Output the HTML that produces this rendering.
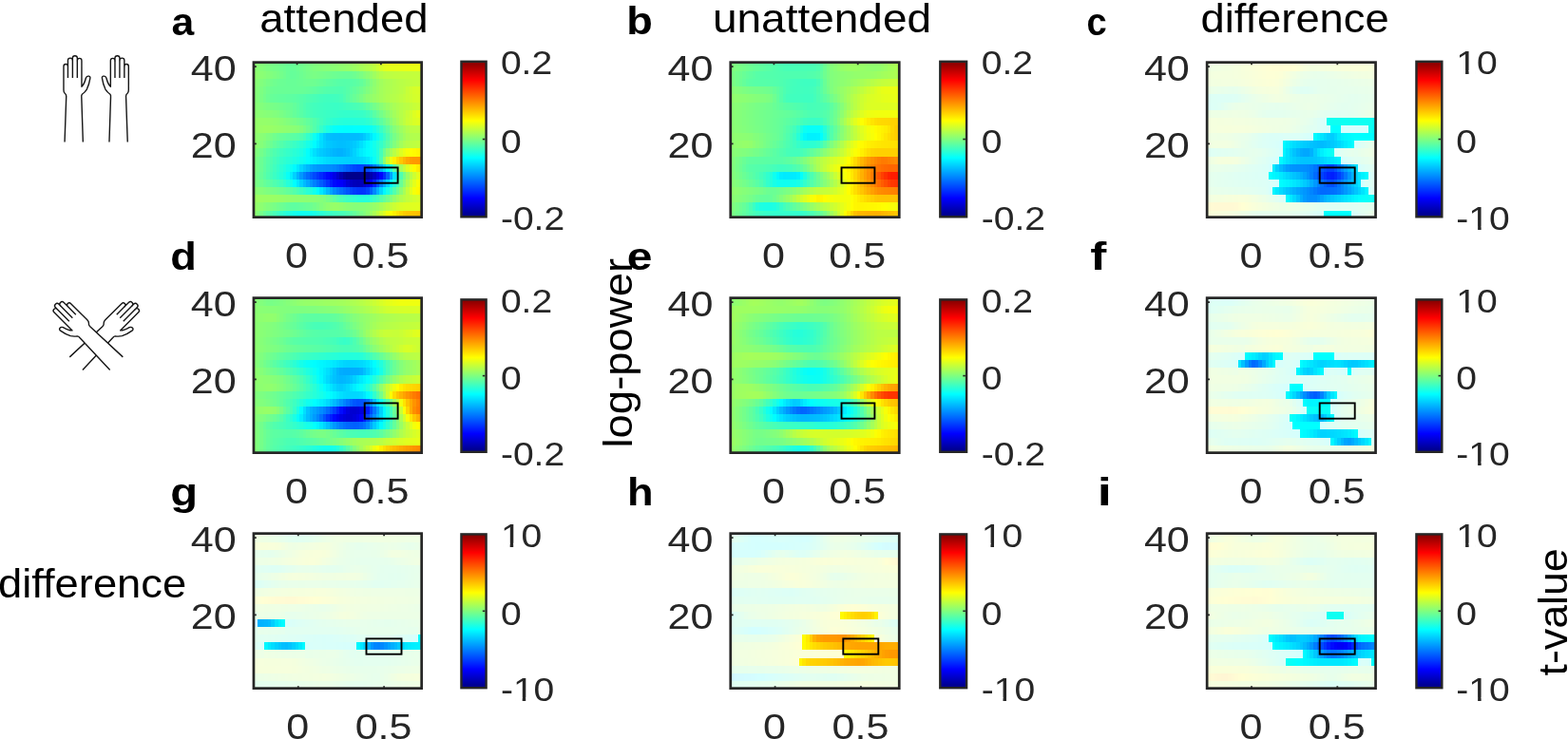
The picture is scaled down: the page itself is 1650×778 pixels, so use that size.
<!DOCTYPE html>
<html lang="en"><head><meta charset="utf-8"><title>Time-frequency figure</title>
<style>html,body{margin:0;padding:0;background:#fff;overflow:hidden}#fig{position:relative;width:1650px;height:778px;overflow:hidden;background:#fff}.hm{position:absolute;overflow:hidden}.in{position:absolute;left:-6px;top:-6px;right:-6px;bottom:-6px;filter:blur(0.6px)}.in i{position:absolute;left:0;right:0;display:block}svg{position:absolute;left:0;top:0;display:block;filter:blur(0.35px)}text{font-family:"Liberation Sans",sans-serif}</style></head>
<body>
<div id="fig">
<div class="hm" style="left:266.6px;top:65.3px;width:177.4px;height:163.7px"><div class="in"><i style="top:0px;height:16.14px;background:linear-gradient(90deg,#8cff73 0 4.5%,#89ff76 0 6.35%,#85ff7a 0 8.21%,#81ff7e 0 10.07%,#7dff82 0 11.93%,#79ff86 0 13.78%,#76ff89 0 15.64%,#74ff8b 0 17.5%,#70ff8f 0 19.36%,#6dff92 0 21.21%,#69ff96 0 23.07%,#67ff98 0 24.93%,#68ff97 0 26.78%,#6cff93 0 28.64%,#70ff8f 0 30.5%,#74ff8b 0 32.36%,#78ff87 0 34.21%,#7cff83 0 36.07%,#80ff7f 0 37.93%,#82ff7d 0 39.79%,#83ff7c 0 41.64%,#85ff7a 0 43.5%,#87ff78 0 45.36%,#89ff76 0 47.21%,#8bff74 0 49.07%,#8dff72 0 50.93%,#8fff70 0 52.79%,#91ff6e 0 54.64%,#94ff6b 0 56.5%,#97ff68 0 58.36%,#9cff63 0 60.21%,#a1ff5e 0 62.07%,#a6ff59 0 63.93%,#abff54 0 65.79%,#b0ff4f 0 67.64%,#b6ff49 0 69.5%,#bfff40 0 71.36%,#cbff34 0 73.22%,#d6ff29 0 75.07%,#dfff20 0 76.93%,#e3ff1c 0 78.79%,#e5ff1a 0 82.5%,#e6ff19 0 86.22%,#e7ff18 0 88.07%,#e8ff17 0 91.79%,#e9ff16 0 95.5%,#eaff15 0)"></i><i style="top:15.74px;height:8.54px;background:linear-gradient(90deg,#91ff6e 0 4.5%,#8eff71 0 6.35%,#8bff74 0 8.21%,#88ff77 0 10.07%,#84ff7b 0 11.93%,#81ff7e 0 13.78%,#7dff82 0 15.64%,#79ff86 0 17.5%,#74ff8b 0 19.36%,#6fff90 0 21.21%,#69ff96 0 23.07%,#65ff9a 0 24.93%,#66ff99 0 26.78%,#69ff96 0 28.64%,#6dff92 0 30.5%,#71ff8e 0 32.36%,#75ff8a 0 34.21%,#78ff87 0 36.07%,#7aff85 0 37.93%,#78ff87 0 39.79%,#76ff89 0 41.64%,#74ff8b 0 43.5%,#72ff8d 0 45.36%,#6fff90 0 47.21%,#6dff92 0 49.07%,#6bff94 0 50.93%,#6aff95 0 52.79%,#69ff96 0 56.5%,#6aff95 0 58.36%,#6eff91 0 60.21%,#74ff8b 0 62.07%,#7bff84 0 63.93%,#83ff7c 0 65.79%,#8bff74 0 67.64%,#95ff6a 0 69.5%,#9fff60 0 71.36%,#aaff55 0 73.22%,#b3ff4c 0 75.07%,#b9ff46 0 76.93%,#bcff43 0 78.79%,#bdff42 0 80.64%,#bfff40 0 82.5%,#c0ff3f 0 84.36%,#c1ff3e 0 86.22%,#c2ff3d 0 89.93%,#c3ff3c 0 91.79%,#c4ff3b 0 95.5%,#c5ff3a 0)"></i><i style="top:23.88px;height:8.54px;background:linear-gradient(90deg,#8bff74 0 4.5%,#87ff78 0 6.35%,#82ff7d 0 8.21%,#7dff82 0 10.07%,#78ff87 0 11.93%,#73ff8c 0 13.78%,#6fff90 0 15.64%,#6cff93 0 17.5%,#6bff94 0 19.36%,#6aff95 0 21.21%,#68ff97 0 26.78%,#6aff95 0 28.64%,#6bff94 0 30.5%,#6dff92 0 32.36%,#6eff91 0 36.07%,#6dff92 0 37.93%,#6aff95 0 39.79%,#67ff98 0 41.64%,#64ff9b 0 43.5%,#60ff9f 0 45.36%,#5dffa2 0 47.21%,#5affa5 0 49.07%,#57ffa8 0 50.93%,#56ffa9 0 52.79%,#55ffaa 0 54.64%,#56ffa9 0 56.5%,#57ffa8 0 58.36%,#5affa5 0 60.21%,#5effa1 0 62.07%,#63ff9c 0 63.93%,#6bff94 0 65.79%,#77ff88 0 67.64%,#83ff7c 0 69.5%,#8eff71 0 71.36%,#99ff66 0 73.22%,#a1ff5e 0 75.07%,#a7ff58 0 76.93%,#abff54 0 78.79%,#aeff51 0 80.64%,#b2ff4d 0 82.5%,#b6ff49 0 84.36%,#b8ff47 0 86.22%,#baff45 0 88.07%,#bdff42 0 89.93%,#c0ff3f 0 91.79%,#c2ff3d 0 93.65%,#c3ff3c 0 95.5%,#c4ff3b 0)"></i><i style="top:32.02px;height:8.54px;background:linear-gradient(90deg,#87ff78 0 4.5%,#83ff7c 0 6.35%,#7dff82 0 8.21%,#77ff88 0 10.07%,#71ff8e 0 11.93%,#6cff93 0 13.78%,#6aff95 0 15.64%,#69ff96 0 23.07%,#68ff97 0 30.5%,#67ff98 0 32.36%,#65ff9a 0 34.21%,#62ff9d 0 36.07%,#5fffa0 0 37.93%,#5bffa4 0 39.79%,#58ffa7 0 41.64%,#55ffaa 0 43.5%,#53ffac 0 45.36%,#51ffae 0 47.21%,#50ffaf 0 49.07%,#4fffb0 0 50.93%,#4effb1 0 52.79%,#51ffae 0 54.64%,#56ffa9 0 56.5%,#5cffa3 0 58.36%,#62ff9d 0 60.21%,#68ff97 0 62.07%,#6fff90 0 63.93%,#77ff88 0 65.79%,#80ff7f 0 67.64%,#89ff76 0 69.5%,#92ff6d 0 71.36%,#9bff64 0 73.22%,#a3ff5c 0 75.07%,#a8ff57 0 76.93%,#acff53 0 78.79%,#afff50 0 80.64%,#b3ff4c 0 82.5%,#b6ff49 0 84.36%,#b9ff46 0 86.22%,#beff41 0 88.07%,#c7ff38 0 89.93%,#d0ff2f 0 91.79%,#d5ff2a 0 93.65%,#d7ff28 0 95.5%,#d9ff26 0)"></i><i style="top:40.16px;height:8.54px;background:linear-gradient(90deg,#87ff78 0 4.5%,#82ff7d 0 6.35%,#7bff84 0 8.21%,#74ff8b 0 10.07%,#6dff92 0 11.93%,#67ff98 0 13.78%,#65ff9a 0 15.64%,#63ff9c 0 17.5%,#62ff9d 0 19.36%,#61ff9e 0 21.21%,#5fffa0 0 23.07%,#5effa1 0 24.93%,#5cffa3 0 26.78%,#59ffa6 0 28.64%,#56ffa9 0 30.5%,#53ffac 0 32.36%,#4fffb0 0 34.21%,#4cffb3 0 36.07%,#49ffb6 0 37.93%,#46ffb9 0 39.79%,#43ffbc 0 41.64%,#41ffbe 0 43.5%,#40ffbf 0 47.21%,#41ffbe 0 49.07%,#42ffbd 0 50.93%,#46ffb9 0 52.79%,#4effb1 0 54.64%,#58ffa7 0 56.5%,#61ff9e 0 58.36%,#68ff97 0 60.21%,#70ff8f 0 62.07%,#79ff86 0 63.93%,#83ff7c 0 65.79%,#8cff73 0 67.64%,#92ff6d 0 69.5%,#98ff67 0 71.36%,#9eff61 0 73.22%,#a4ff5b 0 75.07%,#a9ff56 0 76.93%,#aeff51 0 78.79%,#b2ff4d 0 80.64%,#b5ff4a 0 82.5%,#b9ff46 0 84.36%,#bdff42 0 86.22%,#c2ff3d 0 88.07%,#c8ff37 0 89.93%,#ceff31 0 91.79%,#d3ff2c 0 93.65%,#d5ff2a 0)"></i><i style="top:48.3px;height:8.54px;background:linear-gradient(90deg,#89ff76 0 4.5%,#87ff78 0 6.35%,#83ff7c 0 8.21%,#7fff80 0 10.07%,#7cff83 0 11.93%,#78ff87 0 13.78%,#76ff89 0 15.64%,#74ff8b 0 17.5%,#71ff8e 0 19.36%,#6eff91 0 21.21%,#6bff94 0 23.07%,#68ff97 0 24.93%,#63ff9c 0 26.78%,#5dffa2 0 28.64%,#56ffa9 0 30.5%,#4fffb0 0 32.36%,#49ffb6 0 34.21%,#45ffba 0 36.07%,#42ffbd 0 37.93%,#40ffbf 0 39.79%,#3fffc0 0 41.64%,#3dffc2 0 43.5%,#3cffc3 0 45.36%,#3bffc4 0 47.21%,#3affc5 0 50.93%,#3cffc3 0 52.79%,#3fffc0 0 54.64%,#42ffbd 0 56.5%,#45ffba 0 58.36%,#48ffb7 0 60.21%,#4bffb4 0 62.07%,#4fffb0 0 63.93%,#56ffa9 0 65.79%,#60ff9f 0 67.64%,#6aff95 0 69.5%,#74ff8b 0 71.36%,#7eff81 0 73.22%,#88ff77 0 75.07%,#91ff6e 0 76.93%,#9aff65 0 78.79%,#a2ff5d 0 80.64%,#a9ff56 0 82.5%,#afff50 0 84.36%,#b3ff4c 0 86.22%,#b8ff47 0 88.07%,#bcff43 0 89.93%,#c2ff3d 0 91.79%,#c7ff38 0 93.65%,#cbff34 0 95.5%,#cdff32 0)"></i><i style="top:56.44px;height:8.54px;background:linear-gradient(90deg,#8dff72 0 4.5%,#8cff73 0 6.35%,#8aff75 0 8.21%,#88ff77 0 10.07%,#86ff79 0 11.93%,#85ff7a 0 13.78%,#82ff7d 0 15.64%,#7fff80 0 17.5%,#7aff85 0 19.36%,#75ff8a 0 21.21%,#70ff8f 0 23.07%,#6bff94 0 24.93%,#65ff9a 0 26.78%,#5fffa0 0 28.64%,#59ffa6 0 30.5%,#52ffad 0 32.36%,#4cffb3 0 34.21%,#47ffb8 0 36.07%,#43ffbc 0 37.93%,#40ffbf 0 39.79%,#3effc1 0 41.64%,#3cffc3 0 43.5%,#3affc5 0 45.36%,#38ffc7 0 47.21%,#37ffc8 0 49.07%,#35ffca 0 50.93%,#34ffcb 0 52.79%,#33ffcc 0 56.5%,#34ffcb 0 58.36%,#35ffca 0 60.21%,#36ffc9 0 62.07%,#37ffc8 0 63.93%,#3affc5 0 65.79%,#41ffbe 0 67.64%,#4cffb3 0 69.5%,#5affa5 0 71.36%,#67ff98 0 73.22%,#74ff8b 0 75.07%,#80ff7f 0 76.93%,#8cff73 0 78.79%,#98ff67 0 80.64%,#a3ff5c 0 82.5%,#adff52 0 84.36%,#b6ff49 0 86.22%,#beff41 0 88.07%,#c7ff38 0 89.93%,#d2ff2d 0 91.79%,#deff21 0 93.65%,#e6ff19 0 95.5%,#e9ff16 0)"></i><i style="top:64.58px;height:8.54px;background:linear-gradient(90deg,#95ff6a 0 10.07%,#94ff6b 0 11.93%,#92ff6d 0 13.78%,#90ff6f 0 15.64%,#8eff71 0 17.5%,#8aff75 0 19.36%,#86ff79 0 21.21%,#82ff7d 0 23.07%,#7dff82 0 24.93%,#79ff86 0 26.78%,#74ff8b 0 28.64%,#6fff90 0 30.5%,#69ff96 0 32.36%,#62ff9d 0 34.21%,#5bffa4 0 36.07%,#53ffac 0 37.93%,#4bffb4 0 39.79%,#43ffbc 0 41.64%,#3bffc4 0 43.5%,#35ffca 0 45.36%,#30ffcf 0 47.21%,#2bffd4 0 49.07%,#28ffd7 0 50.93%,#26ffd9 0 52.79%,#24ffdb 0 56.5%,#25ffda 0 60.21%,#26ffd9 0 62.07%,#27ffd8 0 63.93%,#28ffd7 0 65.79%,#2dffd2 0 67.64%,#36ffc9 0 69.5%,#42ffbd 0 71.36%,#4fffb0 0 73.22%,#5cffa3 0 75.07%,#6bff94 0 76.93%,#7aff85 0 78.79%,#8aff75 0 80.64%,#99ff66 0 82.5%,#a7ff58 0 84.36%,#b3ff4c 0 86.22%,#bfff40 0 88.07%,#caff35 0 89.93%,#d2ff2d 0 91.79%,#d9ff26 0 93.65%,#ddff22 0 95.5%,#dfff20 0)"></i><i style="top:72.72px;height:8.54px;background:linear-gradient(90deg,#95ff6a 0 4.5%,#97ff68 0 6.35%,#99ff66 0 8.21%,#9bff64 0 10.07%,#9aff65 0 11.93%,#98ff67 0 13.78%,#96ff69 0 15.64%,#94ff6b 0 17.5%,#92ff6d 0 19.36%,#90ff6f 0 21.21%,#8eff71 0 23.07%,#8cff73 0 24.93%,#8aff75 0 26.78%,#87ff78 0 28.64%,#80ff7f 0 30.5%,#77ff88 0 32.36%,#6cff93 0 34.21%,#60ff9f 0 36.07%,#53ffac 0 37.93%,#45ffba 0 39.79%,#36ffc9 0 41.64%,#27ffd8 0 43.5%,#1affe5 0 45.36%,#0efff1 0 47.21%,#05fffa 0 49.07%,#01fffe 0 50.93%,#00ffff 0 52.79%,#00feff 0 58.36%,#00ffff 0 63.93%,#02fffd 0 65.79%,#05fffa 0 67.64%,#0afff5 0 69.5%,#16ffe9 0 71.36%,#27ffd8 0 73.22%,#39ffc6 0 75.07%,#4cffb3 0 76.93%,#5fffa0 0 78.79%,#73ff8c 0 80.64%,#84ff7b 0 82.5%,#92ff6d 0 84.36%,#9dff62 0 86.22%,#a8ff57 0 88.07%,#b2ff4d 0 89.93%,#b9ff46 0 91.79%,#bbff44 0 93.65%,#bcff43 0)"></i><i style="top:80.86px;height:8.54px;background:linear-gradient(90deg,#91ff6e 0 4.5%,#8eff71 0 6.35%,#8aff75 0 8.21%,#86ff79 0 10.07%,#7fff80 0 11.93%,#78ff87 0 13.78%,#71ff8e 0 15.64%,#6bff94 0 17.5%,#67ff98 0 19.36%,#64ff9b 0 21.21%,#60ff9f 0 23.07%,#5dffa2 0 24.93%,#5affa5 0 26.78%,#56ffa9 0 28.64%,#50ffaf 0 30.5%,#45ffba 0 32.36%,#34ffcb 0 34.21%,#21ffde 0 36.07%,#0cfff3 0 37.93%,#00f6ff 0 39.79%,#00e0ff 0 41.64%,#00cdff 0 43.5%,#00c1ff 0 45.36%,#00bdff 0 47.21%,#00bbff 0 50.93%,#00baff 0 52.79%,#00bbff 0 60.21%,#00bcff 0 62.07%,#00bfff 0 63.93%,#00c9ff 0 65.79%,#00d8ff 0 67.64%,#00e8ff 0 69.5%,#00f9ff 0 71.36%,#0dfff2 0 73.22%,#23ffdc 0 75.07%,#39ffc6 0 76.93%,#50ffaf 0 78.79%,#65ff9a 0 80.64%,#77ff88 0 82.5%,#86ff79 0 84.36%,#93ff6c 0 86.22%,#a0ff5f 0 88.07%,#aaff55 0 89.93%,#b0ff4f 0 91.79%,#b2ff4d 0)"></i><i style="top:89px;height:8.54px;background:linear-gradient(90deg,#90ff6f 0 4.5%,#8bff74 0 6.35%,#85ff7a 0 8.21%,#7eff81 0 10.07%,#75ff8a 0 11.93%,#6cff93 0 13.78%,#63ff9c 0 15.64%,#5bffa4 0 17.5%,#54ffab 0 19.36%,#4dffb2 0 21.21%,#47ffb8 0 23.07%,#40ffbf 0 24.93%,#3affc5 0 26.78%,#33ffcc 0 28.64%,#2cffd3 0 30.5%,#23ffdc 0 32.36%,#17ffe8 0 34.21%,#0bfff4 0 36.07%,#00fdff 0 37.93%,#00edff 0 39.79%,#00ddff 0 41.64%,#00d1ff 0 43.5%,#00c9ff 0 45.36%,#00c6ff 0 47.21%,#00c2ff 0 49.07%,#00bfff 0 50.93%,#00beff 0 52.79%,#00bfff 0 54.64%,#00c2ff 0 56.5%,#00c5ff 0 58.36%,#00caff 0 60.21%,#00d3ff 0 62.07%,#00dfff 0 63.93%,#00edff 0 65.79%,#00faff 0 67.64%,#08fff7 0 69.5%,#14ffeb 0 71.36%,#23ffdc 0 73.22%,#34ffcb 0 75.07%,#47ffb8 0 76.93%,#5bffa4 0 78.79%,#6eff91 0 80.64%,#81ff7e 0 82.5%,#92ff6d 0 84.36%,#a2ff5d 0 86.22%,#afff50 0 88.07%,#b6ff49 0 89.93%,#bbff44 0 91.79%,#beff41 0 93.65%,#c1ff3e 0 95.5%,#c3ff3c 0)"></i><i style="top:97.14px;height:8.54px;background:linear-gradient(90deg,#85ff7a 0 4.5%,#7eff81 0 6.35%,#74ff8b 0 8.21%,#6bff94 0 10.07%,#60ff9f 0 11.93%,#56ffa9 0 13.78%,#4effb1 0 15.64%,#47ffb8 0 17.5%,#40ffbf 0 19.36%,#3affc5 0 21.21%,#35ffca 0 23.07%,#2fffd0 0 24.93%,#29ffd6 0 26.78%,#24ffdb 0 28.64%,#1dffe2 0 30.5%,#12ffed 0 32.36%,#03fffc 0 34.21%,#00f0ff 0 36.07%,#00e0ff 0 37.93%,#00d3ff 0 39.79%,#00cbff 0 41.64%,#00c5ff 0 43.5%,#00bfff 0 45.36%,#00baff 0 47.21%,#00b5ff 0 49.07%,#00b1ff 0 52.79%,#00b6ff 0 54.64%,#00bdff 0 56.5%,#00c6ff 0 58.36%,#00d2ff 0 60.21%,#00e0ff 0 62.07%,#00ecff 0 63.93%,#00f5ff 0 65.79%,#00fdff 0 67.64%,#07fff8 0 69.5%,#10ffef 0 71.36%,#22ffdd 0 73.22%,#44ffbb 0 75.07%,#6cff93 0 76.93%,#8dff72 0 78.79%,#a5ff5a 0 80.64%,#b9ff46 0 82.5%,#cbff34 0 84.36%,#ddff22 0 86.22%,#ecff13 0 88.07%,#f6ff09 0 89.93%,#fdff02 0 91.79%,#fffb00 0 93.65%,#fff600 0 95.5%,#fff200 0)"></i><i style="top:105.28px;height:8.54px;background:linear-gradient(90deg,#7dff82 0 4.5%,#75ff8a 0 6.35%,#6bff94 0 8.21%,#61ff9e 0 10.07%,#57ffa8 0 11.93%,#4effb1 0 13.78%,#45ffba 0 15.64%,#3dffc2 0 17.5%,#35ffca 0 19.36%,#2fffd0 0 21.21%,#29ffd6 0 23.07%,#24ffdb 0 24.93%,#1effe1 0 26.78%,#18ffe7 0 28.64%,#11ffee 0 30.5%,#0afff5 0 32.36%,#02fffd 0 34.21%,#00f9ff 0 36.07%,#00f2ff 0 37.93%,#00ebff 0 39.79%,#00e5ff 0 41.64%,#00dfff 0 43.5%,#00daff 0 45.36%,#00d6ff 0 47.21%,#00d4ff 0 49.07%,#00d3ff 0 50.93%,#00d2ff 0 52.79%,#00d1ff 0 54.64%,#00d0ff 0 58.36%,#00d1ff 0 60.21%,#00d3ff 0 62.07%,#00d7ff 0 63.93%,#00dcff 0 65.79%,#00e5ff 0 67.64%,#00f4ff 0 69.5%,#08fff7 0 71.36%,#21ffde 0 73.22%,#4bffb4 0 75.07%,#8fff70 0 76.93%,#c4ff3b 0 78.79%,#ecff13 0 80.64%,#fff200 0 82.5%,#ffda00 0 84.36%,#ffc700 0 86.22%,#ffb500 0 88.07%,#ffa600 0 89.93%,#ff9c00 0 91.79%,#ff9900 0 93.65%,#ff9800 0 95.5%,#ff9700 0)"></i><i style="top:113.42px;height:8.54px;background:linear-gradient(90deg,#7eff81 0 4.5%,#75ff8a 0 6.35%,#6aff95 0 8.21%,#5fffa0 0 10.07%,#54ffab 0 11.93%,#4affb5 0 13.78%,#40ffbf 0 15.64%,#36ffc9 0 17.5%,#2cffd3 0 19.36%,#23ffdc 0 21.21%,#18ffe7 0 23.07%,#0cfff3 0 24.93%,#00fbff 0 26.78%,#00e9ff 0 28.64%,#00d6ff 0 30.5%,#00c5ff 0 32.36%,#00b6ff 0 34.21%,#00a7ff 0 36.07%,#009dff 0 37.93%,#0097ff 0 39.79%,#0094ff 0 41.64%,#0091ff 0 43.5%,#008eff 0 45.36%,#008bff 0 47.21%,#0086ff 0 49.07%,#007eff 0 50.93%,#0073ff 0 52.79%,#0067ff 0 54.64%,#005cff 0 56.5%,#0051ff 0 58.36%,#0047ff 0 60.21%,#0041ff 0 62.07%,#0040ff 0 63.93%,#0041ff 0 65.79%,#004bff 0 67.64%,#005fff 0 69.5%,#0079ff 0 71.36%,#0095ff 0 73.22%,#00b4ff 0 75.07%,#00d7ff 0 76.93%,#00fbff 0 78.79%,#24ffdb 0 80.64%,#54ffab 0 82.5%,#83ff7c 0 84.36%,#a7ff58 0 86.22%,#c3ff3c 0 88.07%,#ddff22 0 89.93%,#f2ff0d 0 91.79%,#fffb00 0 93.65%,#ffed00 0 95.5%,#ffe400 0)"></i><i style="top:121.56px;height:8.54px;background:linear-gradient(90deg,#7aff85 0 4.5%,#71ff8e 0 6.35%,#66ff99 0 8.21%,#5bffa4 0 10.07%,#50ffaf 0 11.93%,#45ffba 0 13.78%,#3bffc4 0 15.64%,#31ffce 0 17.5%,#26ffd9 0 19.36%,#1affe5 0 21.21%,#08fff7 0 23.07%,#00eeff 0 24.93%,#00d1ff 0 26.78%,#00b3ff 0 28.64%,#0097ff 0 30.5%,#007fff 0 32.36%,#006bff 0 34.21%,#005aff 0 36.07%,#0049ff 0 37.93%,#0038ff 0 39.79%,#0028ff 0 41.64%,#0018ff 0 43.5%,#0008ff 0 45.36%,#0000f7 0 47.21%,#0000e5 0 49.07%,#0000cd 0 50.93%,#0000b1 0 52.79%,#00009a 0 54.64%,#00008e 0 56.5%,#00008c 0 63.93%,#00008e 0 65.79%,#000097 0 67.64%,#0000ab 0 69.5%,#0000c3 0 71.36%,#0000df 0 73.22%,#0004ff 0 75.07%,#002eff 0 76.93%,#0063ff 0 78.79%,#00a3ff 0 80.64%,#00e4ff 0 82.5%,#1fffe0 0 84.36%,#4effb1 0 86.22%,#77ff88 0 88.07%,#9bff64 0 89.93%,#b7ff48 0 91.79%,#ceff31 0 93.65%,#e2ff1d 0 95.5%,#efff10 0)"></i><i style="top:129.7px;height:8.54px;background:linear-gradient(90deg,#7cff83 0 4.5%,#76ff89 0 6.35%,#6fff90 0 8.21%,#67ff98 0 10.07%,#5fffa0 0 11.93%,#58ffa7 0 13.78%,#50ffaf 0 15.64%,#49ffb6 0 17.5%,#40ffbf 0 19.36%,#34ffcb 0 21.21%,#25ffda 0 23.07%,#14ffeb 0 24.93%,#01fffe 0 26.78%,#00e9ff 0 28.64%,#00d1ff 0 30.5%,#00bbff 0 32.36%,#00a7ff 0 34.21%,#0093ff 0 36.07%,#0080ff 0 37.93%,#006eff 0 39.79%,#005cff 0 41.64%,#0049ff 0 43.5%,#0033ff 0 45.36%,#001bff 0 47.21%,#0008ff 0 49.07%,#0001ff 0 50.93%,#0000fb 0 52.79%,#0000ed 0 54.64%,#0000d7 0 56.5%,#0000c4 0 58.36%,#0000bb 0 60.21%,#0000b7 0 62.07%,#0000b9 0 63.93%,#0000c8 0 65.79%,#0000df 0 67.64%,#0000fb 0 69.5%,#0023ff 0 71.36%,#0052ff 0 73.22%,#0081ff 0 75.07%,#00acff 0 76.93%,#00d4ff 0 78.79%,#00faff 0 80.64%,#20ffdf 0 82.5%,#45ffba 0 84.36%,#68ff97 0 86.22%,#8cff73 0 88.07%,#afff50 0 89.93%,#cdff32 0 91.79%,#e5ff1a 0 93.65%,#f8ff07 0 95.5%,#fff900 0)"></i><i style="top:137.84px;height:8.54px;background:linear-gradient(90deg,#8cff73 0 4.5%,#89ff76 0 6.35%,#86ff79 0 8.21%,#82ff7d 0 10.07%,#7eff81 0 11.93%,#7aff85 0 13.78%,#77ff88 0 15.64%,#73ff8c 0 17.5%,#6eff91 0 19.36%,#69ff96 0 21.21%,#63ff9c 0 23.07%,#5cffa3 0 24.93%,#54ffab 0 26.78%,#4affb5 0 28.64%,#3fffc0 0 30.5%,#35ffca 0 32.36%,#2affd5 0 34.21%,#20ffdf 0 36.07%,#12ffed 0 37.93%,#00feff 0 39.79%,#00e8ff 0 41.64%,#00d2ff 0 43.5%,#00baff 0 45.36%,#00a2ff 0 47.21%,#008bff 0 49.07%,#007bff 0 50.93%,#006eff 0 52.79%,#0060ff 0 54.64%,#0053ff 0 56.5%,#0046ff 0 58.36%,#003bff 0 60.21%,#0035ff 0 62.07%,#0033ff 0 63.93%,#0035ff 0 65.79%,#0043ff 0 67.64%,#0061ff 0 69.5%,#0087ff 0 71.36%,#00afff 0 73.22%,#00d6ff 0 75.07%,#00f8ff 0 76.93%,#18ffe7 0 78.79%,#35ffca 0 80.64%,#52ffad 0 82.5%,#70ff8f 0 84.36%,#8cff73 0 86.22%,#a8ff57 0 88.07%,#c5ff3a 0 89.93%,#e1ff1e 0 91.79%,#f6ff09 0 93.65%,#fffa00 0 95.5%,#fff200 0)"></i><i style="top:145.98px;height:8.54px;background:linear-gradient(90deg,#9dff62 0 6.35%,#9cff63 0 8.21%,#9bff64 0 11.93%,#9aff65 0 13.78%,#99ff66 0 15.64%,#98ff67 0 17.5%,#97ff68 0 19.36%,#95ff6a 0 21.21%,#93ff6c 0 23.07%,#92ff6d 0 24.93%,#90ff6f 0 26.78%,#8fff70 0 30.5%,#8eff71 0 32.36%,#8dff72 0 34.21%,#8cff73 0 36.07%,#8bff74 0 37.93%,#88ff77 0 39.79%,#85ff7a 0 41.64%,#80ff7f 0 43.5%,#76ff89 0 45.36%,#6aff95 0 47.21%,#5fffa0 0 49.07%,#53ffac 0 50.93%,#4affb5 0 52.79%,#42ffbd 0 54.64%,#3bffc4 0 56.5%,#34ffcb 0 58.36%,#2fffd0 0 60.21%,#2affd5 0 62.07%,#27ffd8 0 63.93%,#25ffda 0 65.79%,#27ffd8 0 67.64%,#2fffd0 0 69.5%,#3affc5 0 71.36%,#46ffb9 0 73.22%,#54ffab 0 75.07%,#62ff9d 0 76.93%,#72ff8d 0 78.79%,#83ff7c 0 80.64%,#94ff6b 0 82.5%,#a4ff5b 0 84.36%,#b0ff4f 0 86.22%,#b9ff46 0 88.07%,#c2ff3d 0 89.93%,#caff35 0 91.79%,#d1ff2e 0 93.65%,#d6ff29 0 95.5%,#d8ff27 0)"></i><i style="top:154.12px;height:8.54px;background:linear-gradient(90deg,#97ff68 0 4.5%,#92ff6d 0 6.35%,#8dff72 0 8.21%,#87ff78 0 10.07%,#82ff7d 0 11.93%,#7dff82 0 13.78%,#78ff87 0 15.64%,#72ff8d 0 17.5%,#6dff92 0 19.36%,#68ff97 0 21.21%,#63ff9c 0 23.07%,#5fffa0 0 24.93%,#5effa1 0 26.78%,#60ff9f 0 28.64%,#63ff9c 0 30.5%,#66ff99 0 32.36%,#69ff96 0 34.21%,#6dff92 0 36.07%,#72ff8d 0 37.93%,#79ff86 0 39.79%,#81ff7e 0 41.64%,#88ff77 0 43.5%,#8eff71 0 45.36%,#94ff6b 0 47.21%,#97ff68 0 49.07%,#96ff69 0 50.93%,#92ff6d 0 52.79%,#8eff71 0 54.64%,#8bff74 0 56.5%,#89ff76 0 58.36%,#87ff78 0 62.07%,#88ff77 0 63.93%,#89ff76 0 65.79%,#8cff73 0 67.64%,#91ff6e 0 69.5%,#97ff68 0 71.36%,#9dff62 0 73.22%,#a6ff59 0 75.07%,#b0ff4f 0 76.93%,#baff45 0 78.79%,#c3ff3c 0 80.64%,#ccff33 0 82.5%,#d4ff2b 0 84.36%,#d9ff26 0 86.22%,#dcff23 0 88.07%,#deff21 0 89.93%,#dfff20 0 91.79%,#e0ff1f 0 93.65%,#e1ff1e 0 95.5%,#e2ff1d 0)"></i><i style="top:162.26px;height:18.14px;background:linear-gradient(90deg,#8eff71 0 4.5%,#83ff7c 0 6.35%,#75ff8a 0 8.21%,#67ff98 0 10.07%,#5cffa3 0 11.93%,#51ffae 0 13.78%,#47ffb8 0 15.64%,#3dffc2 0 17.5%,#33ffcc 0 19.36%,#2affd5 0 21.21%,#22ffdd 0 23.07%,#1affe5 0 24.93%,#14ffeb 0 26.78%,#0ffff0 0 28.64%,#0efff1 0 30.5%,#0ffff0 0 32.36%,#10ffef 0 34.21%,#12ffed 0 36.07%,#18ffe7 0 37.93%,#1fffe0 0 39.79%,#27ffd8 0 41.64%,#2effd1 0 43.5%,#34ffcb 0 45.36%,#39ffc6 0 47.21%,#3effc1 0 49.07%,#42ffbd 0 50.93%,#45ffba 0 52.79%,#49ffb6 0 54.64%,#50ffaf 0 56.5%,#5affa5 0 58.36%,#63ff9c 0 60.21%,#6dff92 0 62.07%,#77ff88 0 63.93%,#81ff7e 0 65.79%,#8dff72 0 67.64%,#9bff64 0 69.5%,#abff54 0 71.36%,#bcff43 0 73.22%,#ceff31 0 75.07%,#e0ff1f 0 76.93%,#f2ff0d 0 78.79%,#fffe00 0 80.64%,#fff000 0 82.5%,#ffe300 0 84.36%,#ffd600 0 86.22%,#ffcc00 0 88.07%,#ffc700 0 89.93%,#ffc400 0 91.79%,#ffc200 0 93.65%,#ffbf00 0 95.5%,#ffbd00 0)"></i></div></div>
<div class="hm" style="left:768.4px;top:65.3px;width:178.2px;height:163.7px"><div class="in"><i style="top:0px;height:16.14px;background:linear-gradient(90deg,#82ff7d 0 4.49%,#7fff80 0 6.34%,#7bff84 0 8.2%,#77ff88 0 10.06%,#73ff8c 0 11.92%,#6fff90 0 13.77%,#6bff94 0 15.63%,#67ff98 0 17.49%,#64ff9b 0 19.35%,#60ff9f 0 21.21%,#5dffa2 0 23.06%,#5affa5 0 24.92%,#57ffa8 0 26.78%,#53ffac 0 28.64%,#50ffaf 0 30.49%,#4dffb2 0 32.35%,#4affb5 0 34.21%,#49ffb6 0 41.64%,#4affb5 0 45.36%,#4bffb4 0 49.07%,#4cffb3 0 50.93%,#51ffae 0 52.79%,#5dffa2 0 54.64%,#6dff92 0 56.5%,#7bff84 0 58.36%,#84ff7b 0 60.22%,#8aff75 0 62.08%,#90ff6f 0 63.93%,#95ff6a 0 65.79%,#99ff66 0 67.65%,#9bff64 0 73.22%,#99ff66 0 75.08%,#97ff68 0 76.94%,#95ff6a 0 78.79%,#93ff6c 0 80.65%,#91ff6e 0 82.51%,#90ff6f 0 84.37%,#92ff6d 0 86.23%,#96ff69 0 88.08%,#9bff64 0 89.94%,#a1ff5e 0 91.8%,#a6ff59 0 93.66%,#abff54 0 95.51%,#afff50 0)"></i><i style="top:15.74px;height:8.54px;background:linear-gradient(90deg,#7dff82 0 4.49%,#79ff86 0 6.34%,#73ff8c 0 8.2%,#6eff91 0 10.06%,#68ff97 0 11.92%,#63ff9c 0 13.77%,#5fffa0 0 15.63%,#5bffa4 0 17.49%,#57ffa8 0 19.35%,#55ffaa 0 21.21%,#54ffab 0 23.06%,#53ffac 0 26.78%,#52ffad 0 28.64%,#51ffae 0 30.49%,#50ffaf 0 32.35%,#4fffb0 0 45.36%,#51ffae 0 47.21%,#52ffad 0 49.07%,#54ffab 0 50.93%,#58ffa7 0 52.79%,#62ff9d 0 54.64%,#6fff90 0 56.5%,#7aff85 0 58.36%,#82ff7d 0 60.22%,#86ff79 0 62.08%,#89ff76 0 63.93%,#8cff73 0 65.79%,#8eff71 0 67.65%,#90ff6f 0 69.51%,#91ff6e 0 71.36%,#93ff6c 0 73.22%,#94ff6b 0 75.08%,#95ff6a 0 76.94%,#96ff69 0 78.79%,#97ff68 0 80.65%,#99ff66 0 82.51%,#9bff64 0 84.37%,#9eff61 0 86.23%,#a1ff5e 0 88.08%,#a4ff5b 0 89.94%,#a7ff58 0 91.8%,#aaff55 0 93.66%,#adff52 0 95.51%,#afff50 0)"></i><i style="top:23.88px;height:8.54px;background:linear-gradient(90deg,#7eff81 0 4.49%,#79ff86 0 6.34%,#72ff8d 0 8.2%,#6bff94 0 10.06%,#64ff9b 0 11.92%,#5dffa2 0 13.77%,#5affa5 0 15.63%,#58ffa7 0 17.49%,#57ffa8 0 19.35%,#56ffa9 0 23.06%,#55ffaa 0 24.92%,#54ffab 0 26.78%,#53ffac 0 28.64%,#52ffad 0 30.49%,#4fffb0 0 32.35%,#4cffb3 0 34.21%,#49ffb6 0 36.07%,#45ffba 0 37.92%,#43ffbc 0 39.78%,#41ffbe 0 41.64%,#3fffc0 0 43.5%,#3effc1 0 49.07%,#40ffbf 0 50.93%,#47ffb8 0 52.79%,#56ffa9 0 54.64%,#69ff96 0 56.5%,#78ff87 0 58.36%,#81ff7e 0 60.22%,#86ff79 0 62.08%,#8aff75 0 63.93%,#8dff72 0 65.79%,#90ff6f 0 67.65%,#94ff6b 0 69.51%,#99ff66 0 71.36%,#9dff62 0 73.22%,#a2ff5d 0 75.08%,#a7ff58 0 76.94%,#acff53 0 78.79%,#b1ff4e 0 80.65%,#b7ff48 0 82.51%,#bcff43 0 84.37%,#c0ff3f 0 86.23%,#c3ff3c 0 88.08%,#c5ff3a 0 89.94%,#c7ff38 0 91.8%,#c9ff36 0 93.66%,#caff35 0 95.51%,#ccff33 0)"></i><i style="top:32.02px;height:8.54px;background:linear-gradient(90deg,#8aff75 0 4.49%,#88ff77 0 6.34%,#84ff7b 0 8.2%,#81ff7e 0 10.06%,#7dff82 0 11.92%,#7aff85 0 13.77%,#78ff87 0 15.63%,#76ff89 0 17.49%,#75ff8a 0 19.35%,#74ff8b 0 21.21%,#72ff8d 0 23.06%,#70ff8f 0 24.92%,#6cff93 0 26.78%,#65ff9a 0 28.64%,#5effa1 0 30.49%,#56ffa9 0 32.35%,#4effb1 0 34.21%,#48ffb7 0 36.07%,#44ffbb 0 37.92%,#42ffbd 0 39.78%,#41ffbe 0 43.5%,#40ffbf 0 47.21%,#42ffbd 0 49.07%,#46ffb9 0 50.93%,#4fffb0 0 52.79%,#5affa5 0 54.64%,#68ff97 0 56.5%,#75ff8a 0 58.36%,#80ff7f 0 60.22%,#89ff76 0 62.08%,#90ff6f 0 63.93%,#96ff69 0 65.79%,#9dff62 0 67.65%,#a3ff5c 0 69.51%,#aaff55 0 71.36%,#b0ff4f 0 73.22%,#b8ff47 0 75.08%,#bfff40 0 76.94%,#c7ff38 0 78.79%,#ceff31 0 80.65%,#d4ff2b 0 82.51%,#dbff24 0 84.37%,#e2ff1d 0 86.23%,#e7ff18 0 88.08%,#e9ff16 0 89.94%,#eaff15 0 91.8%,#ebff14 0 95.51%,#ecff13 0)"></i><i style="top:40.16px;height:8.54px;background:linear-gradient(90deg,#93ff6c 0 4.49%,#91ff6e 0 6.34%,#8fff70 0 8.2%,#8dff72 0 10.06%,#8cff73 0 11.92%,#8aff75 0 13.77%,#88ff77 0 15.63%,#86ff79 0 17.49%,#84ff7b 0 19.35%,#82ff7d 0 21.21%,#81ff7e 0 23.06%,#7eff81 0 24.92%,#78ff87 0 26.78%,#6eff91 0 28.64%,#62ff9d 0 30.49%,#56ffa9 0 32.35%,#4bffb4 0 34.21%,#44ffbb 0 36.07%,#41ffbe 0 37.92%,#40ffbf 0 41.64%,#3fffc0 0 43.5%,#3effc1 0 47.21%,#3fffc0 0 49.07%,#44ffbb 0 50.93%,#4cffb3 0 52.79%,#54ffab 0 54.64%,#5dffa2 0 56.5%,#66ff99 0 58.36%,#72ff8d 0 60.22%,#7dff82 0 62.08%,#88ff77 0 63.93%,#93ff6c 0 65.79%,#9eff61 0 67.65%,#a8ff57 0 69.51%,#b2ff4d 0 71.36%,#bbff44 0 73.22%,#c3ff3c 0 75.08%,#ccff33 0 76.94%,#d3ff2c 0 78.79%,#d8ff27 0 80.65%,#dbff24 0 82.51%,#deff21 0 84.37%,#e0ff1f 0 86.23%,#e3ff1c 0 88.08%,#e5ff1a 0 89.94%,#e6ff19 0 91.8%,#e7ff18 0 93.66%,#e9ff16 0 95.51%,#eaff15 0)"></i><i style="top:48.3px;height:8.54px;background:linear-gradient(90deg,#8dff72 0 4.49%,#8bff74 0 6.34%,#89ff76 0 8.2%,#86ff79 0 10.06%,#83ff7c 0 11.92%,#80ff7f 0 13.77%,#7dff82 0 15.63%,#7bff84 0 17.49%,#78ff87 0 19.35%,#76ff89 0 21.21%,#74ff8b 0 23.06%,#71ff8e 0 24.92%,#6eff91 0 26.78%,#69ff96 0 28.64%,#64ff9b 0 30.49%,#5fffa0 0 32.35%,#5affa5 0 34.21%,#57ffa8 0 36.07%,#55ffaa 0 37.92%,#52ffad 0 39.78%,#4fffb0 0 41.64%,#4cffb3 0 43.5%,#49ffb6 0 45.36%,#46ffb9 0 49.07%,#47ffb8 0 50.93%,#49ffb6 0 52.79%,#4bffb4 0 54.64%,#4effb1 0 56.5%,#53ffac 0 58.36%,#5dffa2 0 60.22%,#6aff95 0 62.08%,#78ff87 0 63.93%,#86ff79 0 65.79%,#95ff6a 0 67.65%,#a3ff5c 0 69.51%,#afff50 0 71.36%,#baff45 0 73.22%,#c4ff3b 0 75.08%,#ceff31 0 76.94%,#d6ff29 0 78.79%,#daff25 0 80.65%,#dcff23 0 86.23%,#ddff22 0 89.94%,#deff21 0 93.66%,#dfff20 0)"></i><i style="top:56.44px;height:8.54px;background:linear-gradient(90deg,#8bff74 0 4.49%,#89ff76 0 6.34%,#86ff79 0 8.2%,#84ff7b 0 10.06%,#81ff7e 0 11.92%,#7eff81 0 13.77%,#7cff83 0 15.63%,#79ff86 0 17.49%,#77ff88 0 19.35%,#74ff8b 0 21.21%,#72ff8d 0 23.06%,#70ff8f 0 24.92%,#6eff91 0 26.78%,#6bff94 0 28.64%,#69ff96 0 30.49%,#67ff98 0 32.35%,#65ff9a 0 34.21%,#63ff9c 0 36.07%,#60ff9f 0 37.92%,#5dffa2 0 39.78%,#59ffa6 0 41.64%,#55ffaa 0 43.5%,#51ffae 0 45.36%,#4effb1 0 47.21%,#4bffb4 0 50.93%,#4cffb3 0 52.79%,#4fffb0 0 54.64%,#53ffac 0 56.5%,#58ffa7 0 58.36%,#62ff9d 0 60.22%,#6fff90 0 62.08%,#7eff81 0 63.93%,#8eff71 0 65.79%,#9fff60 0 67.65%,#afff50 0 69.51%,#bcff43 0 71.36%,#c8ff37 0 73.22%,#d3ff2c 0 75.08%,#deff21 0 76.94%,#e7ff18 0 78.79%,#ecff13 0 80.65%,#eeff11 0 82.51%,#f0ff0f 0 84.37%,#f1ff0e 0 88.08%,#f2ff0d 0 91.8%,#f3ff0c 0)"></i><i style="top:64.58px;height:8.54px;background:linear-gradient(90deg,#8bff74 0 4.49%,#89ff76 0 6.34%,#86ff79 0 8.2%,#84ff7b 0 10.06%,#81ff7e 0 11.92%,#7fff80 0 13.77%,#7cff83 0 15.63%,#7aff85 0 17.49%,#77ff88 0 19.35%,#75ff8a 0 21.21%,#72ff8d 0 23.06%,#70ff8f 0 24.92%,#6dff92 0 26.78%,#6aff95 0 28.64%,#67ff98 0 30.49%,#64ff9b 0 32.35%,#60ff9f 0 34.21%,#5cffa3 0 36.07%,#58ffa7 0 37.92%,#54ffab 0 39.78%,#4effb1 0 41.64%,#46ffb9 0 43.5%,#40ffbf 0 45.36%,#3dffc2 0 47.21%,#3affc5 0 49.07%,#39ffc6 0 50.93%,#3affc5 0 52.79%,#40ffbf 0 54.64%,#4bffb4 0 56.5%,#57ffa8 0 58.36%,#64ff9b 0 60.22%,#72ff8d 0 62.08%,#85ff7a 0 63.93%,#9bff64 0 65.79%,#afff50 0 67.65%,#c1ff3e 0 69.51%,#d2ff2d 0 71.36%,#e2ff1d 0 73.22%,#f0ff0f 0 75.08%,#fdff02 0 76.94%,#fff600 0 78.79%,#ffec00 0 80.65%,#ffe400 0 82.51%,#ffdd00 0 84.37%,#ffd900 0 86.23%,#ffd800 0 88.08%,#ffd700 0 89.94%,#ffd600 0 91.8%,#ffd400 0 93.66%,#ffd300 0)"></i><i style="top:72.72px;height:8.54px;background:linear-gradient(90deg,#8cff73 0 4.49%,#8aff75 0 6.34%,#88ff77 0 8.2%,#85ff7a 0 10.06%,#83ff7c 0 11.92%,#80ff7f 0 13.77%,#7eff81 0 15.63%,#7bff84 0 17.49%,#79ff86 0 19.35%,#76ff89 0 21.21%,#73ff8c 0 23.06%,#70ff8f 0 24.92%,#6dff92 0 26.78%,#6aff95 0 28.64%,#67ff98 0 30.49%,#63ff9c 0 32.35%,#5cffa3 0 34.21%,#54ffab 0 36.07%,#4dffb2 0 37.92%,#43ffbc 0 39.78%,#33ffcc 0 41.64%,#1dffe2 0 43.5%,#0cfff3 0 45.36%,#06fff9 0 52.79%,#0ffff0 0 54.64%,#25ffda 0 56.5%,#3effc1 0 58.36%,#51ffae 0 60.22%,#63ff9c 0 62.08%,#75ff8a 0 63.93%,#87ff78 0 65.79%,#97ff68 0 67.65%,#a6ff59 0 69.51%,#b5ff4a 0 71.36%,#c4ff3b 0 73.22%,#d3ff2c 0 75.08%,#e0ff1f 0 76.94%,#eaff15 0 78.79%,#f3ff0c 0 80.65%,#faff05 0 82.51%,#fffc00 0 84.37%,#fff600 0 86.23%,#fff200 0 88.08%,#ffed00 0 89.94%,#ffe400 0 91.8%,#ffd700 0 93.66%,#ffce00 0 95.51%,#ffcc00 0)"></i><i style="top:80.86px;height:8.54px;background:linear-gradient(90deg,#8fff70 0 6.34%,#8eff71 0 8.2%,#8dff72 0 10.06%,#8cff73 0 11.92%,#8bff74 0 13.77%,#89ff76 0 15.63%,#85ff7a 0 17.49%,#82ff7d 0 19.35%,#7dff82 0 21.21%,#79ff86 0 23.06%,#74ff8b 0 24.92%,#70ff8f 0 26.78%,#6cff93 0 28.64%,#68ff97 0 30.49%,#62ff9d 0 32.35%,#59ffa6 0 34.21%,#50ffaf 0 36.07%,#47ffb8 0 37.92%,#3bffc4 0 39.78%,#27ffd8 0 41.64%,#0dfff2 0 43.5%,#00f8ff 0 45.36%,#00f1ff 0 50.93%,#00f3ff 0 52.79%,#00ffff 0 54.64%,#1cffe3 0 56.5%,#3bffc4 0 58.36%,#53ffac 0 60.22%,#67ff98 0 62.08%,#7aff85 0 63.93%,#8aff75 0 65.79%,#99ff66 0 67.65%,#a7ff58 0 69.51%,#b4ff4b 0 71.36%,#c1ff3e 0 73.22%,#cfff30 0 75.08%,#dcff23 0 76.94%,#e7ff18 0 78.79%,#f0ff0f 0 80.65%,#f8ff07 0 82.51%,#ffff00 0 84.37%,#fff700 0 86.23%,#ffef00 0 88.08%,#ffe600 0 89.94%,#ffdd00 0 91.8%,#ffd400 0 93.66%,#ffcf00 0)"></i><i style="top:89px;height:8.54px;background:linear-gradient(90deg,#8fff70 0 4.49%,#90ff6f 0 6.34%,#91ff6e 0 8.2%,#93ff6c 0 10.06%,#95ff6a 0 13.77%,#92ff6d 0 15.63%,#8cff73 0 17.49%,#86ff79 0 19.35%,#80ff7f 0 21.21%,#79ff86 0 23.06%,#73ff8c 0 24.92%,#6cff93 0 26.78%,#67ff98 0 28.64%,#61ff9e 0 30.49%,#5bffa4 0 32.35%,#54ffab 0 34.21%,#4dffb2 0 36.07%,#46ffb9 0 37.92%,#3fffc0 0 39.78%,#36ffc9 0 41.64%,#2dffd2 0 43.5%,#29ffd6 0 45.36%,#2affd5 0 47.21%,#2cffd3 0 49.07%,#2effd1 0 50.93%,#34ffcb 0 52.79%,#43ffbc 0 54.64%,#58ffa7 0 56.5%,#6dff92 0 58.36%,#7fff80 0 60.22%,#90ff6f 0 62.08%,#a1ff5e 0 63.93%,#b1ff4e 0 65.79%,#c2ff3d 0 67.65%,#d2ff2d 0 69.51%,#e0ff1f 0 71.36%,#edff12 0 73.22%,#f9ff06 0 75.08%,#fffb00 0 76.94%,#fff500 0 78.79%,#fff000 0 80.65%,#ffec00 0 82.51%,#ffe900 0 84.37%,#ffe700 0 86.23%,#ffe500 0 88.08%,#ffe400 0 89.94%,#ffe300 0 91.8%,#ffe200 0 93.66%,#ffe100 0)"></i><i style="top:97.14px;height:8.54px;background:linear-gradient(90deg,#8bff74 0 4.49%,#89ff76 0 6.34%,#86ff79 0 8.2%,#83ff7c 0 10.06%,#81ff7e 0 11.92%,#7eff81 0 13.77%,#7bff84 0 15.63%,#77ff88 0 17.49%,#74ff8b 0 19.35%,#6fff90 0 21.21%,#6aff95 0 23.06%,#65ff9a 0 24.92%,#60ff9f 0 26.78%,#5bffa4 0 28.64%,#56ffa9 0 30.49%,#51ffae 0 32.35%,#4dffb2 0 34.21%,#47ffb8 0 36.07%,#44ffbb 0 37.92%,#43ffbc 0 41.64%,#46ffb9 0 43.5%,#4dffb2 0 45.36%,#57ffa8 0 47.21%,#60ff9f 0 49.07%,#69ff96 0 50.93%,#72ff8d 0 52.79%,#7eff81 0 54.64%,#8cff73 0 56.5%,#98ff67 0 58.36%,#a3ff5c 0 60.22%,#aeff51 0 62.08%,#baff45 0 63.93%,#c6ff39 0 65.79%,#d4ff2b 0 67.65%,#e3ff1c 0 69.51%,#f0ff0f 0 71.36%,#faff05 0 73.22%,#fffa00 0 75.08%,#fff000 0 76.94%,#ffe600 0 78.79%,#ffdc00 0 80.65%,#ffd400 0 82.51%,#ffd100 0 84.37%,#ffd000 0 91.8%,#ffd100 0 95.51%,#ffd200 0)"></i><i style="top:105.28px;height:8.54px;background:linear-gradient(90deg,#87ff78 0 4.49%,#81ff7e 0 6.34%,#79ff86 0 8.2%,#71ff8e 0 10.06%,#69ff96 0 11.92%,#62ff9d 0 13.77%,#5fffa0 0 15.63%,#5effa1 0 17.49%,#5dffa2 0 19.35%,#5cffa3 0 21.21%,#5bffa4 0 23.06%,#5affa5 0 24.92%,#59ffa6 0 26.78%,#58ffa7 0 28.64%,#57ffa8 0 32.35%,#5affa5 0 34.21%,#5dffa2 0 36.07%,#61ff9e 0 37.92%,#67ff98 0 39.78%,#6fff90 0 41.64%,#78ff87 0 43.5%,#83ff7c 0 45.36%,#8eff71 0 47.21%,#9aff65 0 49.07%,#a5ff5a 0 50.93%,#b0ff4f 0 52.79%,#baff45 0 54.64%,#c2ff3d 0 56.5%,#caff35 0 58.36%,#d2ff2d 0 60.22%,#daff25 0 62.08%,#e1ff1e 0 63.93%,#e8ff17 0 65.79%,#f2ff0d 0 67.65%,#fffe00 0 69.51%,#ffed00 0 71.36%,#ffdb00 0 73.22%,#ffc800 0 75.08%,#ffb600 0 76.94%,#ffa800 0 78.79%,#ff9b00 0 80.65%,#ff9000 0 82.51%,#ff8700 0 84.37%,#ff7f00 0 86.23%,#ff7a00 0 88.08%,#ff7b00 0 89.94%,#ff8000 0 91.8%,#ff8500 0 93.66%,#ff8a00 0 95.51%,#ff8d00 0)"></i><i style="top:113.42px;height:8.54px;background:linear-gradient(90deg,#86ff79 0 4.49%,#7fff80 0 6.34%,#76ff89 0 8.2%,#6dff92 0 10.06%,#63ff9c 0 11.92%,#5bffa4 0 13.77%,#57ffa8 0 15.63%,#55ffaa 0 17.49%,#53ffac 0 19.35%,#51ffae 0 21.21%,#4fffb0 0 23.06%,#4cffb3 0 24.92%,#49ffb6 0 26.78%,#45ffba 0 28.64%,#41ffbe 0 30.49%,#40ffbf 0 32.35%,#41ffbe 0 34.21%,#43ffbc 0 36.07%,#46ffb9 0 37.92%,#4cffb3 0 39.78%,#53ffac 0 41.64%,#5dffa2 0 43.5%,#6aff95 0 45.36%,#79ff86 0 47.21%,#8aff75 0 49.07%,#9cff63 0 50.93%,#acff53 0 52.79%,#baff45 0 54.64%,#c6ff39 0 56.5%,#d3ff2c 0 58.36%,#dfff20 0 60.22%,#e9ff16 0 62.08%,#f1ff0e 0 63.93%,#f7ff08 0 65.79%,#ffff00 0 67.65%,#fff400 0 69.51%,#ffe600 0 71.36%,#ffd700 0 73.22%,#ffc600 0 75.08%,#ffb200 0 76.94%,#ffa000 0 78.79%,#ff9100 0 80.65%,#ff8500 0 82.51%,#ff7900 0 84.37%,#ff7100 0 86.23%,#ff6c00 0 88.08%,#ff6800 0 89.94%,#ff6500 0)"></i><i style="top:121.56px;height:8.54px;background:linear-gradient(90deg,#87ff78 0 4.49%,#81ff7e 0 6.34%,#7aff85 0 8.2%,#72ff8d 0 10.06%,#6aff95 0 11.92%,#63ff9c 0 13.77%,#5cffa3 0 15.63%,#56ffa9 0 17.49%,#4effb1 0 19.35%,#45ffba 0 21.21%,#3bffc4 0 23.06%,#30ffcf 0 24.92%,#22ffdd 0 26.78%,#0ffff0 0 28.64%,#00fbff 0 30.49%,#00eeff 0 32.35%,#00eaff 0 34.21%,#00ebff 0 37.92%,#00ecff 0 39.78%,#00f1ff 0 41.64%,#03fffc 0 43.5%,#1effe1 0 45.36%,#38ffc7 0 47.21%,#4bffb4 0 49.07%,#5cffa3 0 50.93%,#6eff91 0 52.79%,#80ff7f 0 54.64%,#91ff6e 0 56.5%,#a1ff5e 0 58.36%,#b4ff4b 0 60.22%,#c8ff37 0 62.08%,#dbff24 0 63.93%,#eaff15 0 65.79%,#f7ff08 0 67.65%,#fff900 0 69.51%,#ffe900 0 71.36%,#ffd600 0 73.22%,#ffc300 0 75.08%,#ffb000 0 76.94%,#ff9f00 0 78.79%,#ff8f00 0 80.65%,#ff7d00 0 82.51%,#ff6700 0 84.37%,#ff5200 0 86.23%,#ff3f00 0 88.08%,#ff2f00 0 89.94%,#ff2100 0 91.8%,#ff1b00 0 93.66%,#ff1a00 0)"></i><i style="top:129.7px;height:8.54px;background:linear-gradient(90deg,#8bff74 0 4.49%,#87ff78 0 6.34%,#81ff7e 0 8.2%,#7aff85 0 10.06%,#74ff8b 0 11.92%,#6eff91 0 13.77%,#67ff98 0 15.63%,#61ff9e 0 17.49%,#59ffa6 0 19.35%,#4effb1 0 21.21%,#41ffbe 0 23.06%,#33ffcc 0 24.92%,#24ffdb 0 26.78%,#18ffe7 0 28.64%,#11ffee 0 30.49%,#0ffff0 0 32.35%,#0efff1 0 34.21%,#0ffff0 0 36.07%,#10ffef 0 37.92%,#12ffed 0 39.78%,#18ffe7 0 41.64%,#24ffdb 0 43.5%,#34ffcb 0 45.36%,#44ffbb 0 47.21%,#52ffad 0 49.07%,#5fffa0 0 50.93%,#6cff93 0 52.79%,#79ff86 0 54.64%,#87ff78 0 56.5%,#95ff6a 0 58.36%,#a4ff5b 0 60.22%,#b4ff4b 0 62.08%,#c6ff39 0 63.93%,#d7ff28 0 65.79%,#e8ff17 0 67.65%,#f9ff06 0 69.51%,#fff200 0 71.36%,#ffdf00 0 73.22%,#ffcc00 0 75.08%,#ffbb00 0 76.94%,#ffaa00 0 78.79%,#ff9b00 0 80.65%,#ff8b00 0 82.51%,#ff7b00 0 84.37%,#ff6b00 0 86.23%,#ff5c00 0 88.08%,#ff4f00 0 89.94%,#ff4200 0 91.8%,#ff3800 0 93.66%,#ff3400 0 95.51%,#ff3300 0)"></i><i style="top:137.84px;height:8.54px;background:linear-gradient(90deg,#92ff6d 0 4.49%,#90ff6f 0 6.34%,#8dff72 0 8.2%,#89ff76 0 10.06%,#86ff79 0 11.92%,#83ff7c 0 13.77%,#80ff7f 0 15.63%,#7dff82 0 17.49%,#7aff85 0 19.35%,#76ff89 0 21.21%,#71ff8e 0 23.06%,#6cff93 0 24.92%,#6aff95 0 26.78%,#6bff94 0 28.64%,#6fff90 0 30.49%,#73ff8c 0 32.35%,#78ff87 0 34.21%,#7dff82 0 36.07%,#82ff7d 0 37.92%,#89ff76 0 39.78%,#92ff6d 0 41.64%,#9bff64 0 43.5%,#a4ff5b 0 45.36%,#acff53 0 47.21%,#b4ff4b 0 49.07%,#bbff44 0 50.93%,#c0ff3f 0 52.79%,#c3ff3c 0 54.64%,#c5ff3a 0 56.5%,#c8ff37 0 58.36%,#cbff34 0 60.22%,#d1ff2e 0 62.08%,#dbff24 0 63.93%,#e6ff19 0 65.79%,#f2ff0d 0 67.65%,#fffe00 0 69.51%,#ffef00 0 71.36%,#ffdf00 0 73.22%,#ffd100 0 75.08%,#ffc500 0 76.94%,#ffb800 0 78.79%,#ffac00 0 80.65%,#ffa000 0 82.51%,#ff9500 0 84.37%,#ff8d00 0 86.23%,#ff8a00 0 88.08%,#ff8700 0 89.94%,#ff8500 0 91.8%,#ff8300 0 93.66%,#ff8100 0 95.51%,#ff7f00 0)"></i><i style="top:145.98px;height:8.54px;background:linear-gradient(90deg,#8dff72 0 4.49%,#8aff75 0 6.34%,#87ff78 0 8.2%,#83ff7c 0 10.06%,#7fff80 0 11.92%,#7bff84 0 13.77%,#76ff89 0 15.63%,#70ff8f 0 17.49%,#6aff95 0 19.35%,#66ff99 0 21.21%,#65ff9a 0 23.06%,#64ff9b 0 24.92%,#67ff98 0 26.78%,#6eff91 0 28.64%,#78ff87 0 30.49%,#83ff7c 0 32.35%,#8eff71 0 34.21%,#98ff67 0 36.07%,#a4ff5b 0 37.92%,#b2ff4d 0 39.78%,#c2ff3d 0 41.64%,#d1ff2e 0 43.5%,#deff21 0 45.36%,#eaff15 0 47.21%,#f6ff09 0 49.07%,#fffd00 0 50.93%,#fff600 0 52.79%,#fff800 0 54.64%,#fffe00 0 56.5%,#faff05 0 58.36%,#f5ff0a 0 60.22%,#f2ff0d 0 63.93%,#f3ff0c 0 65.79%,#f4ff0b 0 67.65%,#f6ff09 0 69.51%,#fdff02 0 71.36%,#fff700 0 73.22%,#ffed00 0 75.08%,#ffe400 0 76.94%,#ffdc00 0 78.79%,#ffd500 0 80.65%,#ffce00 0 82.51%,#ffc700 0 84.37%,#ffc400 0 86.23%,#ffc300 0 91.8%,#ffc400 0)"></i><i style="top:154.12px;height:8.54px;background:linear-gradient(90deg,#84ff7b 0 4.49%,#7eff81 0 6.34%,#76ff89 0 8.2%,#6dff92 0 10.06%,#65ff9a 0 11.92%,#5affa5 0 13.77%,#4bffb4 0 15.63%,#39ffc6 0 17.49%,#27ffd8 0 19.35%,#1effe1 0 21.21%,#1bffe4 0 23.06%,#1affe5 0 26.78%,#1effe1 0 28.64%,#28ffd7 0 30.49%,#36ffc9 0 32.35%,#43ffbc 0 34.21%,#4effb1 0 36.07%,#57ffa8 0 37.92%,#61ff9e 0 39.78%,#6bff94 0 41.64%,#75ff8a 0 43.5%,#80ff7f 0 45.36%,#8bff74 0 47.21%,#96ff69 0 49.07%,#a0ff5f 0 50.93%,#a9ff56 0 52.79%,#b1ff4e 0 54.64%,#b9ff46 0 56.5%,#c0ff3f 0 58.36%,#c9ff36 0 60.22%,#d1ff2e 0 62.08%,#daff25 0 63.93%,#e4ff1b 0 65.79%,#edff12 0 67.65%,#f5ff0a 0 69.51%,#ffff00 0 71.36%,#fff700 0 73.22%,#fff500 0 76.94%,#fff600 0 78.79%,#fff700 0 80.65%,#fff800 0 82.51%,#fff900 0 84.37%,#fffb00 0 86.23%,#fffe00 0 88.08%,#feff01 0 89.94%,#fbff04 0 91.8%,#f8ff07 0 93.66%,#f6ff09 0 95.51%,#f4ff0b 0)"></i><i style="top:162.26px;height:18.14px;background:linear-gradient(90deg,#7dff82 0 4.49%,#77ff88 0 6.34%,#70ff8f 0 8.2%,#68ff97 0 10.06%,#60ff9f 0 11.92%,#58ffa7 0 13.77%,#50ffaf 0 15.63%,#49ffb6 0 17.49%,#42ffbd 0 19.35%,#3dffc2 0 21.21%,#39ffc6 0 23.06%,#36ffc9 0 24.92%,#34ffcb 0 26.78%,#32ffcd 0 32.35%,#33ffcc 0 36.07%,#32ffcd 0 39.78%,#31ffce 0 41.64%,#33ffcc 0 43.5%,#39ffc6 0 45.36%,#41ffbe 0 47.21%,#4affb5 0 49.07%,#54ffab 0 50.93%,#5dffa2 0 52.79%,#67ff98 0 54.64%,#77ff88 0 56.5%,#8bff74 0 58.36%,#9fff60 0 60.22%,#b4ff4b 0 62.08%,#ccff33 0 63.93%,#e4ff1b 0 65.79%,#fdff02 0 67.65%,#ffea00 0 69.51%,#ffd300 0 71.36%,#ffc000 0 73.22%,#ffb800 0 75.08%,#ffb600 0 76.94%,#ffb400 0 78.79%,#ffb200 0 80.65%,#ffb100 0 82.51%,#ffb000 0 84.37%,#ffb100 0 86.23%,#ffb500 0 88.08%,#ffb900 0 89.94%,#ffbd00 0 91.8%,#ffc100 0 93.66%,#ffc600 0 95.51%,#ffc900 0)"></i></div></div>
<div class="hm" style="left:1269.8px;top:65.3px;width:178.1px;height:163.7px"><div class="in"><i style="top:0px;height:16.14px;background:linear-gradient(90deg,#efffe4 0 3.42%,#efffe3 0 5.31%,#f0ffe3 0 7.21%,#f0ffe2 0 9.1%,#f1ffe2 0 10.99%,#f2ffe1 0 12.89%,#f2ffe0 0 14.78%,#f3ffe0 0 16.68%,#f4ffdf 0 18.57%,#f5ffde 0 20.46%,#f5ffdd 0 22.36%,#f7ffdc 0 24.25%,#f8ffdb 0 26.14%,#f9ffda 0 28.04%,#faffd9 0 29.93%,#fbffd8 0 31.83%,#fcffd7 0 33.72%,#fdffd6 0 35.61%,#feffd5 0 37.51%,#ffffd4 0 39.4%,#fffed4 0 43.19%,#fffdd4 0 45.08%,#fffed4 0 50.76%,#ffffd4 0 52.66%,#fcffd6 0 54.55%,#faffd9 0 56.44%,#f7ffdc 0 58.34%,#f5ffde 0 60.23%,#f3ffdf 0 64.02%,#f4ffdf 0 65.91%,#f5ffde 0 67.81%,#f5ffdd 0 69.7%,#f6ffdd 0 71.59%,#f7ffdc 0 73.49%,#f8ffdb 0 75.38%,#f8ffda 0 77.28%,#f9ffda 0 79.17%,#f9ffd9 0 82.96%,#faffd9 0 90.53%,#f9ffda 0 92.43%,#f8ffdb 0 94.32%,#f7ffdc 0 96.21%,#f6ffdc 0)"></i><i style="top:15.74px;height:8.54px;background:linear-gradient(90deg,#f3ffdf 0 7.21%,#f4ffdf 0 16.68%,#f4ffde 0 18.57%,#f5ffde 0 20.46%,#f5ffdd 0 22.36%,#f6ffdc 0 24.25%,#f7ffdb 0 26.14%,#f8ffdb 0 28.04%,#f9ffda 0 29.93%,#faffd9 0 31.83%,#fbffd8 0 33.72%,#fcffd7 0 35.61%,#fdffd6 0 41.29%,#fcffd6 0 43.19%,#fbffd8 0 45.08%,#f8ffda 0 46.98%,#f6ffdd 0 48.87%,#f3ffe0 0 50.76%,#f1ffe2 0 52.66%,#eeffe5 0 54.55%,#ecffe6 0 56.44%,#ebffe8 0 58.34%,#eaffe9 0 60.23%,#e9ffea 0 62.13%,#e8ffea 0 64.02%,#e8ffeb 0 67.81%,#e9ffea 0 69.7%,#eaffe9 0 71.59%,#ebffe8 0 73.49%,#ecffe7 0 75.38%,#edffe6 0 77.28%,#eeffe5 0 79.17%,#eeffe4 0 81.06%,#efffe3 0 82.96%,#f0ffe3 0 84.85%,#f1ffe2 0 86.74%,#f1ffe1 0 88.64%,#f2ffe1 0 90.53%,#f2ffe0 0 92.43%,#f3ffe0 0 96.21%,#f3ffdf 0)"></i><i style="top:23.88px;height:8.54px;background:linear-gradient(90deg,#f2ffe1 0 7.21%,#f2ffe0 0 10.99%,#f3ffe0 0 18.57%,#f3ffdf 0 20.46%,#f4ffdf 0 22.36%,#f5ffde 0 24.25%,#f6ffdd 0 26.14%,#f7ffdc 0 28.04%,#f8ffdb 0 29.93%,#f9ffda 0 31.83%,#f9ffd9 0 33.72%,#faffd8 0 35.61%,#fbffd8 0 37.51%,#fbffd7 0 39.4%,#fbffd8 0 41.29%,#faffd9 0 43.19%,#f7ffdb 0 45.08%,#f4ffde 0 46.98%,#f2ffe1 0 48.87%,#efffe4 0 50.76%,#ecffe6 0 52.66%,#eaffe9 0 54.55%,#e8ffeb 0 56.44%,#e6ffec 0 58.34%,#e5ffed 0 60.23%,#e5ffee 0 64.02%,#e5ffed 0 65.91%,#e6ffed 0 69.7%,#e6ffec 0 71.59%,#e7ffec 0 75.38%,#e7ffeb 0 77.28%,#e8ffeb 0 79.17%,#e8ffea 0 81.06%,#e9ffea 0 82.96%,#e9ffe9 0 84.85%,#eaffe9 0 86.74%,#eaffe8 0 88.64%,#ebffe8 0 90.53%,#ebffe7 0 92.43%,#ecffe7 0 94.32%,#ecffe6 0)"></i><i style="top:32.02px;height:8.54px;background:linear-gradient(90deg,#ecffe7 0 3.42%,#ebffe7 0 5.31%,#eaffe8 0 7.21%,#eaffe9 0 9.1%,#e9ffea 0 10.99%,#e8ffea 0 12.89%,#e8ffeb 0 14.78%,#e7ffec 0 16.68%,#e6ffec 0 18.57%,#e7ffec 0 20.46%,#e9ffea 0 22.36%,#ebffe8 0 24.25%,#edffe6 0 26.14%,#efffe4 0 28.04%,#f1ffe1 0 29.93%,#f3ffe0 0 31.83%,#f4ffdf 0 33.72%,#f5ffde 0 35.61%,#f5ffdd 0 37.51%,#f6ffdd 0 43.19%,#f3ffe0 0 45.08%,#efffe4 0 46.98%,#ebffe8 0 48.87%,#e7ffec 0 50.76%,#e3fff0 0 52.66%,#e1fff2 0 54.55%,#dffff3 0 56.44%,#dffff4 0 58.34%,#dffff3 0 60.23%,#e1fff2 0 62.13%,#e3fff0 0 64.02%,#e5ffee 0 65.91%,#e6ffed 0 69.7%,#e6ffec 0 75.38%,#e7ffec 0 84.85%,#e7ffeb 0 86.74%,#e8ffeb 0 90.53%,#e8ffea 0 92.43%,#e9ffea 0 96.21%,#e9ffe9 0)"></i><i style="top:40.16px;height:8.54px;background:linear-gradient(90deg,#defff5 0 5.31%,#ddfff5 0 9.1%,#ddfff6 0 12.89%,#ddfff5 0 16.68%,#defff5 0 18.57%,#defff4 0 20.46%,#e0fff2 0 22.36%,#e3fff0 0 24.25%,#e5ffee 0 26.14%,#e7ffec 0 28.04%,#e9ffea 0 29.93%,#ebffe8 0 31.83%,#ecffe7 0 33.72%,#edffe5 0 35.61%,#eeffe4 0 37.51%,#f0ffe3 0 39.4%,#f1ffe2 0 41.29%,#f2ffe1 0 43.19%,#f1ffe1 0 45.08%,#f0ffe3 0 46.98%,#efffe4 0 48.87%,#edffe5 0 50.76%,#ecffe6 0 52.66%,#ebffe7 0 54.55%,#ebffe8 0 56.44%,#eaffe8 0 60.23%,#ebffe8 0 64.02%,#eaffe8 0 65.91%,#eaffe9 0 67.81%,#e9ffe9 0 69.7%,#e9ffea 0 71.59%,#e8ffeb 0 73.49%,#e7ffec 0 75.38%,#e6ffec 0 77.28%,#e6ffed 0 79.17%,#e5ffee 0 81.06%,#e4ffee 0 82.96%,#e4ffef 0 84.85%,#e4ffee 0 86.74%,#e5ffee 0 88.64%,#e6ffed 0 90.53%,#e6ffec 0 92.43%,#e7ffec 0 94.32%,#e7ffeb 0 96.21%,#e8ffeb 0)"></i><i style="top:48.3px;height:8.54px;background:linear-gradient(90deg,#dbfff8 0 3.42%,#dcfff7 0 5.31%,#ddfff6 0 7.21%,#ddfff5 0 9.1%,#dffff4 0 10.99%,#e1fff1 0 12.89%,#e4ffef 0 14.78%,#e7ffec 0 16.68%,#e9ffea 0 18.57%,#eaffe8 0 20.46%,#ebffe8 0 24.25%,#eaffe8 0 26.14%,#eaffe9 0 28.04%,#e9ffe9 0 29.93%,#e9ffea 0 31.83%,#e8ffea 0 33.72%,#e7ffeb 0 35.61%,#e7ffec 0 37.51%,#e6ffed 0 41.29%,#e5ffed 0 43.19%,#e6ffed 0 45.08%,#e6ffec 0 46.98%,#e7ffeb 0 48.87%,#e8ffeb 0 50.76%,#e9ffea 0 52.66%,#eaffe9 0 54.55%,#eaffe8 0 56.44%,#ebffe7 0 58.34%,#ecffe7 0 60.23%,#ecffe6 0 62.13%,#ebffe7 0 64.02%,#eaffe8 0 65.91%,#e9ffea 0 67.81%,#e8ffeb 0 69.7%,#e7ffec 0 71.59%,#e6ffed 0 73.49%,#e5ffee 0 75.38%,#e4ffef 0 77.28%,#e3ffef 0 81.06%,#e4ffef 0 82.96%,#e4ffee 0 84.85%,#e5ffed 0 86.74%,#e6ffed 0 88.64%,#e7ffec 0 90.53%,#e8ffeb 0 92.43%,#e9ffea 0 94.32%,#e9ffe9 0 96.21%,#eaffe9 0)"></i><i style="top:56.44px;height:8.54px;background:linear-gradient(90deg,#eeffe5 0 3.42%,#edffe5 0 10.99%,#eeffe5 0 14.78%,#eeffe4 0 16.68%,#efffe4 0 20.46%,#eeffe4 0 22.36%,#eeffe5 0 24.25%,#edffe5 0 26.14%,#ecffe7 0 28.04%,#ebffe8 0 29.93%,#e9ffea 0 31.83%,#e7ffec 0 33.72%,#e5ffed 0 35.61%,#e4ffef 0 45.08%,#e4ffee 0 46.98%,#e5ffee 0 48.87%,#e6ffed 0 50.76%,#e6ffec 0 52.66%,#e7ffec 0 54.55%,#e8ffeb 0 56.44%,#e8ffea 0 58.34%,#e9ffea 0 60.23%,#e8ffea 0 62.13%,#e7ffec 0 64.02%,#e5ffee 0 65.91%,#e3fff0 0 67.81%,#e1fff1 0 69.7%,#e1fff2 0 71.59%,#e0fff3 0 75.38%,#e0fff2 0 77.28%,#e1fff2 0 79.17%,#e2fff1 0 81.06%,#e2fff0 0 82.96%,#e3ffef 0 84.85%,#e5ffee 0 86.74%,#e7ffec 0 88.64%,#e8ffea 0 90.53%,#eaffe8 0 92.43%,#ecffe6 0 94.32%,#eeffe5 0 96.21%,#efffe4 0)"></i><i style="top:64.58px;height:8.54px;background:linear-gradient(90deg,#f5ffdd 0 3.42%,#f5ffde 0 9.1%,#f4ffde 0 12.89%,#f4ffdf 0 16.68%,#f3ffdf 0 18.57%,#f3ffe0 0 24.25%,#f2ffe0 0 26.14%,#f2ffe1 0 28.04%,#f1ffe1 0 29.93%,#f1ffe2 0 31.83%,#f0ffe2 0 33.72%,#f0ffe3 0 35.61%,#efffe3 0 37.51%,#efffe4 0 45.08%,#eeffe4 0 46.98%,#eeffe5 0 48.87%,#edffe6 0 50.76%,#ecffe7 0 52.66%,#eaffe8 0 54.55%,#e9ffea 0 56.44%,#e8ffeb 0 58.34%,#e6ffed 0 60.23%,#e4ffef 0 62.13%,#e0fff2 0 64.02%,#ddfff6 0 65.91%,#dafff9 0 67.81%,#d8fffb 0 69.7%,#0dfff2 0)"></i><i style="top:72.72px;height:8.54px;background:linear-gradient(90deg,#f4ffdf 0 5.31%,#f5ffde 0 9.1%,#f6ffdd 0 12.89%,#f6ffdc 0 16.68%,#f6ffdd 0 24.25%,#f5ffdd 0 26.14%,#f5ffde 0 28.04%,#f4ffdf 0 29.93%,#f3ffe0 0 31.83%,#f2ffe0 0 33.72%,#f1ffe1 0 35.61%,#f1ffe2 0 37.51%,#f0ffe3 0 39.4%,#efffe3 0 41.29%,#efffe4 0 43.19%,#eeffe4 0 45.08%,#eeffe5 0 46.98%,#edffe6 0 48.87%,#ecffe7 0 50.76%,#eaffe9 0 52.66%,#e8ffeb 0 54.55%,#e6ffec 0 56.44%,#e4ffee 0 58.34%,#e2fff0 0 60.23%,#e0fff2 0 62.13%,#e0fff3 0 64.02%,#ddfff6 0 65.91%,#dbfff8 0 67.81%,#d8fffa 0 69.7%,#d6fffd 0 71.59%,#00ffff 0 77.28%,#d6fffd 0 92.43%,#0cfff3 0 94.32%,#08fff7 0 96.21%,#07fff8 0)"></i><i style="top:80.86px;height:8.54px;background:linear-gradient(90deg,#efffe3 0 5.31%,#efffe4 0 9.1%,#eeffe4 0 10.99%,#eeffe5 0 14.78%,#edffe6 0 16.68%,#ecffe7 0 18.57%,#ebffe8 0 20.46%,#eaffe9 0 22.36%,#e9ffea 0 24.25%,#e8ffeb 0 26.14%,#e6ffed 0 28.04%,#e3ffef 0 29.93%,#e1fff1 0 31.83%,#dffff3 0 33.72%,#ddfff5 0 35.61%,#dcfff7 0 37.51%,#dbfff7 0 43.19%,#dbfff8 0 45.08%,#dcfff7 0 54.55%,#dbfff8 0 56.44%,#d9fff9 0 58.34%,#d7fffb 0 60.23%,#d6fffd 0 62.13%,#00faff 0 64.02%,#00f0ff 0 65.91%,#00e5ff 0 67.81%,#00daff 0 69.7%,#00cfff 0 71.59%,#00cdff 0 73.49%,#00d9ff 0 75.38%,#00eaff 0 77.28%,#00f4ff 0 79.17%,#00f8ff 0 81.06%,#00fbff 0 82.96%,#00feff 0 84.85%,#00ffff 0)"></i><i style="top:89px;height:8.54px;background:linear-gradient(90deg,#f0ffe2 0 3.42%,#f1ffe2 0 5.31%,#f1ffe1 0 7.21%,#f2ffe1 0 14.78%,#f1ffe2 0 16.68%,#efffe3 0 18.57%,#edffe6 0 20.46%,#ebffe8 0 22.36%,#e8ffea 0 24.25%,#e6ffec 0 26.14%,#e4ffee 0 28.04%,#e2fff1 0 29.93%,#e0fff3 0 31.83%,#defff4 0 33.72%,#ddfff6 0 35.61%,#dcfff7 0 37.51%,#dbfff8 0 39.4%,#dafff9 0 41.29%,#d8fffa 0 43.19%,#d6fffd 0 45.08%,#00f9ff 0 46.98%,#00efff 0 48.87%,#00e5ff 0 50.76%,#00ddff 0 52.66%,#00d6ff 0 54.55%,#00d1ff 0 56.44%,#00ccff 0 58.34%,#00c8ff 0 60.23%,#00c3ff 0 62.13%,#00bfff 0 64.02%,#00bcff 0 65.91%,#00bbff 0 67.81%,#00bfff 0 69.7%,#00c4ff 0 71.59%,#00c9ff 0 73.49%,#00cfff 0 75.38%,#00d7ff 0 77.28%,#00e1ff 0 79.17%,#00ecff 0 81.06%,#00f5ff 0 82.96%,#00fbff 0 84.85%,#d7fffc 0 86.74%,#dbfff8 0 88.64%,#dffff4 0 90.53%,#e3fff0 0 92.43%,#e6ffed 0 94.32%,#e9ffea 0 96.21%,#eaffe9 0)"></i><i style="top:97.14px;height:8.54px;background:linear-gradient(90deg,#ddfff5 0 3.42%,#defff5 0 5.31%,#dffff4 0 7.21%,#e0fff3 0 9.1%,#e0fff2 0 10.99%,#e1fff2 0 12.89%,#e1fff1 0 14.78%,#e2fff1 0 16.68%,#e2fff0 0 18.57%,#e3fff0 0 20.46%,#e4ffef 0 22.36%,#e4ffee 0 24.25%,#e5ffed 0 26.14%,#e6ffed 0 28.04%,#e6ffec 0 29.93%,#e6ffed 0 31.83%,#e5ffee 0 33.72%,#e3fff0 0 35.61%,#e1fff2 0 37.51%,#dffff3 0 39.4%,#ddfff5 0 41.29%,#dbfff8 0 43.19%,#d7fffc 0 45.08%,#00f4ff 0 46.98%,#00e3ff 0 48.87%,#00d2ff 0 50.76%,#00c3ff 0 52.66%,#00b6ff 0 54.55%,#00acff 0 56.44%,#00a7ff 0 60.23%,#00b2ff 0 62.13%,#00caff 0 64.02%,#00e0ff 0 65.91%,#00efff 0 67.81%,#00faff 0 69.7%,#04fffb 0 71.59%,#0bfff4 0 73.49%,#d9fffa 0 75.38%,#defff5 0 77.28%,#e0fff3 0 79.17%,#e3fff0 0 81.06%,#e5ffee 0 82.96%,#e6ffec 0 84.85%,#e5ffee 0 86.74%,#e7ffeb 0 88.64%,#e9ffe9 0 90.53%,#ebffe8 0 92.43%,#ecffe6 0 94.32%,#edffe5 0 96.21%,#eeffe5 0)"></i><i style="top:105.28px;height:8.54px;background:linear-gradient(90deg,#ecffe6 0 3.42%,#eeffe5 0 5.31%,#f0ffe2 0 7.21%,#f3ffe0 0 9.1%,#f5ffde 0 10.99%,#f5ffdd 0 16.68%,#f5ffde 0 18.57%,#f4ffdf 0 20.46%,#f1ffe2 0 22.36%,#eeffe5 0 24.25%,#ebffe8 0 26.14%,#e8ffeb 0 28.04%,#e5ffed 0 29.93%,#e3fff0 0 31.83%,#e1fff2 0 33.72%,#dffff4 0 35.61%,#dcfff6 0 37.51%,#dafff9 0 39.4%,#d8fffb 0 41.29%,#d6fffd 0 43.19%,#00faff 0 45.08%,#00edff 0 46.98%,#00e1ff 0 48.87%,#00d7ff 0 50.76%,#00d0ff 0 52.66%,#00c9ff 0 54.55%,#00c5ff 0 56.44%,#00c4ff 0 62.13%,#00c6ff 0 64.02%,#00cbff 0 65.91%,#00d2ff 0 67.81%,#00d9ff 0 69.7%,#00e0ff 0 71.59%,#00e5ff 0 73.49%,#00ebff 0 75.38%,#00f1ff 0 77.28%,#d5fffe 0 79.17%,#d8fffa 0 81.06%,#dcfff7 0 82.96%,#dffff4 0 84.85%,#e1fff2 0 88.64%,#e3ffef 0 90.53%,#e5ffee 0 92.43%,#e7ffec 0 94.32%,#e8ffea 0 96.21%,#e9ffea 0)"></i><i style="top:113.42px;height:8.54px;background:linear-gradient(90deg,#eaffe9 0 3.42%,#e9ffe9 0 7.21%,#e9ffea 0 10.99%,#e8ffeb 0 12.89%,#e7ffeb 0 14.78%,#e7ffec 0 16.68%,#e6ffed 0 18.57%,#e5ffee 0 20.46%,#e4ffef 0 22.36%,#e3fff0 0 24.25%,#e1fff1 0 26.14%,#e0fff3 0 28.04%,#dffff4 0 29.93%,#defff5 0 31.83%,#ddfff6 0 33.72%,#dbfff7 0 35.61%,#dafff9 0 37.51%,#d6fffd 0 39.4%,#00ebff 0 41.29%,#00cfff 0 43.19%,#00baff 0 45.08%,#00aaff 0 46.98%,#009dff 0 48.87%,#0095ff 0 50.76%,#0092ff 0 52.66%,#0090ff 0 54.55%,#008fff 0 56.44%,#008dff 0 58.34%,#008aff 0 60.23%,#0082ff 0 62.13%,#0075ff 0 64.02%,#0066ff 0 65.91%,#0059ff 0 67.81%,#004dff 0 69.7%,#0043ff 0 73.49%,#0055ff 0 75.38%,#006fff 0 77.28%,#0088ff 0 79.17%,#00a0ff 0 81.06%,#00b6ff 0 82.96%,#00ccff 0 84.85%,#00e0ff 0 86.74%,#d4ffff 0 88.64%,#d9fff9 0 90.53%,#ddfff6 0 92.43%,#dffff4 0 94.32%,#e1fff1 0 96.21%,#e3fff0 0)"></i><i style="top:121.56px;height:8.54px;background:linear-gradient(90deg,#e5ffed 0 3.42%,#e5ffee 0 5.31%,#e4ffee 0 7.21%,#e4ffef 0 9.1%,#e3ffef 0 10.99%,#e3fff0 0 12.89%,#e2fff1 0 14.78%,#e1fff1 0 16.68%,#e1fff2 0 18.57%,#e0fff3 0 20.46%,#dffff3 0 22.36%,#dffff4 0 24.25%,#defff4 0 26.14%,#defff5 0 28.04%,#ddfff6 0 29.93%,#dcfff6 0 31.83%,#dcfff7 0 33.72%,#dbfff8 0 35.61%,#dafff8 0 37.51%,#00fdff 0 39.4%,#00f8ff 0 41.29%,#00f3ff 0 43.19%,#00eaff 0 45.08%,#00dfff 0 46.98%,#00d5ff 0 48.87%,#00ccff 0 50.76%,#00c4ff 0 52.66%,#00bbff 0 54.55%,#00b0ff 0 56.44%,#00a2ff 0 58.34%,#0092ff 0 60.23%,#0080ff 0 62.13%,#006bff 0 64.02%,#0055ff 0 65.91%,#0041ff 0 67.81%,#0031ff 0 69.7%,#0023ff 0 71.59%,#001eff 0 73.49%,#0029ff 0 75.38%,#003eff 0 77.28%,#0058ff 0 79.17%,#0077ff 0 81.06%,#0096ff 0 82.96%,#00b4ff 0 84.85%,#00d1ff 0 86.74%,#00e6ff 0 88.64%,#00f2ff 0 90.53%,#00faff 0 92.43%,#d7fffc 0 94.32%,#dbfff7 0 96.21%,#ddfff5 0)"></i><i style="top:129.7px;height:8.54px;background:linear-gradient(90deg,#e5ffed 0 3.42%,#e5ffee 0 7.21%,#e4ffef 0 9.1%,#e3ffef 0 10.99%,#e3fff0 0 12.89%,#e2fff0 0 14.78%,#e2fff1 0 16.68%,#e1fff1 0 18.57%,#e1fff2 0 20.46%,#e0fff2 0 22.36%,#e0fff3 0 24.25%,#dffff3 0 26.14%,#dffff4 0 28.04%,#defff4 0 29.93%,#defff5 0 31.83%,#ddfff5 0 33.72%,#ddfff6 0 35.61%,#dcfff7 0 37.51%,#dafff9 0 39.4%,#d8fffb 0 41.29%,#d5fffe 0 43.19%,#00fdff 0 45.08%,#00f9ff 0 46.98%,#00f4ff 0 48.87%,#00eeff 0 50.76%,#00e7ff 0 52.66%,#00dfff 0 54.55%,#00d6ff 0 56.44%,#00cbff 0 58.34%,#00bfff 0 60.23%,#00aeff 0 62.13%,#009aff 0 64.02%,#0084ff 0 65.91%,#0070ff 0 67.81%,#0060ff 0 69.7%,#0052ff 0 71.59%,#004eff 0 73.49%,#005cff 0 75.38%,#0073ff 0 77.28%,#0088ff 0 79.17%,#009cff 0 81.06%,#00afff 0 82.96%,#00c2ff 0 84.85%,#00d4ff 0 86.74%,#00e7ff 0 88.64%,#d4fffe 0 90.53%,#dbfff7 0 92.43%,#ddfff6 0 94.32%,#e0fff3 0 96.21%,#e1fff2 0)"></i><i style="top:137.84px;height:8.54px;background:linear-gradient(90deg,#eaffe9 0 3.42%,#e9ffe9 0 5.31%,#e9ffea 0 7.21%,#e8ffea 0 9.1%,#e8ffeb 0 10.99%,#e7ffeb 0 12.89%,#e7ffec 0 14.78%,#e6ffec 0 16.68%,#e6ffed 0 18.57%,#e5ffed 0 20.46%,#e5ffee 0 22.36%,#e4ffee 0 24.25%,#e4ffef 0 26.14%,#e3fff0 0 28.04%,#e2fff1 0 29.93%,#e1fff2 0 31.83%,#e0fff3 0 33.72%,#dffff4 0 35.61%,#ddfff6 0 37.51%,#d8fffb 0 39.4%,#00f6ff 0 41.29%,#00e9ff 0 43.19%,#00dbff 0 45.08%,#00cfff 0 46.98%,#00c4ff 0 48.87%,#00baff 0 50.76%,#00b0ff 0 52.66%,#00a6ff 0 54.55%,#009eff 0 56.44%,#0096ff 0 58.34%,#008eff 0 60.23%,#0085ff 0 62.13%,#007aff 0 64.02%,#0070ff 0 65.91%,#006aff 0 69.7%,#006cff 0 71.59%,#006fff 0 73.49%,#0073ff 0 75.38%,#007cff 0 77.28%,#0089ff 0 79.17%,#0098ff 0 81.06%,#00a7ff 0 82.96%,#00b6ff 0 84.85%,#00c5ff 0 86.74%,#00d5ff 0 88.64%,#00e4ff 0 90.53%,#00f4ff 0 92.43%,#d7fffc 0 94.32%,#dcfff7 0 96.21%,#defff4 0)"></i><i style="top:145.98px;height:8.54px;background:linear-gradient(90deg,#f2ffe1 0 3.42%,#f2ffe0 0 5.31%,#f3ffe0 0 7.21%,#f4ffdf 0 9.1%,#f4ffde 0 10.99%,#f5ffde 0 12.89%,#f6ffdd 0 14.78%,#f6ffdc 0 16.68%,#f7ffdc 0 18.57%,#f7ffdb 0 20.46%,#f8ffdb 0 24.25%,#f7ffdb 0 26.14%,#f5ffdd 0 28.04%,#f3ffe0 0 29.93%,#f1ffe2 0 31.83%,#eeffe4 0 33.72%,#ecffe7 0 35.61%,#e9ffea 0 37.51%,#e6ffed 0 39.4%,#e4ffef 0 41.29%,#e0fff3 0 43.19%,#dcfff7 0 45.08%,#d8fffa 0 46.98%,#00f9ff 0 48.87%,#00eaff 0 50.76%,#00d8ff 0 52.66%,#00c4ff 0 54.55%,#00adff 0 56.44%,#009bff 0 58.34%,#0092ff 0 60.23%,#008eff 0 64.02%,#0097ff 0 65.91%,#00a5ff 0 67.81%,#00b3ff 0 69.7%,#00bdff 0 71.59%,#00c5ff 0 73.49%,#00cdff 0 75.38%,#00d4ff 0 77.28%,#00dcff 0 79.17%,#00e3ff 0 81.06%,#00ebff 0 82.96%,#00f2ff 0 84.85%,#00f9ff 0 86.74%,#00ffff 0 88.64%,#03fffc 0 90.53%,#06fff9 0 92.43%,#09fff6 0 94.32%,#0bfff4 0 96.21%,#0cfff3 0)"></i><i style="top:154.12px;height:8.54px;background:linear-gradient(90deg,#fffcd4 0 3.42%,#fffbd4 0 5.31%,#fffad4 0 7.21%,#fff9d4 0 18.57%,#fffad4 0 20.46%,#fffdd4 0 22.36%,#ffffd4 0 24.25%,#fdffd6 0 26.14%,#fbffd8 0 28.04%,#f9ffda 0 29.93%,#f7ffdb 0 31.83%,#f6ffdd 0 33.72%,#f4ffde 0 35.61%,#f3ffe0 0 37.51%,#f1ffe1 0 39.4%,#f0ffe3 0 41.29%,#efffe4 0 43.19%,#edffe5 0 45.08%,#ecffe7 0 46.98%,#efffe4 0 48.87%,#eeffe5 0 50.76%,#edffe6 0 52.66%,#ecffe7 0 54.55%,#ebffe8 0 56.44%,#e9ffe9 0 58.34%,#e8ffea 0 60.23%,#e7ffec 0 62.13%,#e5ffed 0 64.02%,#e3ffef 0 65.91%,#e2fff1 0 69.7%,#e0fff3 0 71.59%,#dffff4 0 75.38%,#dffff3 0 77.28%,#e0fff3 0 81.06%,#e0fff2 0 82.96%,#dffff4 0 84.85%,#e0fff3 0 86.74%,#e1fff2 0 88.64%,#e2fff1 0 90.53%,#e2fff0 0 92.43%,#e3ffef 0 94.32%,#e4ffef 0 96.21%,#e4ffee 0)"></i><i style="top:162.26px;height:18.14px;background:linear-gradient(90deg,#fbffd7 0 3.42%,#fbffd8 0 5.31%,#faffd9 0 7.21%,#f9ffda 0 9.1%,#f8ffdb 0 10.99%,#f7ffdc 0 12.89%,#f6ffdd 0 14.78%,#f5ffde 0 16.68%,#f4ffdf 0 18.57%,#f2ffe0 0 20.46%,#f0ffe2 0 22.36%,#eeffe4 0 24.25%,#ecffe6 0 26.14%,#eaffe9 0 28.04%,#e8ffeb 0 29.93%,#e6ffec 0 31.83%,#e6ffed 0 39.4%,#e6ffec 0 48.87%,#e6ffed 0 50.76%,#e5ffee 0 52.66%,#e4ffef 0 54.55%,#e3fff0 0 56.44%,#e2fff1 0 58.34%,#e0fff2 0 60.23%,#dffff4 0 62.13%,#dcfff7 0 64.02%,#d9fff9 0 65.91%,#d7fffc 0 67.81%,#00ffff 0 82.96%,#d6fffd 0 84.85%,#dafff9 0 86.74%,#defff5 0 88.64%,#e2fff1 0 90.53%,#e5ffee 0 92.43%,#e8ffeb 0 94.32%,#eaffe8 0 96.21%,#ecffe7 0)"></i></div></div>
<div class="hm" style="left:266.6px;top:313.3px;width:177.4px;height:163.7px"><div class="in"><i style="top:0px;height:15.34px;background:linear-gradient(90deg,#89ff76 0 4.5%,#86ff79 0 6.35%,#82ff7d 0 8.21%,#7eff81 0 10.07%,#7aff85 0 11.93%,#78ff87 0 13.78%,#7aff85 0 15.64%,#7cff83 0 17.5%,#7fff80 0 19.36%,#82ff7d 0 21.21%,#86ff79 0 23.07%,#89ff76 0 24.93%,#8cff73 0 26.78%,#90ff6f 0 28.64%,#93ff6c 0 30.5%,#95ff6a 0 32.36%,#96ff69 0 34.21%,#97ff68 0 36.07%,#98ff67 0 37.93%,#99ff66 0 39.79%,#9aff65 0 41.64%,#9cff63 0 43.5%,#9dff62 0 45.36%,#9eff61 0 47.21%,#9fff60 0 49.07%,#a1ff5e 0 50.93%,#a2ff5d 0 52.79%,#a4ff5b 0 54.64%,#a7ff58 0 56.5%,#abff54 0 58.36%,#aeff51 0 60.21%,#b2ff4d 0 62.07%,#b6ff49 0 63.93%,#baff45 0 65.79%,#bfff40 0 67.64%,#c5ff3a 0 69.5%,#cbff34 0 71.36%,#d1ff2e 0 73.22%,#d7ff28 0 75.07%,#ddff22 0 76.93%,#e2ff1d 0 78.79%,#e6ff19 0 80.64%,#eaff15 0 82.5%,#edff12 0 84.36%,#efff10 0)"></i><i style="top:14.94px;height:8.54px;background:linear-gradient(90deg,#8bff74 0 6.35%,#8aff75 0 8.21%,#89ff76 0 10.07%,#88ff77 0 11.93%,#87ff78 0 15.64%,#85ff7a 0 17.5%,#83ff7c 0 19.36%,#82ff7d 0 21.21%,#81ff7e 0 24.93%,#80ff7f 0 28.64%,#7fff80 0 32.36%,#80ff7f 0 34.21%,#81ff7e 0 37.93%,#83ff7c 0 39.79%,#84ff7b 0 41.64%,#85ff7a 0 43.5%,#87ff78 0 45.36%,#88ff77 0 47.21%,#8aff75 0 49.07%,#8dff72 0 50.93%,#90ff6f 0 52.79%,#94ff6b 0 54.64%,#98ff67 0 56.5%,#9cff63 0 58.36%,#a0ff5f 0 60.21%,#a4ff5b 0 62.07%,#a7ff58 0 63.93%,#abff54 0 65.79%,#b0ff4f 0 67.64%,#b5ff4a 0 69.5%,#bbff44 0 71.36%,#c0ff3f 0 73.22%,#c6ff39 0 75.07%,#cbff34 0 76.93%,#d0ff2f 0 78.79%,#d2ff2d 0 80.64%,#d4ff2b 0 82.5%,#d5ff2a 0 84.36%,#d6ff29 0 86.22%,#d7ff28 0 89.93%,#d8ff27 0 91.79%,#d9ff26 0 93.65%,#daff25 0)"></i><i style="top:23.08px;height:8.54px;background:linear-gradient(90deg,#8dff72 0 4.5%,#8eff71 0 6.35%,#8fff70 0 8.21%,#91ff6e 0 10.07%,#92ff6d 0 13.78%,#90ff6f 0 15.64%,#8aff75 0 17.5%,#83ff7c 0 19.36%,#7dff82 0 21.21%,#77ff88 0 23.07%,#72ff8d 0 24.93%,#6dff92 0 26.78%,#67ff98 0 28.64%,#63ff9c 0 30.5%,#5fffa0 0 32.36%,#5effa1 0 34.21%,#5dffa2 0 36.07%,#5cffa3 0 39.79%,#5dffa2 0 43.5%,#5effa1 0 45.36%,#60ff9f 0 47.21%,#62ff9d 0 49.07%,#66ff99 0 50.93%,#6bff94 0 52.79%,#71ff8e 0 54.64%,#78ff87 0 56.5%,#7fff80 0 58.36%,#85ff7a 0 60.21%,#8aff75 0 62.07%,#8fff70 0 63.93%,#93ff6c 0 65.79%,#97ff68 0 67.64%,#9cff63 0 69.5%,#a0ff5f 0 71.36%,#a5ff5a 0 73.22%,#a8ff57 0 75.07%,#abff54 0 76.93%,#adff52 0 78.79%,#afff50 0 80.64%,#b1ff4e 0 82.5%,#b3ff4c 0 84.36%,#b4ff4b 0 86.22%,#b5ff4a 0 88.07%,#b6ff49 0 89.93%,#b7ff48 0 91.79%,#b8ff47 0 93.65%,#b9ff46 0 95.5%,#baff45 0)"></i><i style="top:31.22px;height:8.54px;background:linear-gradient(90deg,#8cff73 0 4.5%,#8bff74 0 6.35%,#89ff76 0 8.21%,#87ff78 0 10.07%,#85ff7a 0 11.93%,#83ff7c 0 13.78%,#80ff7f 0 15.64%,#7cff83 0 17.5%,#77ff88 0 19.36%,#72ff8d 0 21.21%,#6eff91 0 23.07%,#69ff96 0 24.93%,#65ff9a 0 26.78%,#5fffa0 0 28.64%,#5affa5 0 30.5%,#55ffaa 0 32.36%,#50ffaf 0 34.21%,#4bffb4 0 36.07%,#48ffb7 0 37.93%,#47ffb8 0 41.64%,#48ffb7 0 43.5%,#4affb5 0 45.36%,#4dffb2 0 47.21%,#50ffaf 0 49.07%,#54ffab 0 50.93%,#5affa5 0 52.79%,#62ff9d 0 54.64%,#6bff94 0 56.5%,#73ff8c 0 58.36%,#7bff84 0 60.21%,#83ff7c 0 62.07%,#8aff75 0 63.93%,#91ff6e 0 65.79%,#98ff67 0 67.64%,#9fff60 0 69.5%,#a5ff5a 0 71.36%,#abff54 0 73.22%,#afff50 0 75.07%,#b2ff4d 0 76.93%,#b5ff4a 0 78.79%,#b7ff48 0 80.64%,#b9ff46 0 82.5%,#bbff44 0 84.36%,#bdff42 0 86.22%,#bfff40 0 88.07%,#c0ff3f 0 89.93%,#c2ff3d 0 91.79%,#c3ff3c 0 93.65%,#c5ff3a 0)"></i><i style="top:39.36px;height:8.54px;background:linear-gradient(90deg,#8eff71 0 4.5%,#8cff73 0 6.35%,#89ff76 0 8.21%,#87ff78 0 10.07%,#84ff7b 0 11.93%,#82ff7d 0 13.78%,#7fff80 0 15.64%,#7dff82 0 17.5%,#7aff85 0 19.36%,#77ff88 0 21.21%,#75ff8a 0 23.07%,#71ff8e 0 24.93%,#6dff92 0 26.78%,#69ff96 0 28.64%,#64ff9b 0 30.5%,#60ff9f 0 32.36%,#5cffa3 0 34.21%,#58ffa7 0 36.07%,#56ffa9 0 37.93%,#55ffaa 0 39.79%,#54ffab 0 45.36%,#55ffaa 0 49.07%,#56ffa9 0 50.93%,#58ffa7 0 52.79%,#5bffa4 0 54.64%,#60ff9f 0 56.5%,#66ff99 0 58.36%,#6eff91 0 60.21%,#78ff87 0 62.07%,#84ff7b 0 63.93%,#91ff6e 0 65.79%,#9eff61 0 67.64%,#a9ff56 0 69.5%,#b3ff4c 0 71.36%,#bcff43 0 73.22%,#c3ff3c 0 75.07%,#c8ff37 0 76.93%,#c9ff36 0 78.79%,#c8ff37 0 80.64%,#c7ff38 0 84.36%,#caff35 0 86.22%,#cfff30 0 88.07%,#d4ff2b 0 89.93%,#d9ff26 0 91.79%,#dfff20 0 93.65%,#e2ff1d 0 95.5%,#e4ff1b 0)"></i><i style="top:47.5px;height:8.54px;background:linear-gradient(90deg,#8cff73 0 4.5%,#8aff75 0 6.35%,#86ff79 0 8.21%,#82ff7d 0 10.07%,#7eff81 0 11.93%,#7aff85 0 13.78%,#76ff89 0 15.64%,#72ff8d 0 17.5%,#6eff91 0 19.36%,#68ff97 0 21.21%,#62ff9d 0 23.07%,#5dffa2 0 24.93%,#59ffa6 0 26.78%,#57ffa8 0 28.64%,#56ffa9 0 30.5%,#54ffab 0 32.36%,#52ffad 0 34.21%,#51ffae 0 36.07%,#50ffaf 0 37.93%,#4fffb0 0 39.79%,#4effb1 0 41.64%,#4bffb4 0 43.5%,#49ffb6 0 45.36%,#47ffb8 0 47.21%,#44ffbb 0 49.07%,#3fffc0 0 50.93%,#3affc5 0 52.79%,#37ffc8 0 54.64%,#3affc5 0 56.5%,#43ffbc 0 58.36%,#4dffb2 0 60.21%,#59ffa6 0 62.07%,#66ff99 0 63.93%,#75ff8a 0 65.79%,#84ff7b 0 67.64%,#91ff6e 0 69.5%,#9bff64 0 71.36%,#a3ff5c 0 73.22%,#acff53 0 75.07%,#b3ff4c 0 76.93%,#b9ff46 0 78.79%,#bdff42 0 80.64%,#bfff40 0 82.5%,#c1ff3e 0 84.36%,#c3ff3c 0 86.22%,#c7ff38 0 88.07%,#c9ff36 0 89.93%,#caff35 0 91.79%,#cbff34 0)"></i><i style="top:55.64px;height:8.54px;background:linear-gradient(90deg,#8eff71 0 4.5%,#8bff74 0 6.35%,#88ff77 0 8.21%,#85ff7a 0 10.07%,#82ff7d 0 11.93%,#7fff80 0 13.78%,#7dff82 0 15.64%,#7aff85 0 17.5%,#76ff89 0 19.36%,#72ff8d 0 21.21%,#6eff91 0 23.07%,#6aff95 0 24.93%,#67ff98 0 26.78%,#64ff9b 0 28.64%,#62ff9d 0 30.5%,#60ff9f 0 32.36%,#5effa1 0 34.21%,#5cffa3 0 36.07%,#5affa5 0 37.93%,#59ffa6 0 39.79%,#57ffa8 0 41.64%,#55ffaa 0 43.5%,#53ffac 0 45.36%,#51ffae 0 47.21%,#4effb1 0 49.07%,#4cffb3 0 50.93%,#49ffb6 0 52.79%,#48ffb7 0 56.5%,#4bffb4 0 58.36%,#4effb1 0 60.21%,#52ffad 0 62.07%,#58ffa7 0 63.93%,#63ff9c 0 65.79%,#71ff8e 0 67.64%,#7fff80 0 69.5%,#8aff75 0 71.36%,#94ff6b 0 73.22%,#9eff61 0 75.07%,#a7ff58 0 76.93%,#b0ff4f 0 78.79%,#b8ff47 0 80.64%,#c0ff3f 0 82.5%,#c7ff38 0 84.36%,#cfff30 0 86.22%,#d6ff29 0 88.07%,#d9ff26 0 89.93%,#d6ff29 0 91.79%,#d1ff2e 0 93.65%,#ccff33 0 95.5%,#c9ff36 0)"></i><i style="top:63.78px;height:8.54px;background:linear-gradient(90deg,#89ff76 0 4.5%,#85ff7a 0 6.35%,#80ff7f 0 8.21%,#7aff85 0 10.07%,#74ff8b 0 11.93%,#6fff90 0 13.78%,#6aff95 0 15.64%,#64ff9b 0 17.5%,#5fffa0 0 19.36%,#5affa5 0 21.21%,#56ffa9 0 23.07%,#51ffae 0 24.93%,#4cffb3 0 26.78%,#47ffb8 0 28.64%,#42ffbd 0 30.5%,#3effc1 0 32.36%,#3bffc4 0 34.21%,#38ffc7 0 36.07%,#35ffca 0 37.93%,#33ffcc 0 39.79%,#30ffcf 0 41.64%,#2effd1 0 43.5%,#2bffd4 0 45.36%,#29ffd6 0 47.21%,#27ffd8 0 49.07%,#25ffda 0 50.93%,#23ffdc 0 52.79%,#22ffdd 0 58.36%,#23ffdc 0 62.07%,#26ffd9 0 63.93%,#2effd1 0 65.79%,#39ffc6 0 67.64%,#44ffbb 0 69.5%,#50ffaf 0 71.36%,#5affa5 0 73.22%,#66ff99 0 75.07%,#72ff8d 0 76.93%,#7eff81 0 78.79%,#89ff76 0 80.64%,#94ff6b 0 82.5%,#9fff60 0 84.36%,#a9ff56 0 86.22%,#b1ff4e 0 88.07%,#b6ff49 0 89.93%,#b8ff47 0 91.79%,#baff45 0 93.65%,#bcff43 0 95.5%,#bdff42 0)"></i><i style="top:71.92px;height:8.54px;background:linear-gradient(90deg,#89ff76 0 4.5%,#83ff7c 0 6.35%,#7bff84 0 8.21%,#73ff8c 0 10.07%,#6bff94 0 11.93%,#63ff9c 0 13.78%,#5bffa4 0 15.64%,#53ffac 0 17.5%,#4cffb3 0 19.36%,#44ffbb 0 21.21%,#3dffc2 0 23.07%,#34ffcb 0 24.93%,#2bffd4 0 26.78%,#20ffdf 0 28.64%,#16ffe9 0 30.5%,#0efff1 0 32.36%,#08fff7 0 34.21%,#03fffc 0 36.07%,#00feff 0 37.93%,#00faff 0 39.79%,#00f7ff 0 41.64%,#00f4ff 0 43.5%,#00f0ff 0 45.36%,#00edff 0 47.21%,#00e8ff 0 49.07%,#00e1ff 0 50.93%,#00daff 0 52.79%,#00d5ff 0 54.64%,#00d3ff 0 56.5%,#00d4ff 0 58.36%,#00d5ff 0 60.21%,#00d7ff 0 62.07%,#00d9ff 0 63.93%,#00deff 0 65.79%,#00e6ff 0 67.64%,#00f2ff 0 69.5%,#00ffff 0 71.36%,#0ffff0 0 73.22%,#21ffde 0 75.07%,#35ffca 0 76.93%,#49ffb6 0 78.79%,#5affa5 0 80.64%,#6aff95 0 82.5%,#78ff87 0 84.36%,#84ff7b 0 86.22%,#8dff72 0 88.07%,#94ff6b 0 89.93%,#9aff65 0 91.79%,#a0ff5f 0 93.65%,#a6ff59 0 95.5%,#aaff55 0)"></i><i style="top:80.06px;height:8.54px;background:linear-gradient(90deg,#90ff6f 0 4.5%,#8cff73 0 6.35%,#86ff79 0 8.21%,#80ff7f 0 10.07%,#7aff85 0 11.93%,#74ff8b 0 13.78%,#6fff90 0 15.64%,#69ff96 0 17.5%,#63ff9c 0 19.36%,#5cffa3 0 21.21%,#54ffab 0 23.07%,#4cffb3 0 24.93%,#44ffbb 0 26.78%,#3bffc4 0 28.64%,#33ffcc 0 30.5%,#29ffd6 0 32.36%,#1fffe0 0 34.21%,#15ffea 0 36.07%,#0bfff4 0 37.93%,#01fffe 0 39.79%,#00f5ff 0 41.64%,#00eaff 0 43.5%,#00dfff 0 45.36%,#00d2ff 0 47.21%,#00c4ff 0 49.07%,#00b6ff 0 50.93%,#00adff 0 52.79%,#00aaff 0 56.5%,#00abff 0 58.36%,#00acff 0 60.21%,#00adff 0 62.07%,#00b2ff 0 63.93%,#00c0ff 0 65.79%,#00d2ff 0 67.64%,#00e4ff 0 69.5%,#00f3ff 0 71.36%,#03fffc 0 73.22%,#17ffe8 0 75.07%,#31ffce 0 76.93%,#49ffb6 0 78.79%,#5bffa4 0 80.64%,#6aff95 0 82.5%,#78ff87 0 84.36%,#84ff7b 0 86.22%,#8eff71 0 88.07%,#95ff6a 0 89.93%,#9bff64 0 91.79%,#a0ff5f 0 93.65%,#a6ff59 0 95.5%,#aaff55 0)"></i><i style="top:88.2px;height:8.54px;background:linear-gradient(90deg,#91ff6e 0 4.5%,#90ff6f 0 6.35%,#8fff70 0 8.21%,#8dff72 0 10.07%,#8cff73 0 11.93%,#89ff76 0 13.78%,#86ff79 0 15.64%,#82ff7d 0 17.5%,#7eff81 0 19.36%,#77ff88 0 21.21%,#70ff8f 0 23.07%,#68ff97 0 24.93%,#60ff9f 0 26.78%,#57ffa8 0 28.64%,#4effb1 0 30.5%,#42ffbd 0 32.36%,#35ffca 0 34.21%,#26ffd9 0 36.07%,#18ffe7 0 37.93%,#08fff7 0 39.79%,#00f8ff 0 41.64%,#00e8ff 0 43.5%,#00d9ff 0 45.36%,#00ccff 0 47.21%,#00c2ff 0 49.07%,#00baff 0 50.93%,#00b6ff 0 52.79%,#00b8ff 0 54.64%,#00bdff 0 56.5%,#00c4ff 0 58.36%,#00d0ff 0 60.21%,#00deff 0 62.07%,#00eaff 0 63.93%,#00f5ff 0 65.79%,#02fffd 0 67.64%,#10ffef 0 69.5%,#22ffdd 0 71.36%,#37ffc8 0 73.22%,#4cffb3 0 75.07%,#61ff9e 0 76.93%,#75ff8a 0 78.79%,#86ff79 0 80.64%,#96ff69 0 82.5%,#a3ff5c 0 84.36%,#afff50 0 86.22%,#b7ff48 0 88.07%,#bdff42 0 89.93%,#c2ff3d 0 91.79%,#c7ff38 0 93.65%,#cbff34 0 95.5%,#ceff31 0)"></i><i style="top:96.34px;height:8.54px;background:linear-gradient(90deg,#8cff73 0 4.5%,#8dff72 0 6.35%,#8eff71 0 8.21%,#90ff6f 0 10.07%,#91ff6e 0 13.78%,#8dff72 0 15.64%,#88ff77 0 17.5%,#83ff7c 0 19.36%,#7dff82 0 21.21%,#76ff89 0 23.07%,#70ff8f 0 24.93%,#68ff97 0 26.78%,#5fffa0 0 28.64%,#56ffa9 0 30.5%,#4cffb3 0 32.36%,#41ffbe 0 34.21%,#35ffca 0 36.07%,#29ffd6 0 37.93%,#1bffe4 0 39.79%,#0dfff2 0 41.64%,#00feff 0 43.5%,#00f1ff 0 45.36%,#00e5ff 0 47.21%,#00d8ff 0 49.07%,#00cdff 0 50.93%,#00c9ff 0 52.79%,#00cfff 0 54.64%,#00d8ff 0 56.5%,#00e3ff 0 58.36%,#00efff 0 60.21%,#00fbff 0 62.07%,#07fff8 0 63.93%,#13ffec 0 65.79%,#25ffda 0 67.64%,#3cffc3 0 69.5%,#57ffa8 0 71.36%,#75ff8a 0 73.22%,#92ff6d 0 75.07%,#adff52 0 76.93%,#c6ff39 0 78.79%,#dcff23 0 80.64%,#efff10 0 82.5%,#ffff00 0 84.36%,#ffef00 0 86.22%,#ffe300 0 88.07%,#ffdc00 0 89.93%,#ffd800 0 91.79%,#ffd400 0 93.65%,#ffd000 0 95.5%,#ffce00 0)"></i><i style="top:104.48px;height:8.54px;background:linear-gradient(90deg,#83ff7c 0 4.5%,#80ff7f 0 6.35%,#7dff82 0 8.21%,#7aff85 0 10.07%,#76ff89 0 11.93%,#72ff8d 0 13.78%,#6eff91 0 15.64%,#69ff96 0 17.5%,#64ff9b 0 19.36%,#5fffa0 0 21.21%,#5affa5 0 23.07%,#55ffaa 0 24.93%,#4fffb0 0 26.78%,#49ffb6 0 28.64%,#43ffbc 0 30.5%,#3cffc3 0 32.36%,#35ffca 0 34.21%,#2dffd2 0 36.07%,#26ffd9 0 37.93%,#1effe1 0 39.79%,#17ffe8 0 41.64%,#0efff1 0 43.5%,#05fffa 0 45.36%,#00fbff 0 47.21%,#00f2ff 0 49.07%,#00e8ff 0 50.93%,#00e0ff 0 52.79%,#00daff 0 54.64%,#00d7ff 0 60.21%,#00d8ff 0 62.07%,#00dcff 0 63.93%,#00e8ff 0 65.79%,#00faff 0 67.64%,#12ffed 0 69.5%,#31ffce 0 71.36%,#52ffad 0 73.22%,#73ff8c 0 75.07%,#9dff62 0 76.93%,#ccff33 0 78.79%,#fcff03 0 80.64%,#ffdb00 0 82.5%,#ffc300 0 84.36%,#ffb200 0 86.22%,#ffa200 0 88.07%,#ff9400 0 89.93%,#ff8600 0 91.79%,#ff7a00 0 93.65%,#ff7000 0 95.5%,#ff6b00 0)"></i><i style="top:112.62px;height:8.54px;background:linear-gradient(90deg,#87ff78 0 4.5%,#85ff7a 0 6.35%,#82ff7d 0 8.21%,#7fff80 0 10.07%,#7bff84 0 11.93%,#75ff8a 0 13.78%,#70ff8f 0 15.64%,#6aff95 0 17.5%,#62ff9d 0 19.36%,#59ffa6 0 21.21%,#51ffae 0 23.07%,#48ffb7 0 24.93%,#3effc1 0 26.78%,#32ffcd 0 28.64%,#26ffd9 0 30.5%,#1bffe4 0 32.36%,#10ffef 0 34.21%,#08fff7 0 36.07%,#00ffff 0 37.93%,#00f7ff 0 39.79%,#00efff 0 41.64%,#00e6ff 0 43.5%,#00d9ff 0 45.36%,#00caff 0 47.21%,#00baff 0 49.07%,#00a9ff 0 50.93%,#0096ff 0 52.79%,#0084ff 0 54.64%,#0074ff 0 56.5%,#0064ff 0 58.36%,#0057ff 0 60.21%,#0051ff 0 62.07%,#0053ff 0 63.93%,#005aff 0 65.79%,#006dff 0 67.64%,#0091ff 0 69.5%,#00beff 0 71.36%,#00e8ff 0 73.22%,#0bfff4 0 75.07%,#2dffd2 0 76.93%,#50ffaf 0 78.79%,#76ff89 0 80.64%,#a0ff5f 0 82.5%,#c7ff38 0 84.36%,#f2ff0d 0 86.22%,#ffe300 0 88.07%,#ffc300 0 89.93%,#ffa900 0 91.79%,#ff9300 0 93.65%,#ff8200 0 95.5%,#ff7600 0)"></i><i style="top:120.76px;height:8.54px;background:linear-gradient(90deg,#8eff71 0 4.5%,#91ff6e 0 6.35%,#94ff6b 0 8.21%,#97ff68 0 11.93%,#95ff6a 0 13.78%,#91ff6e 0 15.64%,#87ff78 0 17.5%,#79ff86 0 19.36%,#68ff97 0 21.21%,#5affa5 0 23.07%,#4affb5 0 24.93%,#36ffc9 0 26.78%,#1cffe3 0 28.64%,#00feff 0 30.5%,#00dfff 0 32.36%,#00c3ff 0 34.21%,#00b1ff 0 36.07%,#00a5ff 0 37.93%,#0099ff 0 39.79%,#008dff 0 41.64%,#007fff 0 43.5%,#006cff 0 45.36%,#0057ff 0 47.21%,#0040ff 0 49.07%,#0026ff 0 50.93%,#000cff 0 52.79%,#0000f3 0 54.64%,#0000df 0 56.5%,#0000d2 0 58.36%,#0000d0 0 60.21%,#0000d4 0 62.07%,#0000de 0 63.93%,#0000f6 0 65.79%,#001cff 0 67.64%,#0049ff 0 69.5%,#0077ff 0 71.36%,#00a3ff 0 73.22%,#00d0ff 0 75.07%,#00faff 0 76.93%,#20ffdf 0 78.79%,#43ffbc 0 80.64%,#6aff95 0 82.5%,#98ff67 0 84.36%,#c9ff36 0 86.22%,#fcff03 0 88.07%,#ffd400 0 89.93%,#ffab00 0 91.79%,#ff8d00 0 93.65%,#ff7d00 0 95.5%,#ff7600 0)"></i><i style="top:128.9px;height:8.54px;background:linear-gradient(90deg,#89ff76 0 4.5%,#85ff7a 0 6.35%,#81ff7e 0 8.21%,#7cff83 0 10.07%,#75ff8a 0 11.93%,#6fff90 0 13.78%,#69ff96 0 15.64%,#61ff9e 0 17.5%,#57ffa8 0 19.36%,#4affb5 0 21.21%,#3bffc4 0 23.07%,#2bffd4 0 24.93%,#1affe5 0 26.78%,#06fff9 0 28.64%,#00eeff 0 30.5%,#00d5ff 0 32.36%,#00beff 0 34.21%,#00acff 0 36.07%,#009bff 0 37.93%,#0088ff 0 39.79%,#0070ff 0 41.64%,#0052ff 0 43.5%,#0036ff 0 45.36%,#001eff 0 47.21%,#0009ff 0 49.07%,#0000f5 0 50.93%,#0000e5 0 52.79%,#0000db 0 54.64%,#0000d4 0 56.5%,#0000d2 0 58.36%,#0000d9 0 60.21%,#0000e5 0 62.07%,#0000f9 0 63.93%,#001dff 0 65.79%,#0047ff 0 67.64%,#006cff 0 69.5%,#0090ff 0 71.36%,#00b4ff 0 73.22%,#00d7ff 0 75.07%,#00faff 0 76.93%,#1dffe2 0 78.79%,#3fffc0 0 80.64%,#61ff9e 0 82.5%,#85ff7a 0 84.36%,#aaff55 0 86.22%,#d0ff2f 0 88.07%,#f6ff09 0 89.93%,#ffe400 0 91.79%,#ffc700 0 93.65%,#ffb000 0 95.5%,#ffa200 0)"></i><i style="top:137.04px;height:8.54px;background:linear-gradient(90deg,#84ff7b 0 4.5%,#7dff82 0 6.35%,#73ff8c 0 8.21%,#69ff96 0 10.07%,#5fffa0 0 11.93%,#57ffa8 0 13.78%,#51ffae 0 15.64%,#4dffb2 0 17.5%,#49ffb6 0 19.36%,#44ffbb 0 21.21%,#3effc1 0 23.07%,#39ffc6 0 24.93%,#33ffcc 0 26.78%,#2cffd3 0 28.64%,#24ffdb 0 30.5%,#1cffe3 0 32.36%,#15ffea 0 34.21%,#0dfff2 0 36.07%,#03fffc 0 37.93%,#00f5ff 0 39.79%,#00e5ff 0 41.64%,#00d4ff 0 43.5%,#00c0ff 0 45.36%,#00abff 0 47.21%,#0098ff 0 49.07%,#0088ff 0 50.93%,#007bff 0 52.79%,#0070ff 0 54.64%,#0068ff 0 56.5%,#0063ff 0 58.36%,#0060ff 0 60.21%,#0062ff 0 62.07%,#0069ff 0 63.93%,#0075ff 0 65.79%,#008bff 0 67.64%,#00acff 0 69.5%,#00cbff 0 71.36%,#00e4ff 0 73.22%,#00fdff 0 75.07%,#17ffe8 0 76.93%,#30ffcf 0 78.79%,#4affb5 0 80.64%,#64ff9b 0 82.5%,#80ff7f 0 84.36%,#9aff65 0 86.22%,#b3ff4c 0 88.07%,#caff35 0 89.93%,#e1ff1e 0 91.79%,#f4ff0b 0 93.65%,#fffd00 0 95.5%,#fff700 0)"></i><i style="top:145.18px;height:8.54px;background:linear-gradient(90deg,#85ff7a 0 4.5%,#7fff80 0 6.35%,#76ff89 0 8.21%,#6eff91 0 10.07%,#66ff99 0 11.93%,#5fffa0 0 13.78%,#5cffa3 0 15.64%,#5bffa4 0 17.5%,#59ffa6 0 19.36%,#57ffa8 0 21.21%,#56ffa9 0 23.07%,#55ffaa 0 24.93%,#57ffa8 0 26.78%,#5affa5 0 28.64%,#5effa1 0 30.5%,#64ff9b 0 32.36%,#6aff95 0 34.21%,#71ff8e 0 36.07%,#75ff8a 0 37.93%,#78ff87 0 39.79%,#7aff85 0 43.5%,#75ff8a 0 45.36%,#6eff91 0 47.21%,#68ff97 0 49.07%,#61ff9e 0 50.93%,#5bffa4 0 52.79%,#56ffa9 0 54.64%,#50ffaf 0 56.5%,#4bffb4 0 58.36%,#49ffb6 0 60.21%,#47ffb8 0 62.07%,#46ffb9 0 65.79%,#48ffb7 0 67.64%,#4cffb3 0 69.5%,#50ffaf 0 71.36%,#55ffaa 0 73.22%,#5effa1 0 75.07%,#6bff94 0 76.93%,#77ff88 0 78.79%,#84ff7b 0 80.64%,#92ff6d 0 82.5%,#a0ff5f 0 84.36%,#aeff51 0 86.22%,#baff45 0 88.07%,#c5ff3a 0 89.93%,#ceff31 0 91.79%,#d7ff28 0 93.65%,#deff21 0 95.5%,#e2ff1d 0)"></i><i style="top:153.32px;height:8.54px;background:linear-gradient(90deg,#85ff7a 0 4.5%,#7eff81 0 6.35%,#76ff89 0 8.21%,#6dff92 0 10.07%,#64ff9b 0 11.93%,#5dffa2 0 13.78%,#58ffa7 0 15.64%,#55ffaa 0 17.5%,#52ffad 0 19.36%,#4effb1 0 21.21%,#4bffb4 0 23.07%,#49ffb6 0 26.78%,#4cffb3 0 28.64%,#50ffaf 0 30.5%,#53ffac 0 32.36%,#56ffa9 0 34.21%,#5affa5 0 36.07%,#5effa1 0 37.93%,#62ff9d 0 39.79%,#67ff98 0 41.64%,#6bff94 0 43.5%,#70ff8f 0 45.36%,#75ff8a 0 47.21%,#7aff85 0 49.07%,#80ff7f 0 50.93%,#86ff79 0 52.79%,#8dff72 0 54.64%,#94ff6b 0 56.5%,#9bff64 0 58.36%,#a1ff5e 0 60.21%,#a6ff59 0 62.07%,#a8ff57 0 63.93%,#aaff55 0 65.79%,#acff53 0 67.64%,#aeff51 0 69.5%,#b0ff4f 0 71.36%,#b4ff4b 0 73.22%,#b9ff46 0 75.07%,#c0ff3f 0 76.93%,#c6ff39 0 78.79%,#cbff34 0 80.64%,#d0ff2f 0 82.5%,#d5ff2a 0 84.36%,#d9ff26 0 86.22%,#ddff22 0 88.07%,#e0ff1f 0 89.93%,#e2ff1d 0 91.79%,#e4ff1b 0 93.65%,#e7ff18 0 95.5%,#e8ff17 0)"></i><i style="top:161.46px;height:18.14px;background:linear-gradient(90deg,#85ff7a 0 4.5%,#7eff81 0 6.35%,#74ff8b 0 8.21%,#6bff94 0 10.07%,#62ff9d 0 11.93%,#5affa5 0 13.78%,#55ffaa 0 15.64%,#51ffae 0 17.5%,#4dffb2 0 19.36%,#49ffb6 0 21.21%,#45ffba 0 23.07%,#41ffbe 0 24.93%,#3dffc2 0 26.78%,#39ffc6 0 28.64%,#34ffcb 0 30.5%,#30ffcf 0 32.36%,#2bffd4 0 34.21%,#27ffd8 0 36.07%,#21ffde 0 37.93%,#1cffe3 0 39.79%,#16ffe9 0 41.64%,#12ffed 0 45.36%,#13ffec 0 47.21%,#18ffe7 0 49.07%,#23ffdc 0 50.93%,#33ffcc 0 52.79%,#44ffbb 0 54.64%,#58ffa7 0 56.5%,#6dff92 0 58.36%,#82ff7d 0 60.21%,#94ff6b 0 62.07%,#a3ff5c 0 63.93%,#b3ff4c 0 65.79%,#c4ff3b 0 67.64%,#d8ff27 0 69.5%,#edff12 0 71.36%,#ffff00 0 73.22%,#ffef00 0 75.07%,#ffde00 0 76.93%,#ffd000 0 78.79%,#ffc500 0 80.64%,#ffbc00 0 82.5%,#ffb400 0 84.36%,#ffab00 0 86.22%,#ffa400 0 88.07%,#ff9e00 0 89.93%,#ff9800 0 91.79%,#ff9200 0 93.65%,#ff8d00 0 95.5%,#ff8900 0)"></i></div></div>
<div class="hm" style="left:768.4px;top:313.3px;width:178.2px;height:163.7px"><div class="in"><i style="top:0px;height:15.34px;background:linear-gradient(90deg,#8bff74 0 4.49%,#8eff71 0 6.34%,#92ff6d 0 8.2%,#96ff69 0 10.06%,#9aff65 0 11.92%,#9eff61 0 13.77%,#a2ff5d 0 15.63%,#a4ff5b 0 17.49%,#a3ff5c 0 19.35%,#a0ff5f 0 21.21%,#9eff61 0 23.06%,#9bff64 0 24.92%,#99ff66 0 26.78%,#96ff69 0 28.64%,#94ff6b 0 30.49%,#93ff6c 0 32.35%,#95ff6a 0 34.21%,#98ff67 0 36.07%,#9aff65 0 37.92%,#9dff62 0 39.78%,#a0ff5f 0 41.64%,#a1ff5e 0 43.5%,#9dff62 0 45.36%,#97ff68 0 47.21%,#90ff6f 0 49.07%,#8aff75 0 50.93%,#84ff7b 0 52.79%,#7fff80 0 54.64%,#7dff82 0 56.5%,#7fff80 0 58.36%,#82ff7d 0 60.22%,#86ff79 0 62.08%,#8bff74 0 63.93%,#90ff6f 0 65.79%,#95ff6a 0 67.65%,#9aff65 0 69.51%,#a0ff5f 0 71.36%,#a6ff59 0 73.22%,#acff53 0 75.08%,#b2ff4d 0 76.94%,#b8ff47 0 78.79%,#bfff40 0 80.65%,#c6ff39 0 82.51%,#ccff33 0 84.37%,#d2ff2d 0 86.23%,#d7ff28 0 88.08%,#dbff24 0 89.94%,#dfff20 0 91.8%,#e3ff1c 0 93.66%,#e6ff19 0 95.51%,#e9ff16 0)"></i><i style="top:14.94px;height:8.54px;background:linear-gradient(90deg,#9eff61 0 17.49%,#9dff62 0 19.35%,#9cff63 0 21.21%,#9bff64 0 23.06%,#9aff65 0 24.92%,#99ff66 0 26.78%,#98ff67 0 28.64%,#97ff68 0 32.35%,#96ff69 0 34.21%,#95ff6a 0 39.78%,#94ff6b 0 41.64%,#93ff6c 0 43.5%,#91ff6e 0 45.36%,#8eff71 0 47.21%,#8cff73 0 49.07%,#8aff75 0 50.93%,#88ff77 0 52.79%,#87ff78 0 56.5%,#88ff77 0 58.36%,#8aff75 0 60.22%,#8cff73 0 62.08%,#8fff70 0 63.93%,#92ff6d 0 65.79%,#96ff69 0 67.65%,#9cff63 0 69.51%,#a3ff5c 0 71.36%,#a9ff56 0 73.22%,#afff50 0 75.08%,#b5ff4a 0 76.94%,#bcff43 0 78.79%,#c4ff3b 0 80.65%,#cdff32 0 82.51%,#d6ff29 0 84.37%,#dfff20 0 86.23%,#e7ff18 0 88.08%,#edff12 0 89.94%,#f1ff0e 0 91.8%,#f4ff0b 0 93.66%,#f7ff08 0 95.51%,#f8ff07 0)"></i><i style="top:23.08px;height:8.54px;background:linear-gradient(90deg,#a3ff5c 0 4.49%,#a0ff5f 0 6.34%,#9bff64 0 8.2%,#97ff68 0 10.06%,#93ff6c 0 11.92%,#8fff70 0 13.77%,#8bff74 0 15.63%,#87ff78 0 17.49%,#85ff7a 0 19.35%,#82ff7d 0 21.21%,#7fff80 0 23.06%,#7dff82 0 24.92%,#7aff85 0 26.78%,#77ff88 0 28.64%,#75ff8a 0 30.49%,#73ff8c 0 32.35%,#71ff8e 0 34.21%,#70ff8f 0 36.07%,#6fff90 0 37.92%,#6dff92 0 39.78%,#6cff93 0 41.64%,#6bff94 0 47.21%,#6cff93 0 49.07%,#6dff92 0 50.93%,#6eff91 0 52.79%,#6fff90 0 54.64%,#71ff8e 0 56.5%,#74ff8b 0 58.36%,#78ff87 0 60.22%,#7dff82 0 62.08%,#82ff7d 0 63.93%,#88ff77 0 65.79%,#8eff71 0 67.65%,#95ff6a 0 69.51%,#9cff63 0 71.36%,#a3ff5c 0 73.22%,#aaff55 0 75.08%,#b0ff4f 0 76.94%,#b6ff49 0 78.79%,#bdff42 0 80.65%,#c3ff3c 0 82.51%,#caff35 0 84.37%,#d0ff2f 0 86.23%,#d4ff2b 0 88.08%,#d8ff27 0 89.94%,#dcff23 0 91.8%,#dfff20 0 93.66%,#e3ff1c 0 95.51%,#e5ff1a 0)"></i><i style="top:31.22px;height:8.54px;background:linear-gradient(90deg,#9fff60 0 4.49%,#9bff64 0 6.34%,#95ff6a 0 8.2%,#8fff70 0 10.06%,#89ff76 0 11.92%,#83ff7c 0 13.77%,#7dff82 0 15.63%,#78ff87 0 17.49%,#73ff8c 0 19.35%,#6dff92 0 21.21%,#68ff97 0 23.06%,#61ff9e 0 24.92%,#5bffa4 0 26.78%,#55ffaa 0 28.64%,#4effb1 0 30.49%,#49ffb6 0 32.35%,#44ffbb 0 34.21%,#40ffbf 0 36.07%,#3cffc3 0 37.92%,#39ffc6 0 39.78%,#35ffca 0 41.64%,#34ffcb 0 43.5%,#36ffc9 0 45.36%,#39ffc6 0 47.21%,#3dffc2 0 49.07%,#41ffbe 0 50.93%,#45ffba 0 52.79%,#4bffb4 0 54.64%,#53ffac 0 56.5%,#5fffa0 0 58.36%,#6aff95 0 60.22%,#74ff8b 0 62.08%,#7bff84 0 63.93%,#81ff7e 0 65.79%,#88ff77 0 67.65%,#8eff71 0 69.51%,#95ff6a 0 71.36%,#9bff64 0 73.22%,#a1ff5e 0 75.08%,#a6ff59 0 76.94%,#acff53 0 78.79%,#b2ff4d 0 80.65%,#b8ff47 0 82.51%,#bdff42 0 84.37%,#c1ff3e 0 86.23%,#c3ff3c 0 88.08%,#c5ff3a 0 89.94%,#c7ff38 0 91.8%,#c9ff36 0 93.66%,#caff35 0 95.51%,#ccff33 0)"></i><i style="top:39.36px;height:8.54px;background:linear-gradient(90deg,#9aff65 0 4.49%,#96ff69 0 6.34%,#8fff70 0 8.2%,#89ff76 0 10.06%,#83ff7c 0 11.92%,#7cff83 0 13.77%,#76ff89 0 15.63%,#71ff8e 0 17.49%,#6bff94 0 19.35%,#65ff9a 0 21.21%,#5effa1 0 23.06%,#58ffa7 0 24.92%,#51ffae 0 26.78%,#4bffb4 0 28.64%,#45ffba 0 30.49%,#3effc1 0 32.35%,#38ffc7 0 34.21%,#32ffcd 0 36.07%,#2cffd3 0 37.92%,#26ffd9 0 39.78%,#24ffdb 0 41.64%,#26ffd9 0 43.5%,#2affd5 0 45.36%,#2effd1 0 47.21%,#32ffcd 0 49.07%,#39ffc6 0 50.93%,#42ffbd 0 52.79%,#4bffb4 0 54.64%,#55ffaa 0 56.5%,#60ff9f 0 58.36%,#6aff95 0 60.22%,#73ff8c 0 62.08%,#7aff85 0 63.93%,#80ff7f 0 65.79%,#86ff79 0 67.65%,#8cff73 0 69.51%,#92ff6d 0 71.36%,#98ff67 0 73.22%,#9eff61 0 75.08%,#a3ff5c 0 76.94%,#a9ff56 0 78.79%,#aeff51 0 80.65%,#b3ff4c 0 82.51%,#b8ff47 0 84.37%,#bbff44 0 88.08%,#bcff43 0)"></i><i style="top:47.5px;height:8.54px;background:linear-gradient(90deg,#9bff64 0 4.49%,#97ff68 0 6.34%,#91ff6e 0 8.2%,#8cff73 0 10.06%,#87ff78 0 11.92%,#81ff7e 0 13.77%,#7cff83 0 15.63%,#77ff88 0 17.49%,#72ff8d 0 19.35%,#6dff92 0 21.21%,#67ff98 0 23.06%,#60ff9f 0 24.92%,#5affa5 0 26.78%,#52ffad 0 28.64%,#4bffb4 0 30.49%,#44ffbb 0 32.35%,#3dffc2 0 34.21%,#37ffc8 0 36.07%,#30ffcf 0 37.92%,#2bffd4 0 39.78%,#29ffd6 0 41.64%,#2bffd4 0 43.5%,#2effd1 0 45.36%,#31ffce 0 47.21%,#35ffca 0 49.07%,#3cffc3 0 50.93%,#45ffba 0 52.79%,#4fffb0 0 54.64%,#59ffa6 0 56.5%,#62ff9d 0 58.36%,#69ff96 0 60.22%,#70ff8f 0 62.08%,#77ff88 0 63.93%,#7eff81 0 65.79%,#84ff7b 0 67.65%,#8bff74 0 69.51%,#92ff6d 0 71.36%,#98ff67 0 73.22%,#9eff61 0 75.08%,#a3ff5c 0 76.94%,#a9ff56 0 78.79%,#aeff51 0 80.65%,#b4ff4b 0 82.51%,#b9ff46 0 84.37%,#bdff42 0 86.23%,#bfff40 0 88.08%,#c1ff3e 0 89.94%,#c4ff3b 0 91.8%,#c6ff39 0 93.66%,#c8ff37 0 95.51%,#c9ff36 0)"></i><i style="top:55.64px;height:8.54px;background:linear-gradient(90deg,#94ff6b 0 4.49%,#93ff6c 0 6.34%,#91ff6e 0 8.2%,#90ff6f 0 10.06%,#8eff71 0 11.92%,#8dff72 0 13.77%,#8bff74 0 15.63%,#88ff77 0 17.49%,#86ff79 0 19.35%,#83ff7c 0 21.21%,#80ff7f 0 23.06%,#7dff82 0 24.92%,#78ff87 0 26.78%,#73ff8c 0 28.64%,#6eff91 0 30.49%,#69ff96 0 32.35%,#63ff9c 0 34.21%,#5dffa2 0 36.07%,#57ffa8 0 37.92%,#54ffab 0 39.78%,#51ffae 0 41.64%,#50ffaf 0 43.5%,#4effb1 0 45.36%,#4dffb2 0 47.21%,#4cffb3 0 49.07%,#4effb1 0 50.93%,#53ffac 0 52.79%,#5affa5 0 54.64%,#61ff9e 0 56.5%,#68ff97 0 58.36%,#6eff91 0 60.22%,#75ff8a 0 62.08%,#7cff83 0 63.93%,#84ff7b 0 65.79%,#8bff74 0 67.65%,#92ff6d 0 69.51%,#99ff66 0 71.36%,#a0ff5f 0 73.22%,#a5ff5a 0 75.08%,#abff54 0 76.94%,#b0ff4f 0 78.79%,#b5ff4a 0 80.65%,#baff45 0 82.51%,#bfff40 0 84.37%,#c4ff3b 0 86.23%,#c9ff36 0 88.08%,#ceff31 0 89.94%,#d3ff2c 0 91.8%,#d9ff26 0 93.66%,#ddff22 0 95.51%,#e0ff1f 0)"></i><i style="top:63.78px;height:8.54px;background:linear-gradient(90deg,#9aff65 0 4.49%,#9cff63 0 6.34%,#9eff61 0 8.2%,#a0ff5f 0 10.06%,#a3ff5c 0 11.92%,#a4ff5b 0 13.77%,#a5ff5a 0 15.63%,#a4ff5b 0 19.35%,#a3ff5c 0 23.06%,#a2ff5d 0 24.92%,#a0ff5f 0 26.78%,#9eff61 0 28.64%,#9cff63 0 30.49%,#99ff66 0 32.35%,#94ff6b 0 34.21%,#8fff70 0 36.07%,#8aff75 0 37.92%,#85ff7a 0 39.78%,#81ff7e 0 41.64%,#7cff83 0 43.5%,#77ff88 0 45.36%,#72ff8d 0 47.21%,#6eff91 0 49.07%,#6bff94 0 50.93%,#6cff93 0 52.79%,#70ff8f 0 54.64%,#76ff89 0 56.5%,#7cff83 0 58.36%,#82ff7d 0 60.22%,#89ff76 0 62.08%,#91ff6e 0 63.93%,#99ff66 0 65.79%,#a1ff5e 0 67.65%,#a9ff56 0 69.51%,#b1ff4e 0 71.36%,#baff45 0 73.22%,#c2ff3d 0 75.08%,#cbff34 0 76.94%,#d3ff2c 0 78.79%,#dbff24 0 80.65%,#e3ff1c 0 82.51%,#eaff15 0 84.37%,#f1ff0e 0 86.23%,#f8ff07 0 88.08%,#feff01 0 89.94%,#fff900 0 91.8%,#fff300 0 93.66%,#ffef00 0 95.51%,#ffed00 0)"></i><i style="top:71.92px;height:8.54px;background:linear-gradient(90deg,#a0ff5f 0 4.49%,#9fff60 0 6.34%,#9eff61 0 8.2%,#9dff62 0 10.06%,#9cff63 0 11.92%,#9bff64 0 13.77%,#99ff66 0 15.63%,#97ff68 0 17.49%,#96ff69 0 19.35%,#94ff6b 0 21.21%,#92ff6d 0 23.06%,#90ff6f 0 24.92%,#8dff72 0 26.78%,#89ff76 0 28.64%,#84ff7b 0 30.49%,#7eff81 0 32.35%,#78ff87 0 34.21%,#72ff8d 0 36.07%,#6bff94 0 37.92%,#65ff9a 0 39.78%,#5fffa0 0 41.64%,#59ffa6 0 43.5%,#53ffac 0 45.36%,#4effb1 0 47.21%,#4affb5 0 50.93%,#4dffb2 0 52.79%,#52ffad 0 54.64%,#58ffa7 0 56.5%,#60ff9f 0 58.36%,#68ff97 0 60.22%,#71ff8e 0 62.08%,#7dff82 0 63.93%,#89ff76 0 65.79%,#96ff69 0 67.65%,#a3ff5c 0 69.51%,#b1ff4e 0 71.36%,#c0ff3f 0 73.22%,#cfff30 0 75.08%,#dcff23 0 76.94%,#e9ff16 0 78.79%,#f4ff0b 0 80.65%,#fdff02 0 82.51%,#fffc00 0 84.37%,#fff900 0 86.23%,#fff600 0 88.08%,#fff400 0 89.94%,#fff100 0 91.8%,#ffef00 0 93.66%,#ffed00 0 95.51%,#ffec00 0)"></i><i style="top:80.06px;height:8.54px;background:linear-gradient(90deg,#98ff67 0 4.49%,#94ff6b 0 6.34%,#8fff70 0 8.2%,#8aff75 0 10.06%,#84ff7b 0 11.92%,#7fff80 0 13.77%,#7aff85 0 15.63%,#75ff8a 0 17.49%,#70ff8f 0 19.35%,#6cff93 0 21.21%,#67ff98 0 23.06%,#62ff9d 0 24.92%,#5cffa3 0 26.78%,#57ffa8 0 28.64%,#51ffae 0 30.49%,#49ffb6 0 32.35%,#40ffbf 0 34.21%,#36ffc9 0 36.07%,#2cffd3 0 37.92%,#22ffdd 0 39.78%,#19ffe6 0 41.64%,#10ffef 0 43.5%,#09fff6 0 45.36%,#04fffb 0 49.07%,#06fff9 0 50.93%,#09fff6 0 52.79%,#0efff1 0 54.64%,#17ffe8 0 56.5%,#24ffdb 0 58.36%,#32ffcd 0 60.22%,#40ffbf 0 62.08%,#4effb1 0 63.93%,#5dffa2 0 65.79%,#6bff94 0 67.65%,#79ff86 0 69.51%,#86ff79 0 71.36%,#95ff6a 0 73.22%,#a3ff5c 0 75.08%,#afff50 0 76.94%,#b9ff46 0 78.79%,#c2ff3d 0 80.65%,#cbff34 0 82.51%,#d2ff2d 0 84.37%,#d8ff27 0 86.23%,#dbff24 0 88.08%,#dfff20 0 89.94%,#e2ff1d 0 91.8%,#e5ff1a 0 93.66%,#e8ff17 0 95.51%,#ebff14 0)"></i><i style="top:88.2px;height:8.54px;background:linear-gradient(90deg,#96ff69 0 4.49%,#93ff6c 0 6.34%,#8fff70 0 8.2%,#8bff74 0 10.06%,#86ff79 0 11.92%,#82ff7d 0 13.77%,#7cff83 0 15.63%,#77ff88 0 17.49%,#71ff8e 0 19.35%,#6bff94 0 21.21%,#65ff9a 0 23.06%,#5fffa0 0 24.92%,#59ffa6 0 26.78%,#53ffac 0 28.64%,#4cffb3 0 30.49%,#45ffba 0 32.35%,#3effc1 0 34.21%,#35ffca 0 36.07%,#2dffd2 0 37.92%,#25ffda 0 39.78%,#1dffe2 0 41.64%,#16ffe9 0 43.5%,#11ffee 0 45.36%,#0efff1 0 47.21%,#0cfff3 0 49.07%,#0afff5 0 50.93%,#0bfff4 0 52.79%,#11ffee 0 54.64%,#18ffe7 0 56.5%,#21ffde 0 58.36%,#2affd5 0 60.22%,#34ffcb 0 62.08%,#3effc1 0 63.93%,#48ffb7 0 65.79%,#53ffac 0 67.65%,#5fffa0 0 69.51%,#6aff95 0 71.36%,#76ff89 0 73.22%,#83ff7c 0 75.08%,#8fff70 0 76.94%,#9bff64 0 78.79%,#a8ff57 0 80.65%,#b3ff4c 0 82.51%,#bcff43 0 84.37%,#c5ff3a 0 86.23%,#ceff31 0 88.08%,#d6ff29 0 89.94%,#deff21 0 91.8%,#e5ff1a 0 93.66%,#ebff14 0 95.51%,#f0ff0f 0)"></i><i style="top:96.34px;height:8.54px;background:linear-gradient(90deg,#9aff65 0 6.34%,#9cff63 0 8.2%,#9dff62 0 10.06%,#9eff61 0 13.77%,#9cff63 0 15.63%,#98ff67 0 17.49%,#94ff6b 0 19.35%,#8fff70 0 21.21%,#8aff75 0 23.06%,#84ff7b 0 24.92%,#7fff80 0 26.78%,#79ff86 0 28.64%,#73ff8c 0 30.49%,#6eff91 0 32.35%,#69ff96 0 34.21%,#63ff9c 0 36.07%,#5effa1 0 37.92%,#5affa5 0 39.78%,#56ffa9 0 41.64%,#52ffad 0 43.5%,#4fffb0 0 45.36%,#4cffb3 0 47.21%,#49ffb6 0 49.07%,#4affb5 0 50.93%,#4cffb3 0 52.79%,#50ffaf 0 54.64%,#55ffaa 0 56.5%,#59ffa6 0 58.36%,#5effa1 0 60.22%,#65ff9a 0 62.08%,#6eff91 0 63.93%,#79ff86 0 65.79%,#84ff7b 0 67.65%,#92ff6d 0 69.51%,#a0ff5f 0 71.36%,#b0ff4f 0 73.22%,#c2ff3d 0 75.08%,#d5ff2a 0 76.94%,#e8ff17 0 78.79%,#faff05 0 80.65%,#fff300 0 82.51%,#ffe300 0 84.37%,#ffd300 0 86.23%,#ffc300 0 88.08%,#ffb500 0 89.94%,#ffaa00 0 91.8%,#ffa300 0 93.66%,#ff9f00 0 95.51%,#ff9c00 0)"></i><i style="top:104.48px;height:8.54px;background:linear-gradient(90deg,#9aff65 0 4.49%,#9bff64 0 6.34%,#9dff62 0 8.2%,#9fff60 0 10.06%,#a0ff5f 0 11.92%,#a2ff5d 0 13.77%,#a3ff5c 0 15.63%,#a4ff5b 0 17.49%,#a3ff5c 0 19.35%,#a0ff5f 0 21.21%,#9aff65 0 23.06%,#93ff6c 0 24.92%,#8bff74 0 26.78%,#84ff7b 0 28.64%,#7dff82 0 30.49%,#77ff88 0 32.35%,#72ff8d 0 34.21%,#6eff91 0 36.07%,#6aff95 0 37.92%,#68ff97 0 41.64%,#6bff94 0 43.5%,#6dff92 0 45.36%,#6fff90 0 47.21%,#71ff8e 0 49.07%,#73ff8c 0 50.93%,#75ff8a 0 52.79%,#78ff87 0 54.64%,#7bff84 0 56.5%,#7eff81 0 58.36%,#81ff7e 0 60.22%,#85ff7a 0 62.08%,#8cff73 0 63.93%,#95ff6a 0 65.79%,#a0ff5f 0 67.65%,#b1ff4e 0 69.51%,#c4ff3b 0 71.36%,#daff25 0 73.22%,#f7ff08 0 75.08%,#ffe600 0 76.94%,#ffc500 0 78.79%,#ffa700 0 80.65%,#ff8a00 0 82.51%,#ff6f00 0 84.37%,#ff5900 0 86.23%,#ff4900 0 88.08%,#ff3c00 0 89.94%,#ff3500 0 91.8%,#ff3300 0)"></i><i style="top:112.62px;height:8.54px;background:linear-gradient(90deg,#96ff69 0 4.49%,#92ff6d 0 6.34%,#8dff72 0 8.2%,#88ff77 0 10.06%,#83ff7c 0 11.92%,#7eff81 0 13.77%,#78ff87 0 15.63%,#72ff8d 0 17.49%,#69ff96 0 19.35%,#5effa1 0 21.21%,#4fffb0 0 23.06%,#40ffbf 0 24.92%,#30ffcf 0 26.78%,#1fffe0 0 28.64%,#0ffff0 0 30.49%,#00feff 0 32.35%,#00eeff 0 34.21%,#00e0ff 0 36.07%,#00d4ff 0 37.92%,#00cbff 0 39.78%,#00ceff 0 41.64%,#00ddff 0 43.5%,#00ecff 0 45.36%,#00f7ff 0 47.21%,#00ffff 0 49.07%,#05fffa 0 50.93%,#08fff7 0 52.79%,#0bfff4 0 54.64%,#0efff1 0 56.5%,#11ffee 0 58.36%,#14ffeb 0 60.22%,#16ffe9 0 62.08%,#17ffe8 0 63.93%,#18ffe7 0 65.79%,#1effe1 0 67.65%,#2cffd3 0 69.51%,#3effc1 0 71.36%,#54ffab 0 73.22%,#73ff8c 0 75.08%,#96ff69 0 76.94%,#b3ff4c 0 78.79%,#ccff33 0 80.65%,#e3ff1c 0 82.51%,#f9ff06 0 84.37%,#fff300 0 86.23%,#ffe300 0 88.08%,#ffd600 0 89.94%,#ffcb00 0 91.8%,#ffc500 0 93.66%,#ffc100 0 95.51%,#ffbf00 0)"></i><i style="top:120.76px;height:8.54px;background:linear-gradient(90deg,#94ff6b 0 4.49%,#8dff72 0 6.34%,#85ff7a 0 8.2%,#7cff83 0 10.06%,#74ff8b 0 11.92%,#6bff94 0 13.77%,#62ff9d 0 15.63%,#58ffa7 0 17.49%,#49ffb6 0 19.35%,#38ffc7 0 21.21%,#25ffda 0 23.06%,#12ffed 0 24.92%,#00fcff 0 26.78%,#00e5ff 0 28.64%,#00ceff 0 30.49%,#00b9ff 0 32.35%,#00a7ff 0 34.21%,#0096ff 0 36.07%,#0086ff 0 37.92%,#0078ff 0 39.78%,#006cff 0 41.64%,#0064ff 0 43.5%,#0066ff 0 45.36%,#006eff 0 47.21%,#0077ff 0 49.07%,#0080ff 0 50.93%,#0089ff 0 52.79%,#0091ff 0 54.64%,#009aff 0 56.5%,#00a2ff 0 58.36%,#00abff 0 60.22%,#00b8ff 0 62.08%,#00c9ff 0 63.93%,#00dbff 0 65.79%,#00ecff 0 67.65%,#00fcff 0 69.51%,#0dfff2 0 71.36%,#20ffdf 0 73.22%,#37ffc8 0 75.08%,#51ffae 0 76.94%,#6cff93 0 78.79%,#88ff77 0 80.65%,#a3ff5c 0 82.51%,#bcff43 0 84.37%,#d3ff2c 0 86.23%,#e6ff19 0 88.08%,#f7ff08 0 89.94%,#fff500 0 91.8%,#ffe600 0 93.66%,#ffdc00 0 95.51%,#ffd900 0)"></i><i style="top:128.9px;height:8.54px;background:linear-gradient(90deg,#94ff6b 0 4.49%,#8dff72 0 6.34%,#85ff7a 0 8.2%,#7cff83 0 10.06%,#74ff8b 0 11.92%,#6cff93 0 13.77%,#63ff9c 0 15.63%,#5affa5 0 17.49%,#4fffb0 0 19.35%,#41ffbe 0 21.21%,#30ffcf 0 23.06%,#1fffe0 0 24.92%,#0dfff2 0 26.78%,#00fdff 0 28.64%,#00efff 0 30.49%,#00e3ff 0 32.35%,#00d7ff 0 34.21%,#00ceff 0 36.07%,#00c7ff 0 37.92%,#00c1ff 0 39.78%,#00bbff 0 41.64%,#00b7ff 0 45.36%,#00b8ff 0 47.21%,#00baff 0 49.07%,#00bcff 0 50.93%,#00beff 0 52.79%,#00c1ff 0 54.64%,#00c6ff 0 56.5%,#00ccff 0 58.36%,#00d4ff 0 60.22%,#00dcff 0 62.08%,#00e5ff 0 63.93%,#00f0ff 0 65.79%,#00fcff 0 67.65%,#0afff5 0 69.51%,#18ffe7 0 71.36%,#28ffd7 0 73.22%,#3affc5 0 75.08%,#4dffb2 0 76.94%,#62ff9d 0 78.79%,#7aff85 0 80.65%,#96ff69 0 82.51%,#b3ff4c 0 84.37%,#cbff34 0 86.23%,#deff21 0 88.08%,#efff10 0 89.94%,#fcff03 0 91.8%,#fff800 0 93.66%,#ffef00 0 95.51%,#ffea00 0)"></i><i style="top:137.04px;height:8.54px;background:linear-gradient(90deg,#95ff6a 0 4.49%,#90ff6f 0 6.34%,#89ff76 0 8.2%,#83ff7c 0 10.06%,#7cff83 0 11.92%,#75ff8a 0 13.77%,#6fff90 0 15.63%,#68ff97 0 17.49%,#61ff9e 0 19.35%,#5bffa4 0 21.21%,#56ffa9 0 23.06%,#51ffae 0 24.92%,#4cffb3 0 26.78%,#48ffb7 0 28.64%,#44ffbb 0 30.49%,#41ffbe 0 32.35%,#3effc1 0 34.21%,#3cffc3 0 36.07%,#3bffc4 0 37.92%,#39ffc6 0 39.78%,#37ffc8 0 41.64%,#35ffca 0 43.5%,#33ffcc 0 45.36%,#31ffce 0 47.21%,#2fffd0 0 49.07%,#2cffd3 0 50.93%,#29ffd6 0 52.79%,#26ffd9 0 54.64%,#25ffda 0 58.36%,#27ffd8 0 60.22%,#2affd5 0 62.08%,#2fffd0 0 63.93%,#35ffca 0 65.79%,#3cffc3 0 67.65%,#42ffbd 0 69.51%,#4affb5 0 71.36%,#53ffac 0 73.22%,#60ff9f 0 75.08%,#70ff8f 0 76.94%,#7fff80 0 78.79%,#91ff6e 0 80.65%,#a5ff5a 0 82.51%,#b7ff48 0 84.37%,#caff35 0 86.23%,#daff25 0 88.08%,#e4ff1b 0 89.94%,#ecff13 0 91.8%,#f3ff0c 0 93.66%,#f9ff06 0 95.51%,#feff01 0)"></i><i style="top:145.18px;height:8.54px;background:linear-gradient(90deg,#99ff66 0 4.49%,#96ff69 0 6.34%,#91ff6e 0 8.2%,#8dff72 0 10.06%,#88ff77 0 11.92%,#84ff7b 0 13.77%,#7fff80 0 15.63%,#7aff85 0 17.49%,#77ff88 0 21.21%,#79ff86 0 23.06%,#7cff83 0 24.92%,#80ff7f 0 26.78%,#83ff7c 0 28.64%,#87ff78 0 30.49%,#8eff71 0 32.35%,#97ff68 0 34.21%,#a2ff5d 0 36.07%,#adff52 0 37.92%,#b8ff47 0 39.78%,#c1ff3e 0 41.64%,#c7ff38 0 43.5%,#ccff33 0 45.36%,#d1ff2e 0 47.21%,#d5ff2a 0 49.07%,#d7ff28 0 52.79%,#d6ff29 0 54.64%,#d5ff2a 0 56.5%,#d4ff2b 0 60.22%,#d3ff2c 0 63.93%,#d4ff2b 0 65.79%,#d5ff2a 0 67.65%,#d6ff29 0 69.51%,#d8ff27 0 71.36%,#daff25 0 73.22%,#dcff23 0 75.08%,#dfff20 0 76.94%,#e2ff1d 0 78.79%,#e8ff17 0 80.65%,#f1ff0e 0 82.51%,#faff05 0 84.37%,#fffa00 0 86.23%,#fff100 0 88.08%,#ffec00 0 89.94%,#ffe800 0 91.8%,#ffe500 0 93.66%,#ffe100 0 95.51%,#ffdf00 0)"></i><i style="top:153.32px;height:8.54px;background:linear-gradient(90deg,#9dff62 0 4.49%,#99ff66 0 6.34%,#93ff6c 0 8.2%,#8eff71 0 10.06%,#88ff77 0 11.92%,#83ff7c 0 13.77%,#7dff82 0 15.63%,#78ff87 0 17.49%,#73ff8c 0 19.35%,#71ff8e 0 21.21%,#72ff8d 0 23.06%,#73ff8c 0 24.92%,#74ff8b 0 26.78%,#75ff8a 0 28.64%,#76ff89 0 30.49%,#79ff86 0 32.35%,#7dff82 0 34.21%,#83ff7c 0 36.07%,#88ff77 0 37.92%,#8eff71 0 39.78%,#94ff6b 0 41.64%,#9bff64 0 43.5%,#a1ff5e 0 45.36%,#a7ff58 0 47.21%,#afff50 0 49.07%,#b7ff48 0 50.93%,#c0ff3f 0 52.79%,#c8ff37 0 54.64%,#d0ff2f 0 56.5%,#d7ff28 0 58.36%,#dcff23 0 60.22%,#e1ff1e 0 62.08%,#e6ff19 0 63.93%,#eaff15 0 65.79%,#f0ff0f 0 67.65%,#f7ff08 0 69.51%,#feff01 0 71.36%,#fff900 0 73.22%,#fff500 0 75.08%,#fff300 0 76.94%,#fff100 0 78.79%,#fff000 0 80.65%,#ffee00 0 82.51%,#ffed00 0 84.37%,#ffea00 0 86.23%,#ffe600 0 88.08%,#ffe200 0 89.94%,#ffdf00 0 91.8%,#ffdb00 0 93.66%,#ffd800 0 95.51%,#ffd500 0)"></i><i style="top:161.46px;height:18.14px;background:linear-gradient(90deg,#97ff68 0 4.49%,#92ff6d 0 6.34%,#8bff74 0 8.2%,#84ff7b 0 10.06%,#7dff82 0 11.92%,#76ff89 0 13.77%,#6fff90 0 15.63%,#68ff97 0 17.49%,#61ff9e 0 19.35%,#5cffa3 0 21.21%,#57ffa8 0 23.06%,#52ffad 0 24.92%,#4effb1 0 26.78%,#49ffb6 0 28.64%,#44ffbb 0 30.49%,#3effc1 0 32.35%,#36ffc9 0 34.21%,#2dffd2 0 36.07%,#25ffda 0 37.92%,#1dffe2 0 39.78%,#18ffe7 0 43.5%,#1affe5 0 45.36%,#22ffdd 0 47.21%,#33ffcc 0 49.07%,#47ffb8 0 50.93%,#5dffa2 0 52.79%,#75ff8a 0 54.64%,#8fff70 0 56.5%,#a2ff5d 0 58.36%,#b1ff4e 0 60.22%,#bcff43 0 62.08%,#c7ff38 0 63.93%,#d2ff2d 0 65.79%,#deff21 0 67.65%,#e9ff16 0 69.51%,#f4ff0b 0 71.36%,#fffe00 0 73.22%,#fff100 0 75.08%,#ffe300 0 76.94%,#ffd600 0 78.79%,#ffcf00 0 80.65%,#ffcc00 0 82.51%,#ffc900 0 84.37%,#ffc600 0 86.23%,#ffc400 0 88.08%,#ffc100 0 89.94%,#ffbe00 0 91.8%,#ffbb00 0 93.66%,#ffb800 0 95.51%,#ffb600 0)"></i></div></div>
<div class="hm" style="left:1269.8px;top:313.3px;width:178.1px;height:163.7px"><div class="in"><i style="top:0px;height:15.34px;background:linear-gradient(90deg,#defff5 0 5.31%,#ddfff5 0 7.21%,#ddfff6 0 10.99%,#dcfff7 0 16.68%,#ddfff6 0 18.57%,#dffff4 0 20.46%,#e1fff2 0 22.36%,#e2fff0 0 24.25%,#e4ffee 0 26.14%,#e6ffed 0 28.04%,#e8ffeb 0 29.93%,#e9ffea 0 31.83%,#eaffe9 0 33.72%,#ebffe8 0 35.61%,#ecffe7 0 37.51%,#ecffe6 0 39.4%,#edffe5 0 41.29%,#eeffe5 0 43.19%,#efffe4 0 45.08%,#efffe3 0 46.98%,#f0ffe2 0 48.87%,#f1ffe1 0 50.76%,#f3ffe0 0 52.66%,#f5ffde 0 54.55%,#f6ffdd 0 56.44%,#f8ffdb 0 58.34%,#f9ffda 0 60.23%,#f9ffd9 0 62.13%,#f9ffda 0 64.02%,#f8ffdb 0 65.91%,#f7ffdc 0 67.81%,#f6ffdd 0 69.7%,#f5ffde 0 71.59%,#f4ffdf 0 73.49%,#f3ffdf 0 75.38%,#f3ffe0 0 77.28%,#f2ffe1 0 79.17%,#f1ffe1 0 81.06%,#f1ffe2 0 82.96%,#f0ffe3 0 84.85%,#efffe4 0 86.74%,#eeffe4 0 88.64%,#eeffe5 0 90.53%,#edffe6 0 92.43%,#ecffe6 0 94.32%,#ecffe7 0 96.21%,#ebffe7 0)"></i><i style="top:14.94px;height:8.54px;background:linear-gradient(90deg,#ddfff6 0 3.42%,#ddfff5 0 5.31%,#dffff4 0 7.21%,#e0fff3 0 9.1%,#e1fff1 0 10.99%,#e2fff0 0 12.89%,#e4ffef 0 14.78%,#e5ffee 0 16.68%,#e6ffec 0 18.57%,#e7ffeb 0 20.46%,#e8ffeb 0 22.36%,#e8ffea 0 24.25%,#e9ffea 0 28.04%,#e9ffe9 0 29.93%,#eaffe9 0 33.72%,#eaffe8 0 37.51%,#eaffe9 0 41.29%,#e9ffea 0 45.08%,#e8ffeb 0 48.87%,#e9ffe9 0 50.76%,#ecffe7 0 52.66%,#eeffe5 0 54.55%,#f0ffe2 0 56.44%,#f3ffe0 0 58.34%,#f5ffde 0 60.23%,#f6ffdd 0 64.02%,#f5ffdd 0 65.91%,#f5ffde 0 67.81%,#f4ffdf 0 69.7%,#f3ffdf 0 71.59%,#f3ffe0 0 73.49%,#f2ffe1 0 75.38%,#f1ffe2 0 77.28%,#f0ffe3 0 79.17%,#efffe4 0 81.06%,#eeffe5 0 82.96%,#edffe6 0 84.85%,#ecffe7 0 86.74%,#ebffe7 0 88.64%,#ebffe8 0 90.53%,#eaffe8 0 92.43%,#eaffe9 0 94.32%,#e9ffea 0)"></i><i style="top:23.08px;height:8.54px;background:linear-gradient(90deg,#e6ffed 0 3.42%,#e6ffec 0 5.31%,#e7ffeb 0 7.21%,#e8ffea 0 9.1%,#e9ffe9 0 10.99%,#eaffe8 0 12.89%,#ebffe7 0 14.78%,#edffe6 0 16.68%,#eeffe5 0 18.57%,#eeffe4 0 20.46%,#efffe4 0 33.72%,#eeffe4 0 35.61%,#eeffe5 0 37.51%,#edffe5 0 39.4%,#edffe6 0 41.29%,#ecffe6 0 43.19%,#ecffe7 0 45.08%,#ebffe8 0 48.87%,#ecffe7 0 50.76%,#eeffe5 0 52.66%,#f0ffe3 0 54.55%,#f2ffe1 0 56.44%,#f4ffdf 0 58.34%,#f5ffdd 0 60.23%,#f6ffdd 0 62.13%,#f4ffde 0 64.02%,#f3ffe0 0 65.91%,#f1ffe2 0 67.81%,#f0ffe3 0 69.7%,#eeffe5 0 71.59%,#ecffe6 0 73.49%,#ebffe8 0 75.38%,#e9ffe9 0 77.28%,#e8ffeb 0 79.17%,#e6ffec 0 81.06%,#e5ffee 0 82.96%,#e4ffef 0 88.64%,#e4ffee 0 90.53%,#e5ffee 0 92.43%,#e5ffed 0 94.32%,#e6ffed 0)"></i><i style="top:31.22px;height:8.54px;background:linear-gradient(90deg,#e1fff1 0 5.31%,#e2fff1 0 9.1%,#e3fff0 0 12.89%,#e3ffef 0 14.78%,#e4ffef 0 16.68%,#e6ffed 0 18.57%,#e9ffea 0 20.46%,#ebffe8 0 22.36%,#edffe6 0 24.25%,#efffe4 0 26.14%,#f1ffe2 0 28.04%,#f3ffe0 0 29.93%,#f4ffde 0 31.83%,#f5ffde 0 43.19%,#f4ffde 0 48.87%,#f5ffde 0 50.76%,#f5ffdd 0 52.66%,#f6ffdc 0 54.55%,#f7ffdb 0 56.44%,#f8ffda 0 58.34%,#f9ffda 0 60.23%,#f9ffd9 0 62.13%,#f8ffda 0 64.02%,#f7ffdb 0 65.91%,#f6ffdc 0 67.81%,#f5ffdd 0 69.7%,#f4ffdf 0 71.59%,#f3ffdf 0 73.49%,#f3ffe0 0 79.17%,#f2ffe0 0 82.96%,#f2ffe1 0 86.74%,#f2ffe0 0 90.53%,#f3ffe0 0 94.32%,#f3ffdf 0)"></i><i style="top:39.36px;height:8.54px;background:linear-gradient(90deg,#e7ffeb 0 3.42%,#e8ffea 0 5.31%,#eaffe9 0 7.21%,#ecffe7 0 9.1%,#edffe6 0 10.99%,#efffe4 0 12.89%,#f1ffe2 0 14.78%,#f2ffe0 0 16.68%,#f4ffde 0 18.57%,#f6ffdd 0 20.46%,#f7ffdc 0 22.36%,#f8ffdb 0 24.25%,#f8ffda 0 26.14%,#f9ffd9 0 28.04%,#faffd8 0 29.93%,#fbffd7 0 31.83%,#fcffd7 0 33.72%,#fdffd6 0 35.61%,#fdffd5 0 37.51%,#feffd5 0 39.4%,#feffd4 0 41.29%,#ffffd4 0 43.19%,#feffd5 0 45.08%,#fdffd6 0 46.98%,#fcffd7 0 48.87%,#faffd8 0 50.76%,#f9ffda 0 52.66%,#f8ffdb 0 54.55%,#f7ffdc 0 56.44%,#f6ffdd 0 60.23%,#f5ffdd 0 62.13%,#f5ffde 0 65.91%,#f4ffde 0 71.59%,#f5ffde 0 75.38%,#f5ffdd 0 77.28%,#f6ffdd 0 79.17%,#f6ffdc 0 82.96%,#f7ffdc 0 88.64%,#f8ffdb 0 90.53%,#f9ffda 0 92.43%,#faffd8 0 94.32%,#fcffd7 0 96.21%,#fdffd6 0)"></i><i style="top:47.5px;height:8.54px;background:linear-gradient(90deg,#e9ffea 0 24.25%,#e9ffe9 0 26.14%,#ebffe7 0 28.04%,#eeffe5 0 29.93%,#f0ffe3 0 31.83%,#f2ffe1 0 33.72%,#f4ffdf 0 35.61%,#f5ffdd 0 37.51%,#f6ffdd 0 39.4%,#f6ffdc 0 45.08%,#f6ffdd 0 46.98%,#f5ffdd 0 48.87%,#f4ffdf 0 50.76%,#f1ffe1 0 52.66%,#efffe4 0 54.55%,#ecffe7 0 56.44%,#e9ffea 0 58.34%,#e6ffec 0 60.23%,#e5ffee 0 62.13%,#e4ffef 0 64.02%,#e4ffee 0 65.91%,#e5ffed 0 67.81%,#e7ffec 0 69.7%,#e9ffe9 0 71.59%,#ecffe7 0 73.49%,#eeffe5 0 75.38%,#f0ffe3 0 77.28%,#f1ffe1 0 79.17%,#f2ffe1 0 81.06%,#f2ffe0 0 82.96%,#f3ffe0 0 86.74%,#f3ffdf 0 88.64%,#f4ffdf 0 92.43%,#f5ffde 0 94.32%,#f5ffdd 0)"></i><i style="top:55.64px;height:8.54px;background:linear-gradient(90deg,#f6ffdd 0 3.42%,#f5ffdd 0 5.31%,#f5ffde 0 7.21%,#f4ffde 0 9.1%,#f4ffdf 0 10.99%,#f3ffe0 0 12.89%,#f2ffe0 0 14.78%,#f2ffe1 0 16.68%,#f1ffe2 0 18.57%,#f0ffe2 0 20.46%,#f0ffe3 0 22.36%,#efffe4 0 24.25%,#f3ffe0 0 26.14%,#f3ffdf 0 28.04%,#f4ffde 0 29.93%,#f5ffde 0 31.83%,#f6ffdd 0 33.72%,#f7ffdc 0 35.61%,#f8ffdb 0 37.51%,#f9ffda 0 39.4%,#f9ffd9 0 41.29%,#faffd9 0 43.19%,#f9ffd9 0 45.08%,#f5ffdd 0 46.98%,#f5ffde 0 48.87%,#f4ffde 0 50.76%,#f3ffdf 0 52.66%,#f2ffe0 0 54.55%,#f1ffe2 0 56.44%,#f0ffe3 0 58.34%,#efffe4 0 60.23%,#eeffe4 0 62.13%,#f2ffe1 0 65.91%,#f2ffe0 0 67.81%,#f3ffe0 0 69.7%,#f3ffdf 0 71.59%,#f4ffdf 0 73.49%,#f1ffe2 0 75.38%,#f2ffe1 0 79.17%,#f2ffe0 0 81.06%,#f2ffe1 0 90.53%,#f1ffe1 0 94.32%,#f1ffe2 0)"></i><i style="top:63.78px;height:8.54px;background:linear-gradient(90deg,#e5ffed 0 3.42%,#e4ffee 0 5.31%,#e4ffef 0 7.21%,#e3fff0 0 9.1%,#e2fff1 0 10.99%,#e1fff2 0 12.89%,#e0fff3 0 14.78%,#dffff4 0 16.68%,#ddfff5 0 18.57%,#dcfff7 0 20.46%,#dafff9 0 22.36%,#d8fffb 0 24.25%,#00fbff 0 26.14%,#00f5ff 0 28.04%,#00eeff 0 29.93%,#00e5ff 0 31.83%,#00d9ff 0 33.72%,#00d0ff 0 35.61%,#00d4ff 0 37.51%,#00e4ff 0 39.4%,#00f2ff 0 41.29%,#00f9ff 0 43.19%,#00fdff 0 45.08%,#dafff9 0 46.98%,#ddfff5 0 48.87%,#dffff4 0 50.76%,#defff5 0 52.66%,#ddfff6 0 56.44%,#dcfff7 0 58.34%,#dbfff8 0 60.23%,#d9fff9 0 62.13%,#00ffff 0 73.49%,#d8fffb 0 75.38%,#dbfff8 0 77.28%,#ddfff6 0 79.17%,#ddfff5 0 81.06%,#ddfff6 0)"></i><i style="top:71.92px;height:8.54px;background:linear-gradient(90deg,#e1fff1 0 3.42%,#e1fff2 0 5.31%,#e0fff3 0 7.21%,#dffff3 0 9.1%,#defff4 0 10.99%,#defff5 0 12.89%,#ddfff6 0 14.78%,#dcfff7 0 16.68%,#dbfff8 0 18.57%,#d9fffa 0 20.46%,#00e6ff 0 22.36%,#00c1ff 0 24.25%,#009dff 0 26.14%,#007cff 0 28.04%,#0069ff 0 29.93%,#0072ff 0 31.83%,#008bff 0 33.72%,#00a9ff 0 35.61%,#00c9ff 0 37.51%,#00e2ff 0 39.4%,#00f6ff 0 41.29%,#d6fffc 0 43.19%,#d9fffa 0 45.08%,#dbfff8 0 46.98%,#dcfff7 0 48.87%,#dbfff7 0 50.76%,#d9fffa 0 52.66%,#d6fffc 0 54.55%,#00fcff 0 56.44%,#00f4ff 0 58.34%,#00ecff 0 60.23%,#00e5ff 0 62.13%,#00ddff 0 64.02%,#00d6ff 0 65.91%,#00d4ff 0 67.81%,#00d6ff 0 69.7%,#00dbff 0 71.59%,#00e0ff 0 73.49%,#00e4ff 0 75.38%,#00e2ff 0 77.28%,#00dcff 0 79.17%,#00d4ff 0 81.06%,#00cdff 0 82.96%,#00c9ff 0 84.85%,#00cbff 0 86.74%,#00d2ff 0 88.64%,#00daff 0 90.53%,#00e1ff 0 92.43%,#00e9ff 0 94.32%,#00efff 0 96.21%,#00f2ff 0)"></i><i style="top:80.06px;height:8.54px;background:linear-gradient(90deg,#f1ffe2 0 5.31%,#f0ffe3 0 9.1%,#efffe4 0 10.99%,#eeffe4 0 12.89%,#eeffe5 0 14.78%,#edffe5 0 16.68%,#edffe6 0 18.57%,#ecffe7 0 20.46%,#efffe4 0 24.25%,#eeffe5 0 26.14%,#edffe6 0 28.04%,#ecffe7 0 29.93%,#eaffe8 0 31.83%,#e9ffea 0 33.72%,#e8ffeb 0 35.61%,#e7ffec 0 37.51%,#e5ffed 0 39.4%,#e4ffef 0 41.29%,#e1fff2 0 43.19%,#dffff3 0 45.08%,#defff5 0 46.98%,#dbfff7 0 48.87%,#d9fffa 0 50.76%,#d6fffc 0 52.66%,#00f6ff 0 54.55%,#00e6ff 0 56.44%,#00d5ff 0 58.34%,#00cdff 0 60.23%,#00d4ff 0 62.13%,#00e3ff 0 64.02%,#00efff 0 65.91%,#00f9ff 0 67.81%,#d6fffd 0 69.7%,#dafff9 0 71.59%,#dcfff7 0 73.49%,#dbfff7 0 75.38%,#dafff9 0 77.28%,#d8fffb 0 79.17%,#d6fffc 0 81.06%,#00ffff 0 82.96%,#d7fffb 0 84.85%,#dcfff7 0 86.74%,#dffff4 0 88.64%,#e0fff3 0 90.53%,#e0fff2 0 96.21%,#e1fff2 0)"></i><i style="top:88.2px;height:8.54px;background:linear-gradient(90deg,#f0ffe2 0 5.31%,#f1ffe2 0 22.36%,#f0ffe2 0 24.25%,#f0ffe3 0 26.14%,#eeffe4 0 28.04%,#ecffe6 0 29.93%,#ebffe8 0 31.83%,#e9ffea 0 33.72%,#e7ffec 0 35.61%,#e5ffed 0 37.51%,#e4ffef 0 39.4%,#e2fff1 0 41.29%,#e0fff2 0 43.19%,#dffff4 0 45.08%,#defff5 0 46.98%,#ddfff6 0 48.87%,#ddfff5 0 50.76%,#dcfff6 0 52.66%,#ddfff6 0 54.55%,#dcfff7 0 56.44%,#dbfff8 0 62.13%,#dcfff7 0 64.02%,#ddfff6 0 65.91%,#defff5 0 69.7%,#dffff3 0 71.59%,#e1fff2 0 73.49%,#e1fff1 0 75.38%,#e2fff1 0 77.28%,#e3fff0 0 79.17%,#e3ffef 0 81.06%,#e7ffec 0 82.96%,#e5ffee 0 84.85%,#e7ffec 0 86.74%,#e8ffea 0 88.64%,#e9ffe9 0 90.53%,#eaffe8 0 92.43%,#ebffe7 0 94.32%,#ecffe7 0 96.21%,#edffe6 0)"></i><i style="top:96.34px;height:8.54px;background:linear-gradient(90deg,#efffe4 0 7.21%,#eeffe4 0 10.99%,#eeffe5 0 16.68%,#edffe5 0 18.57%,#edffe6 0 20.46%,#ebffe7 0 22.36%,#eaffe9 0 24.25%,#e8ffea 0 26.14%,#e7ffec 0 28.04%,#e5ffee 0 29.93%,#e3fff0 0 31.83%,#e1fff2 0 33.72%,#dffff3 0 35.61%,#defff5 0 37.51%,#dcfff7 0 39.4%,#dafff8 0 41.29%,#d9fffa 0 43.19%,#d8fffb 0 45.08%,#d6fffc 0 46.98%,#d5fffe 0 48.87%,#00ffff 0 56.44%,#d6fffc 0 58.34%,#dafff9 0 60.23%,#dcfff7 0 62.13%,#ddfff6 0 64.02%,#defff5 0 65.91%,#dffff4 0 67.81%,#dffff3 0 69.7%,#e0fff3 0 71.59%,#e1fff2 0 73.49%,#e2fff1 0 75.38%,#e1fff2 0 77.28%,#e2fff1 0 79.17%,#e2fff0 0 81.06%,#e3ffef 0 82.96%,#e4ffee 0 84.85%,#e5ffed 0 86.74%,#e6ffed 0 88.64%,#e7ffec 0 90.53%,#e7ffeb 0 92.43%,#e8ffea 0 94.32%,#e9ffea 0 96.21%,#e9ffe9 0)"></i><i style="top:104.48px;height:8.54px;background:linear-gradient(90deg,#ebffe8 0 3.42%,#eaffe8 0 5.31%,#e9ffea 0 7.21%,#e8ffeb 0 9.1%,#e7ffec 0 10.99%,#e5ffed 0 12.89%,#e4ffef 0 14.78%,#e3fff0 0 16.68%,#e2fff1 0 18.57%,#e1fff2 0 20.46%,#e0fff3 0 26.14%,#dffff3 0 28.04%,#dffff4 0 31.83%,#defff4 0 33.72%,#defff5 0 35.61%,#ddfff5 0 37.51%,#dcfff6 0 39.4%,#dbfff8 0 41.29%,#d9fff9 0 43.19%,#d8fffb 0 45.08%,#d7fffc 0 46.98%,#00f9ff 0 48.87%,#00e9ff 0 50.76%,#00d7ff 0 52.66%,#00c0ff 0 54.55%,#00a5ff 0 56.44%,#008dff 0 58.34%,#0078ff 0 60.23%,#0065ff 0 62.13%,#005cff 0 64.02%,#0067ff 0 65.91%,#0082ff 0 67.81%,#00a6ff 0 69.7%,#00cbff 0 71.59%,#00e5ff 0 73.49%,#00f6ff 0 75.38%,#d7fffc 0 77.28%,#d9fff9 0 79.17%,#dcfff7 0 81.06%,#defff5 0 82.96%,#e0fff3 0 84.85%,#e1fff1 0 86.74%,#e2fff0 0 88.64%,#e3ffef 0 90.53%,#e4ffee 0 92.43%,#e5ffed 0 94.32%,#e6ffec 0 96.21%,#e7ffec 0)"></i><i style="top:112.62px;height:8.54px;background:linear-gradient(90deg,#f2ffe1 0 3.42%,#f1ffe1 0 5.31%,#f1ffe2 0 9.1%,#f0ffe2 0 10.99%,#f0ffe3 0 14.78%,#efffe3 0 16.68%,#efffe4 0 20.46%,#efffe3 0 22.36%,#f0ffe3 0 24.25%,#f0ffe2 0 26.14%,#f1ffe2 0 28.04%,#f2ffe1 0 29.93%,#f3ffe0 0 31.83%,#f3ffdf 0 33.72%,#f4ffdf 0 35.61%,#f4ffde 0 37.51%,#f3ffe0 0 39.4%,#f1ffe2 0 41.29%,#eeffe4 0 43.19%,#ecffe7 0 45.08%,#eaffe9 0 46.98%,#ebffe8 0 48.87%,#e7ffec 0 50.76%,#e1fff1 0 52.66%,#dcfff7 0 54.55%,#d7fffc 0 56.44%,#00fcff 0 58.34%,#00f7ff 0 60.23%,#00f5ff 0 62.13%,#00f6ff 0 64.02%,#00f8ff 0 65.91%,#00faff 0 67.81%,#00fcff 0 69.7%,#00feff 0 71.59%,#d6fffd 0 73.49%,#dafff9 0 75.38%,#ddfff5 0 77.28%,#e1fff2 0 79.17%,#e4ffef 0 81.06%,#e6ffed 0 82.96%,#e8ffeb 0 84.85%,#eaffe9 0 86.74%,#ecffe7 0 88.64%,#eeffe5 0 90.53%,#f1ffe2 0 92.43%,#f4ffdf 0 94.32%,#f6ffdc 0 96.21%,#f8ffdb 0)"></i><i style="top:120.76px;height:8.54px;background:linear-gradient(90deg,#fffcd4 0 14.78%,#fffbd4 0 16.68%,#fffcd4 0 20.46%,#fffed4 0 22.36%,#ffffd4 0 24.25%,#fdffd6 0 26.14%,#fbffd7 0 28.04%,#faffd9 0 29.93%,#f8ffda 0 31.83%,#f7ffdc 0 33.72%,#f6ffdd 0 35.61%,#f5ffde 0 37.51%,#f4ffdf 0 39.4%,#f2ffe1 0 41.29%,#f1ffe2 0 43.19%,#efffe4 0 45.08%,#eeffe5 0 46.98%,#ebffe7 0 50.76%,#e6ffec 0 52.66%,#e1fff2 0 54.55%,#dcfff7 0 56.44%,#d7fffb 0 58.34%,#06fff9 0 71.59%,#d7fffc 0 73.49%,#dbfff8 0 75.38%,#e0fff3 0 77.28%,#e4ffef 0 79.17%,#e6ffec 0 81.06%,#e9ffea 0 82.96%,#ebffe8 0 84.85%,#edffe6 0 86.74%,#efffe3 0 88.64%,#f1ffe1 0 90.53%,#f4ffdf 0 92.43%,#f6ffdd 0 94.32%,#f8ffdb 0 96.21%,#f9ffda 0)"></i><i style="top:128.9px;height:8.54px;background:linear-gradient(90deg,#f1ffe1 0 3.42%,#f2ffe1 0 7.21%,#f3ffe0 0 10.99%,#f4ffdf 0 14.78%,#f4ffde 0 16.68%,#f5ffde 0 18.57%,#f4ffde 0 20.46%,#f3ffe0 0 22.36%,#f1ffe1 0 24.25%,#f0ffe3 0 26.14%,#eeffe4 0 28.04%,#edffe6 0 29.93%,#ebffe8 0 31.83%,#e9ffe9 0 33.72%,#e8ffeb 0 35.61%,#e6ffed 0 37.51%,#e4ffef 0 39.4%,#e2fff1 0 41.29%,#e0fff3 0 43.19%,#ddfff5 0 45.08%,#dbfff7 0 46.98%,#d9fffa 0 48.87%,#08fff7 0 50.76%,#00feff 0 52.66%,#00f6ff 0 54.55%,#00edff 0 56.44%,#00e2ff 0 58.34%,#00d7ff 0 60.23%,#00ccff 0 62.13%,#00c1ff 0 64.02%,#00b8ff 0 65.91%,#00baff 0 67.81%,#00cbff 0 69.7%,#00e2ff 0 71.59%,#00f6ff 0 73.49%,#d8fffa 0 75.38%,#defff5 0 77.28%,#e2fff1 0 79.17%,#e4ffef 0 81.06%,#e5ffee 0 82.96%,#e6ffed 0 84.85%,#e7ffec 0 86.74%,#e8ffeb 0 88.64%,#e9ffea 0 90.53%,#eaffe9 0 92.43%,#ebffe8 0 94.32%,#ebffe7 0 96.21%,#ecffe7 0)"></i><i style="top:137.04px;height:8.54px;background:linear-gradient(90deg,#e5ffed 0 3.42%,#e6ffed 0 5.31%,#e7ffec 0 7.21%,#e7ffeb 0 9.1%,#e8ffeb 0 10.99%,#e9ffea 0 12.89%,#eaffe9 0 14.78%,#eaffe8 0 16.68%,#ebffe8 0 18.57%,#ebffe7 0 20.46%,#ebffe8 0 22.36%,#eaffe9 0 24.25%,#e9ffea 0 26.14%,#e8ffeb 0 28.04%,#e7ffec 0 29.93%,#e6ffec 0 31.83%,#e5ffed 0 33.72%,#e4ffee 0 35.61%,#e3ffef 0 37.51%,#e2fff1 0 39.4%,#e0fff3 0 41.29%,#defff5 0 43.19%,#dbfff7 0 45.08%,#d9fff9 0 46.98%,#d7fffb 0 48.87%,#d5fffe 0 50.76%,#00ffff 0 65.91%,#d5fffd 0 67.81%,#d8fffa 0 69.7%,#dcfff7 0 71.59%,#defff5 0 73.49%,#defff4 0 75.38%,#e0fff3 0 77.28%,#e1fff1 0 79.17%,#e2fff0 0 81.06%,#e3fff0 0 82.96%,#e4ffef 0 84.85%,#e5ffee 0 86.74%,#e3ffef 0 88.64%,#e4ffee 0 90.53%,#e5ffed 0 92.43%,#e6ffec 0 94.32%,#e7ffec 0 96.21%,#e8ffeb 0)"></i><i style="top:145.18px;height:8.54px;background:linear-gradient(90deg,#ddfff5 0 3.42%,#defff5 0 5.31%,#dffff4 0 7.21%,#dffff3 0 9.1%,#e0fff2 0 10.99%,#e1fff2 0 12.89%,#e2fff1 0 14.78%,#e3fff0 0 16.68%,#e4ffef 0 22.36%,#e3fff0 0 24.25%,#e2fff1 0 26.14%,#e1fff1 0 28.04%,#e0fff2 0 29.93%,#e0fff3 0 31.83%,#dffff4 0 33.72%,#defff4 0 35.61%,#ddfff5 0 37.51%,#ddfff6 0 39.4%,#dcfff7 0 41.29%,#dbfff8 0 43.19%,#dafff9 0 45.08%,#d9fff9 0 46.98%,#d8fffa 0 48.87%,#d7fffb 0 50.76%,#d6fffc 0 52.66%,#d5fffd 0 54.55%,#00feff 0 56.44%,#00faff 0 58.34%,#00f5ff 0 60.23%,#00eeff 0 62.13%,#00e4ff 0 64.02%,#00d9ff 0 65.91%,#00d3ff 0 69.7%,#00d6ff 0 71.59%,#00d8ff 0 73.49%,#00dbff 0 75.38%,#00deff 0 77.28%,#00e2ff 0 79.17%,#00e6ff 0 81.06%,#00ebff 0 82.96%,#00f3ff 0 84.85%,#00fbff 0 86.74%,#d6fffc 0 88.64%,#d8fffa 0 90.53%,#dbfff8 0 92.43%,#ddfff6 0 94.32%,#defff4 0 96.21%,#e0fff3 0)"></i><i style="top:153.32px;height:8.54px;background:linear-gradient(90deg,#e8ffea 0 3.42%,#e7ffeb 0 5.31%,#e6ffed 0 7.21%,#e4ffef 0 9.1%,#e2fff0 0 10.99%,#e1fff2 0 12.89%,#dffff3 0 14.78%,#dffff4 0 20.46%,#defff4 0 22.36%,#defff5 0 26.14%,#ddfff5 0 28.04%,#ddfff6 0 31.83%,#ddfff5 0 33.72%,#defff4 0 35.61%,#dffff4 0 37.51%,#e0fff3 0 39.4%,#e1fff2 0 41.29%,#e2fff1 0 43.19%,#e3fff0 0 45.08%,#e4ffef 0 46.98%,#e5ffee 0 48.87%,#e4ffee 0 50.76%,#e3ffef 0 52.66%,#e2fff1 0 54.55%,#e3fff0 0 56.44%,#e1fff1 0 58.34%,#e0fff3 0 60.23%,#dffff4 0 62.13%,#defff5 0 64.02%,#ddfff6 0 65.91%,#dbfff8 0 67.81%,#d9fffa 0 69.7%,#d7fffc 0 71.59%,#00f6ff 0 73.49%,#00e1ff 0 75.38%,#00ccff 0 77.28%,#00b7ff 0 79.17%,#00a6ff 0 81.06%,#00a1ff 0 82.96%,#00abff 0 84.85%,#00baff 0 86.74%,#00c9ff 0 88.64%,#00d8ff 0 90.53%,#00e7ff 0 92.43%,#00f7ff 0 94.32%,#dffff4 0 96.21%,#e3fff0 0)"></i><i style="top:161.46px;height:18.14px;background:linear-gradient(90deg,#f3ffe0 0 3.42%,#f2ffe0 0 5.31%,#f1ffe1 0 7.21%,#f1ffe2 0 9.1%,#f0ffe3 0 10.99%,#efffe3 0 12.89%,#efffe4 0 14.78%,#eeffe5 0 16.68%,#edffe5 0 18.57%,#edffe6 0 20.46%,#ecffe6 0 22.36%,#ecffe7 0 24.25%,#ebffe8 0 26.14%,#eaffe8 0 28.04%,#eaffe9 0 29.93%,#e9ffea 0 33.72%,#e8ffeb 0 35.61%,#e8ffea 0 37.51%,#e9ffe9 0 39.4%,#ebffe7 0 41.29%,#edffe5 0 43.19%,#efffe3 0 45.08%,#f2ffe1 0 46.98%,#f3ffe0 0 50.76%,#f1ffe2 0 52.66%,#efffe4 0 54.55%,#edffe6 0 56.44%,#ebffe8 0 58.34%,#e9ffea 0 60.23%,#e8ffeb 0 62.13%,#e7ffeb 0 65.91%,#e7ffec 0 69.7%,#e6ffec 0 71.59%,#e9ffe9 0 77.28%,#eaffe9 0 79.17%,#eaffe8 0 81.06%,#ecffe7 0 82.96%,#edffe6 0 84.85%,#eeffe5 0 86.74%,#efffe4 0 88.64%,#f0ffe2 0 90.53%,#f1ffe1 0 92.43%,#f3ffe0 0 94.32%,#f1ffe2 0 96.21%,#f2ffe1 0)"></i></div></div>
<div class="hm" style="left:266.6px;top:561.3px;width:177.4px;height:163.7px"><div class="in"><i style="top:0px;height:15.64px;background:linear-gradient(90deg,#f1ffe2 0 3.43%,#f0ffe3 0 5.33%,#efffe3 0 7.23%,#eeffe4 0 9.13%,#edffe5 0 11.03%,#ecffe6 0 12.94%,#ebffe8 0 14.84%,#eaffe9 0 16.74%,#e8ffea 0 18.64%,#e7ffec 0 20.54%,#e5ffee 0 22.44%,#e3ffef 0 24.34%,#e2fff1 0 26.24%,#e1fff1 0 28.14%,#e2fff1 0 30.04%,#e2fff0 0 31.94%,#e3ffef 0 33.84%,#e4ffee 0 35.74%,#e6ffed 0 37.65%,#e7ffeb 0 39.55%,#e9ffe9 0 41.45%,#ebffe7 0 43.35%,#edffe6 0 45.25%,#eeffe5 0 47.15%,#efffe3 0 49.05%,#f0ffe3 0 52.85%,#efffe3 0 64.26%,#f0ffe3 0 68.06%,#f0ffe2 0 71.86%,#f1ffe2 0 75.66%,#f0ffe2 0 79.46%,#f0ffe3 0 83.26%,#efffe3 0 87.06%,#efffe4 0)"></i><i style="top:15.24px;height:8.54px;background:linear-gradient(90deg,#f6ffdd 0 3.43%,#f7ffdc 0 5.33%,#f8ffdb 0 7.23%,#f8ffda 0 11.03%,#f8ffdb 0 14.84%,#f7ffdb 0 16.74%,#f6ffdd 0 18.64%,#f3ffdf 0 20.54%,#f1ffe2 0 22.44%,#efffe4 0 24.34%,#eeffe4 0 26.24%,#efffe4 0 28.14%,#f0ffe3 0 30.04%,#f0ffe2 0 31.94%,#f1ffe1 0 33.84%,#f2ffe1 0 35.74%,#f3ffe0 0 37.65%,#f3ffdf 0 39.55%,#f4ffde 0 43.35%,#f3ffdf 0 45.25%,#f2ffe1 0 47.15%,#f0ffe3 0 49.05%,#eeffe4 0 50.95%,#edffe6 0 52.85%,#ebffe8 0 54.75%,#e9ffe9 0 56.65%,#e8ffeb 0 58.55%,#e7ffec 0 60.45%,#e6ffed 0 62.35%,#e6ffec 0 64.26%,#e7ffec 0 66.16%,#e8ffeb 0 69.96%,#e9ffea 0 71.86%,#e9ffe9 0 73.76%,#eaffe8 0 75.66%,#ebffe8 0 77.56%,#ecffe7 0 79.46%,#ebffe7 0 81.36%,#ebffe8 0 83.26%,#eaffe9 0 85.16%,#e9ffea 0 87.06%,#e8ffeb 0 88.97%,#e7ffeb 0 90.87%,#e8ffeb 0 92.77%,#e9ffe9 0 94.67%,#eaffe8 0 96.57%,#ebffe8 0)"></i><i style="top:23.38px;height:8.54px;background:linear-gradient(90deg,#e7ffeb 0 3.43%,#e7ffec 0 7.23%,#e6ffec 0 9.13%,#e6ffed 0 11.03%,#e5ffed 0 12.94%,#e6ffec 0 14.84%,#e8ffea 0 16.74%,#eaffe8 0 18.64%,#ecffe7 0 20.54%,#eeffe5 0 22.44%,#efffe4 0 24.34%,#f1ffe2 0 26.24%,#f3ffe0 0 28.14%,#f5ffde 0 30.04%,#f6ffdd 0 31.94%,#f7ffdc 0 33.84%,#f7ffdb 0 35.74%,#f8ffdb 0 41.45%,#f7ffdb 0 43.35%,#f6ffdd 0 45.25%,#f3ffe0 0 47.15%,#f1ffe2 0 49.05%,#eeffe4 0 50.95%,#ecffe7 0 52.85%,#eaffe8 0 54.75%,#e9ffea 0 56.65%,#e8ffea 0 58.55%,#e8ffeb 0 68.06%,#e8ffea 0 71.86%,#e9ffe9 0 73.76%,#ebffe7 0 75.66%,#edffe5 0 77.56%,#f0ffe3 0 79.46%,#f2ffe1 0 85.16%,#f1ffe2 0 87.06%,#f0ffe3 0 88.97%,#efffe3 0 90.87%,#efffe4 0 92.77%,#eeffe4 0 94.67%,#eeffe5 0)"></i><i style="top:31.52px;height:8.54px;background:linear-gradient(90deg,#ecffe7 0 3.43%,#ecffe6 0 5.33%,#edffe6 0 9.13%,#edffe5 0 11.03%,#eeffe5 0 12.94%,#efffe4 0 14.84%,#efffe3 0 16.74%,#f0ffe2 0 18.64%,#f2ffe1 0 20.54%,#f3ffe0 0 22.44%,#f4ffdf 0 24.34%,#f5ffde 0 26.24%,#f6ffdd 0 28.14%,#f7ffdc 0 30.04%,#f8ffdb 0 31.94%,#f8ffda 0 33.84%,#f9ffda 0 37.65%,#f7ffdb 0 39.55%,#f5ffdd 0 41.45%,#f3ffe0 0 43.35%,#f1ffe2 0 45.25%,#efffe4 0 47.15%,#edffe6 0 49.05%,#ebffe8 0 50.95%,#eaffe9 0 52.85%,#e9ffea 0 54.75%,#e8ffeb 0 56.65%,#e7ffeb 0 58.55%,#e7ffec 0 60.45%,#e6ffec 0 62.35%,#e6ffed 0 75.66%,#e6ffec 0 77.56%,#e7ffec 0 79.46%,#e8ffea 0 81.36%,#eaffe9 0 83.26%,#ebffe8 0 85.16%,#ecffe7 0 87.06%,#edffe6 0 88.97%,#eeffe5 0 90.87%,#efffe4 0 92.77%,#f0ffe3 0 94.67%,#f1ffe2 0 96.57%,#f2ffe1 0)"></i><i style="top:39.66px;height:8.54px;background:linear-gradient(90deg,#e2fff1 0 3.43%,#e1fff1 0 5.33%,#e1fff2 0 7.23%,#e0fff2 0 9.13%,#e0fff3 0 11.03%,#dffff4 0 12.94%,#defff4 0 16.74%,#dffff3 0 18.64%,#e1fff2 0 20.54%,#e3fff0 0 22.44%,#e4ffef 0 24.34%,#e5ffed 0 26.24%,#e7ffec 0 28.14%,#e8ffeb 0 30.04%,#e8ffea 0 33.84%,#e8ffeb 0 35.74%,#e7ffeb 0 37.65%,#e7ffec 0 39.55%,#e6ffed 0 41.45%,#e5ffee 0 43.35%,#e4ffee 0 45.25%,#e4ffef 0 49.05%,#e4ffee 0 50.95%,#e5ffed 0 52.85%,#e7ffec 0 54.75%,#e8ffeb 0 56.65%,#e9ffea 0 58.55%,#eaffe9 0 62.35%,#e9ffe9 0 64.26%,#e8ffea 0 66.16%,#e7ffeb 0 68.06%,#e6ffec 0 69.96%,#e6ffed 0 71.86%,#e5ffee 0 73.76%,#e4ffee 0 75.66%,#e4ffef 0 83.26%,#e4ffee 0 85.16%,#e5ffee 0 87.06%,#e5ffed 0 88.97%,#e6ffed 0 90.87%,#e6ffec 0 92.77%,#e7ffec 0 94.67%,#e7ffeb 0 96.57%,#e8ffeb 0)"></i><i style="top:47.8px;height:8.54px;background:linear-gradient(90deg,#e5ffee 0 3.43%,#e6ffed 0 5.33%,#e7ffeb 0 7.23%,#e9ffea 0 9.13%,#eaffe9 0 11.03%,#ebffe7 0 12.94%,#edffe6 0 14.84%,#eeffe4 0 16.74%,#f0ffe3 0 18.64%,#f1ffe1 0 20.54%,#f3ffe0 0 22.44%,#f4ffde 0 24.34%,#f5ffde 0 28.14%,#f4ffde 0 30.04%,#f4ffdf 0 31.94%,#f3ffdf 0 33.84%,#f3ffe0 0 35.74%,#f2ffe1 0 37.65%,#f1ffe1 0 39.55%,#f1ffe2 0 41.45%,#f0ffe3 0 47.15%,#f0ffe2 0 49.05%,#f1ffe2 0 52.85%,#f1ffe1 0 54.75%,#f2ffe1 0 60.45%,#f1ffe2 0 62.35%,#efffe4 0 64.26%,#ecffe6 0 66.16%,#eaffe9 0 68.06%,#e8ffeb 0 69.96%,#e6ffed 0 71.86%,#e4ffee 0 73.76%,#e4ffef 0 77.56%,#e3ffef 0 81.36%,#e3fff0 0 83.26%,#e3ffef 0 85.16%,#e4ffef 0 87.06%,#e5ffee 0 88.97%,#e6ffed 0 90.87%,#e6ffec 0 92.77%,#e7ffeb 0 94.67%,#e8ffeb 0 96.57%,#e8ffea 0)"></i><i style="top:55.94px;height:8.54px;background:linear-gradient(90deg,#dbfff8 0 3.43%,#dcfff7 0 5.33%,#ddfff5 0 7.23%,#dffff4 0 9.13%,#e1fff2 0 11.03%,#e2fff1 0 12.94%,#e4ffef 0 14.84%,#e5ffed 0 16.74%,#e7ffec 0 18.64%,#e8ffeb 0 20.54%,#e8ffea 0 22.44%,#e9ffea 0 28.14%,#e9ffe9 0 31.94%,#eaffe9 0 41.45%,#e9ffe9 0 43.35%,#e9ffea 0 49.05%,#e8ffea 0 50.95%,#e8ffeb 0 56.65%,#e7ffeb 0 58.55%,#e7ffec 0 60.45%,#e6ffec 0 62.35%,#e6ffed 0 64.26%,#e5ffee 0 66.16%,#e4ffef 0 68.06%,#e3fff0 0 69.96%,#e2fff1 0 75.66%,#e3fff0 0 79.46%,#e4ffef 0 83.26%,#e5ffee 0 87.06%,#e6ffed 0 88.97%,#e6ffec 0 90.87%,#e7ffec 0 92.77%,#e8ffeb 0 94.67%,#e8ffea 0)"></i><i style="top:64.08px;height:8.54px;background:linear-gradient(90deg,#eeffe4 0 3.43%,#efffe4 0 5.33%,#efffe3 0 7.23%,#f0ffe2 0 9.13%,#f1ffe2 0 11.03%,#f2ffe1 0 14.84%,#f3ffe0 0 18.64%,#f4ffdf 0 22.44%,#f4ffde 0 24.34%,#f5ffde 0 28.14%,#f5ffdd 0 31.94%,#f6ffdd 0 35.74%,#f6ffdc 0 37.65%,#f7ffdc 0 43.35%,#f6ffdd 0 45.25%,#f5ffdd 0 47.15%,#f4ffde 0 49.05%,#f3ffdf 0 50.95%,#f2ffe0 0 52.85%,#f2ffe1 0 54.75%,#f1ffe2 0 56.65%,#f0ffe3 0 58.55%,#efffe3 0 60.45%,#efffe4 0 64.26%,#eeffe4 0 68.06%,#eeffe5 0 87.06%,#edffe5 0 94.67%,#edffe6 0)"></i><i style="top:72.22px;height:8.54px;background:linear-gradient(90deg,#faffd8 0 3.43%,#fcffd7 0 5.33%,#fdffd6 0 7.23%,#ffffd4 0 9.13%,#fffed4 0 11.03%,#fffdd4 0 12.94%,#fffcd4 0 14.84%,#fffbd4 0 20.54%,#fffad4 0 26.24%,#fffbd4 0 28.14%,#fffcd4 0 31.94%,#fffdd4 0 33.84%,#fffed4 0 35.74%,#ffffd4 0 37.65%,#feffd4 0 39.55%,#fdffd6 0 41.45%,#fcffd7 0 43.35%,#fbffd8 0 45.25%,#faffd9 0 47.15%,#f9ffda 0 49.05%,#f7ffdb 0 50.95%,#f6ffdc 0 52.85%,#f6ffdd 0 54.75%,#f5ffde 0 56.65%,#f4ffde 0 58.55%,#f4ffdf 0 60.45%,#f3ffdf 0 62.35%,#f3ffe0 0 66.16%,#f2ffe0 0 68.06%,#f2ffe1 0 71.86%,#f1ffe1 0 75.66%,#f1ffe2 0 81.36%,#f0ffe2 0 83.26%,#f0ffe3 0 88.97%,#efffe3 0 92.77%,#efffe4 0)"></i><i style="top:80.36px;height:8.54px;background:linear-gradient(90deg,#f0ffe3 0 9.13%,#efffe3 0 14.84%,#efffe4 0 18.64%,#eeffe4 0 22.44%,#eeffe5 0 26.24%,#edffe6 0 30.04%,#ecffe7 0 31.94%,#ebffe7 0 33.84%,#ebffe8 0 35.74%,#eaffe8 0 37.65%,#eaffe9 0 39.55%,#e9ffea 0 43.35%,#eaffe9 0 45.25%,#ecffe7 0 47.15%,#edffe5 0 49.05%,#efffe4 0 50.95%,#f0ffe3 0 52.85%,#f1ffe2 0 54.75%,#f2ffe1 0 56.65%,#f1ffe1 0 58.55%,#f1ffe2 0 62.35%,#f0ffe2 0 66.16%,#f0ffe3 0 73.76%,#efffe3 0 75.66%,#efffe4 0 77.56%,#eeffe4 0 79.46%,#eeffe5 0 83.26%,#edffe5 0 85.16%,#edffe6 0 88.97%,#ecffe6 0 90.87%,#ecffe7 0 92.77%,#ebffe7 0 94.67%,#ebffe8 0)"></i><i style="top:88.5px;height:8.54px;background:linear-gradient(90deg,#e8ffeb 0 5.33%,#edffe6 0 9.13%,#ecffe6 0 11.03%,#ecffe7 0 12.94%,#ebffe7 0 14.84%,#ebffe8 0 18.64%,#eaffe8 0 20.54%,#e7ffec 0 26.24%,#e8ffeb 0 30.04%,#e9ffea 0 31.94%,#e9ffe9 0 33.84%,#eaffe9 0 35.74%,#ebffe8 0 37.65%,#ebffe7 0 39.55%,#ecffe7 0 41.45%,#edffe6 0 43.35%,#eeffe5 0 45.25%,#efffe3 0 47.15%,#f1ffe2 0 49.05%,#f2ffe0 0 50.95%,#f4ffdf 0 52.85%,#f5ffde 0 54.75%,#f4ffde 0 56.65%,#f3ffe0 0 58.55%,#f2ffe1 0 60.45%,#f0ffe2 0 62.35%,#efffe4 0 64.26%,#eeffe5 0 66.16%,#edffe6 0 73.76%,#ecffe6 0)"></i><i style="top:96.64px;height:8.54px;background:linear-gradient(90deg,#d4f4ff 0 5.33%,#00b1ff 0 7.23%,#00b3ff 0 9.13%,#00b6ff 0 11.03%,#00bcff 0 12.94%,#00ceff 0 14.84%,#00e4ff 0 16.74%,#00f2ff 0 18.64%,#00fbff 0 20.54%,#d8fffa 0 22.44%,#dafff9 0 24.34%,#dbfff7 0 26.24%,#ddfff6 0 28.14%,#defff5 0 30.04%,#dffff4 0 31.94%,#e0fff3 0 33.84%,#e1fff2 0 35.74%,#e2fff1 0 37.65%,#e3fff0 0 39.55%,#e4ffef 0 41.45%,#e4ffee 0 43.35%,#e5ffee 0 45.25%,#e6ffed 0 47.15%,#e6ffec 0 49.05%,#e7ffec 0 50.95%,#e7ffeb 0 52.85%,#e8ffeb 0 54.75%,#e8ffea 0 56.65%,#e9ffea 0 62.35%,#e8ffeb 0 66.16%,#e7ffeb 0 68.06%,#e7ffec 0 69.96%,#e6ffec 0 71.86%,#e6ffed 0 75.66%,#e5ffed 0 79.46%,#e6ffed 0 81.36%,#e6ffec 0 83.26%,#e7ffec 0 85.16%,#e7ffeb 0 87.06%,#e8ffeb 0 88.97%,#e8ffea 0 90.87%,#e9ffea 0 92.77%,#e9ffe9 0 94.67%,#eaffe9 0)"></i><i style="top:104.78px;height:8.54px;background:linear-gradient(90deg,#e3fff0 0 5.33%,#e8ffeb 0 7.23%,#e7ffeb 0 9.13%,#e7ffec 0 11.03%,#e6ffec 0 12.94%,#e6ffed 0 16.74%,#e5ffed 0 18.64%,#e5ffee 0 20.54%,#e2fff1 0 49.05%,#e2fff0 0 50.95%,#e3fff0 0 52.85%,#e4ffef 0 54.75%,#e4ffee 0 56.65%,#e5ffee 0 58.55%,#e6ffed 0 60.45%,#e6ffec 0 62.35%,#e7ffec 0 66.16%,#e7ffeb 0 81.36%,#e7ffec 0 88.97%,#e6ffec 0 92.77%,#e6ffed 0 94.67%,#e9ffe9 0)"></i><i style="top:112.92px;height:8.54px;background:linear-gradient(90deg,#e3fff0 0 3.43%,#e2fff0 0 5.33%,#e1fff1 0 7.23%,#e1fff2 0 9.13%,#e2fff1 0 11.03%,#e1fff1 0 12.94%,#e1fff2 0 14.84%,#e0fff2 0 16.74%,#e0fff3 0 18.64%,#dffff4 0 22.44%,#defff5 0 26.24%,#ddfff6 0 30.04%,#dcfff7 0 31.94%,#dbfff8 0 35.74%,#dafff8 0 37.65%,#dafff9 0 41.45%,#d9fff9 0 43.35%,#dafff9 0 47.15%,#dbfff8 0 50.95%,#dcfff7 0 52.85%,#dcfff6 0 54.75%,#ddfff6 0 56.65%,#ddfff5 0 58.55%,#defff5 0 60.45%,#e0fff3 0 62.35%,#e0fff2 0 64.26%,#e1fff2 0 66.16%,#e1fff1 0 68.06%,#e2fff1 0 71.86%,#e3fff0 0 75.66%,#e3ffef 0 77.56%,#e3fff0 0 79.46%,#e2fff1 0 81.36%,#e0fff3 0 83.26%,#defff4 0 85.16%,#ddfff6 0 87.06%,#dbfff7 0 88.97%,#d9fff9 0 90.87%,#d8fffb 0 92.77%,#d6fffd 0 94.67%,#00ffff 0)"></i><i style="top:121.06px;height:8.54px;background:linear-gradient(90deg,#e0fff2 0 3.43%,#defff4 0 5.33%,#dcfff7 0 7.23%,#d9fffa 0 9.13%,#00f8ff 0 11.03%,#00eaff 0 12.94%,#00ddff 0 14.84%,#00d1ff 0 16.74%,#00c8ff 0 18.64%,#00c0ff 0 20.54%,#00bdff 0 22.44%,#00c4ff 0 24.34%,#00cfff 0 26.24%,#00dbff 0 28.14%,#00eaff 0 30.04%,#00faff 0 31.94%,#d7fffb 0 33.84%,#d9fffa 0 35.74%,#dafff9 0 41.45%,#d9fff9 0 43.35%,#d9fffa 0 49.05%,#d8fffa 0 50.95%,#d8fffb 0 52.85%,#d7fffb 0 54.75%,#d7fffc 0 58.55%,#d6fffc 0 60.45%,#00f7ff 0 62.35%,#00e8ff 0 64.26%,#00d3ff 0 66.16%,#00b3ff 0 68.06%,#0095ff 0 69.96%,#0086ff 0 71.86%,#0083ff 0 73.76%,#0089ff 0 75.66%,#0096ff 0 77.56%,#00a3ff 0 79.46%,#00afff 0 81.36%,#00baff 0 83.26%,#00c9ff 0 85.16%,#00daff 0 87.06%,#00e6ff 0 88.97%,#00ebff 0 90.87%,#00eeff 0 92.77%,#00f0ff 0 94.67%,#00f2ff 0 96.57%,#00f3ff 0)"></i><i style="top:129.2px;height:8.54px;background:linear-gradient(90deg,#eeffe4 0 3.43%,#eeffe5 0 5.33%,#edffe6 0 7.23%,#ecffe7 0 9.13%,#efffe4 0 11.03%,#eeffe4 0 12.94%,#eeffe5 0 14.84%,#edffe5 0 16.74%,#edffe6 0 18.64%,#ecffe6 0 20.54%,#ecffe7 0 24.34%,#ebffe7 0 26.24%,#ecffe7 0 31.94%,#e9ffea 0 33.84%,#e9ffe9 0 35.74%,#eaffe9 0 39.55%,#eaffe8 0 43.35%,#ebffe8 0 49.05%,#eaffe9 0 50.95%,#e8ffeb 0 52.85%,#e6ffed 0 54.75%,#e5ffee 0 56.65%,#e3fff0 0 58.55%,#e2fff1 0 60.45%,#e3ffef 0 62.35%,#e3fff0 0 64.26%,#e3ffef 0 66.16%,#e4ffef 0 73.76%,#e4ffee 0 75.66%,#e5ffee 0 79.46%,#e5ffed 0 81.36%,#e6ffed 0 83.26%,#e6ffec 0 85.16%,#e7ffec 0 87.06%,#e7ffeb 0 88.97%,#e8ffeb 0 90.87%,#e8ffea 0 92.77%,#e9ffea 0 96.57%,#e9ffe9 0)"></i><i style="top:137.34px;height:8.54px;background:linear-gradient(90deg,#f6ffdd 0 9.13%,#f5ffdd 0 18.64%,#f5ffde 0 24.34%,#f4ffde 0 26.24%,#f3ffdf 0 28.14%,#f2ffe1 0 30.04%,#f1ffe2 0 31.94%,#f0ffe3 0 33.84%,#efffe4 0 35.74%,#eeffe5 0 37.65%,#edffe6 0 39.55%,#ecffe7 0 41.45%,#ebffe8 0 43.35%,#eaffe8 0 45.25%,#eaffe9 0 47.15%,#e9ffea 0 49.05%,#e8ffea 0 50.95%,#e7ffeb 0 52.85%,#e6ffec 0 54.75%,#e6ffed 0 56.65%,#e5ffee 0 58.55%,#e4ffef 0 62.35%,#e3ffef 0 64.26%,#e4ffef 0 77.56%,#e4ffee 0 79.46%,#e5ffee 0 81.36%,#e5ffed 0 83.26%,#e6ffed 0 85.16%,#e7ffec 0 87.06%,#e7ffeb 0 88.97%,#e8ffeb 0 90.87%,#e9ffea 0 92.77%,#e9ffe9 0 94.67%,#eaffe9 0)"></i><i style="top:145.48px;height:8.54px;background:linear-gradient(90deg,#f7ffdc 0 5.33%,#f6ffdc 0 14.84%,#f6ffdd 0 24.34%,#f5ffdd 0 26.24%,#f5ffde 0 28.14%,#f4ffdf 0 30.04%,#f3ffe0 0 31.94%,#f2ffe0 0 33.84%,#f1ffe1 0 35.74%,#f1ffe2 0 37.65%,#f0ffe3 0 39.55%,#efffe4 0 41.45%,#eeffe4 0 43.35%,#eeffe5 0 45.25%,#edffe6 0 47.15%,#ecffe7 0 49.05%,#ebffe7 0 50.95%,#ebffe8 0 52.85%,#eaffe9 0 54.75%,#e9ffe9 0 56.65%,#e8ffea 0 58.55%,#e8ffeb 0 62.35%,#e7ffeb 0 71.86%,#e8ffeb 0 75.66%,#e9ffea 0 77.56%,#e9ffe9 0 79.46%,#eaffe9 0 81.36%,#ebffe8 0 83.26%,#ecffe7 0 87.06%,#edffe6 0 90.87%,#eeffe5 0 94.67%,#eeffe4 0 96.57%,#efffe4 0)"></i><i style="top:153.62px;height:8.54px;background:linear-gradient(90deg,#ebffe8 0 5.33%,#ecffe7 0 7.23%,#ecffe6 0 9.13%,#edffe6 0 11.03%,#edffe5 0 12.94%,#eeffe5 0 14.84%,#eeffe4 0 16.74%,#efffe4 0 18.64%,#efffe3 0 20.54%,#f0ffe3 0 22.44%,#f0ffe2 0 24.34%,#f1ffe2 0 28.14%,#f1ffe1 0 30.04%,#f2ffe1 0 33.84%,#f2ffe0 0 35.74%,#f3ffe0 0 39.55%,#f3ffdf 0 41.45%,#f4ffdf 0 43.35%,#f3ffe0 0 45.25%,#f2ffe1 0 47.15%,#f1ffe2 0 49.05%,#f0ffe2 0 50.95%,#efffe3 0 52.85%,#eeffe4 0 54.75%,#edffe5 0 56.65%,#edffe6 0 58.55%,#ecffe7 0 60.45%,#ebffe8 0 62.35%,#eaffe9 0 64.26%,#e9ffea 0 66.16%,#e8ffeb 0 68.06%,#e7ffeb 0 69.96%,#e7ffec 0 73.76%,#e9ffea 0 75.66%,#ebffe8 0 77.56%,#edffe6 0 79.46%,#efffe3 0 81.36%,#f1ffe1 0 83.26%,#f3ffdf 0 85.16%,#f4ffdf 0 87.06%,#f5ffde 0 90.87%,#f5ffdd 0 92.77%,#f6ffdd 0)"></i><i style="top:161.76px;height:18.14px;background:linear-gradient(90deg,#e4ffef 0 5.33%,#e4ffee 0 9.13%,#e5ffee 0 12.94%,#e5ffed 0 14.84%,#e6ffed 0 20.54%,#e6ffec 0 22.44%,#e7ffec 0 26.24%,#e7ffeb 0 28.14%,#e8ffeb 0 30.04%,#e8ffea 0 31.94%,#e9ffea 0 33.84%,#e9ffe9 0 35.74%,#eaffe9 0 37.65%,#eaffe8 0 39.55%,#ebffe8 0 45.25%,#eaffe9 0 47.15%,#e9ffea 0 49.05%,#e8ffea 0 50.95%,#e8ffeb 0 52.85%,#e7ffec 0 54.75%,#e6ffed 0 56.65%,#e5ffed 0 58.55%,#e5ffee 0 64.26%,#e5ffed 0 66.16%,#e6ffed 0 68.06%,#e6ffec 0 69.96%,#e7ffec 0 71.86%,#e7ffeb 0 73.76%,#e8ffea 0 75.66%,#e9ffe9 0 77.56%,#eaffe9 0 79.46%,#ebffe8 0 81.36%,#ecffe7 0 83.26%,#ecffe6 0 85.16%,#edffe6 0 87.06%,#edffe5 0 88.97%,#eeffe5 0 90.87%,#eeffe4 0 92.77%,#efffe4 0)"></i></div></div>
<div class="hm" style="left:768.4px;top:561.3px;width:178.2px;height:163.7px"><div class="in"><i style="top:0px;height:15.64px;background:linear-gradient(90deg,#e6ffec 0 3.42%,#e5ffee 0 5.31%,#e2fff1 0 7.2%,#dffff3 0 9.1%,#ddfff6 0 10.99%,#dafff9 0 12.88%,#d7fffb 0 14.77%,#d5fffe 0 20.45%,#d6fffd 0 22.34%,#d6fffc 0 24.24%,#d7fffc 0 26.13%,#d8fffb 0 28.02%,#d8fffa 0 29.92%,#d9fffa 0 33.7%,#d8fffb 0 35.59%,#d7fffb 0 37.49%,#d7fffc 0 39.38%,#d6fffd 0 41.27%,#d5fffd 0 43.17%,#d5fffe 0 45.06%,#d5fffd 0 46.95%,#d8fffb 0 48.84%,#dbfff7 0 50.74%,#dffff4 0 52.63%,#e2fff1 0 54.52%,#e6ffed 0 56.41%,#e9ffea 0 58.31%,#ecffe7 0 60.2%,#eeffe5 0 63.99%,#edffe5 0 65.88%,#edffe6 0 67.77%,#ecffe7 0 69.66%,#ebffe8 0 71.56%,#eaffe8 0 73.45%,#e9ffe9 0 75.34%,#e8ffea 0 77.23%,#e7ffec 0 79.13%,#e6ffed 0 81.02%,#e5ffee 0 82.91%,#e3ffef 0 84.81%,#e2fff1 0 86.7%,#e1fff2 0 88.59%,#e0fff3 0 90.48%,#dffff4 0 92.38%,#defff5 0 94.27%,#ddfff5 0 96.16%,#ddfff6 0)"></i><i style="top:15.24px;height:8.54px;background:linear-gradient(90deg,#d9fff9 0 3.42%,#d9fffa 0 5.31%,#d8fffb 0 7.2%,#d7fffb 0 9.1%,#d7fffc 0 10.99%,#d6fffd 0 12.88%,#d5fffd 0 14.77%,#d5fffe 0 16.67%,#d4fffe 0 31.81%,#d5fffe 0 33.7%,#d5fffd 0 35.59%,#d6fffd 0 37.49%,#d6fffc 0 39.38%,#d7fffc 0 43.17%,#d8fffb 0 45.06%,#d9fffa 0 46.95%,#dafff8 0 48.84%,#dcfff6 0 50.74%,#dffff4 0 52.63%,#e1fff1 0 54.52%,#e4ffef 0 56.41%,#e7ffec 0 58.31%,#e9ffea 0 60.2%,#eaffe8 0 63.99%,#eaffe9 0 65.88%,#e9ffea 0 67.77%,#e8ffeb 0 69.66%,#e7ffec 0 71.56%,#e5ffed 0 73.45%,#e3ffef 0 75.34%,#e1fff2 0 77.23%,#defff5 0 79.13%,#dbfff7 0 81.02%,#d9fffa 0 82.91%,#d6fffd 0 84.81%,#d4ffff 0 86.7%,#d4fdff 0 88.59%,#d4fcff 0 90.48%,#d4fdff 0)"></i><i style="top:23.38px;height:8.54px;background:linear-gradient(90deg,#d6fffd 0 16.67%,#d6fffc 0 18.56%,#d7fffb 0 20.45%,#dafff9 0 22.34%,#ddfff6 0 24.24%,#dffff3 0 26.13%,#e2fff0 0 28.02%,#e5ffee 0 29.92%,#e6ffec 0 31.81%,#e6ffed 0 33.7%,#e4ffef 0 35.59%,#e2fff0 0 37.49%,#e0fff2 0 39.38%,#defff4 0 41.27%,#ddfff6 0 43.17%,#ddfff5 0 45.06%,#dffff3 0 46.95%,#e2fff1 0 48.84%,#e5ffee 0 50.74%,#e7ffec 0 52.63%,#eaffe9 0 54.52%,#ecffe7 0 56.41%,#edffe5 0 58.31%,#efffe4 0 60.2%,#f0ffe3 0 62.09%,#f1ffe2 0 63.99%,#f2ffe1 0 65.88%,#f3ffe0 0 67.77%,#f2ffe1 0 69.66%,#f1ffe2 0 71.56%,#f0ffe3 0 73.45%,#efffe4 0 75.34%,#edffe5 0 77.23%,#ecffe7 0 79.13%,#ebffe8 0 81.02%,#eaffe9 0 82.91%,#e8ffea 0 84.81%,#e8ffeb 0 86.7%,#e7ffec 0 92.38%,#e6ffed 0 96.16%,#e5ffed 0)"></i><i style="top:31.52px;height:8.54px;background:linear-gradient(90deg,#e4ffee 0 3.42%,#e5ffee 0 5.31%,#e6ffed 0 7.2%,#e7ffec 0 9.1%,#e8ffeb 0 10.99%,#e9ffea 0 12.88%,#eaffe9 0 14.77%,#eaffe8 0 16.67%,#ebffe7 0 18.56%,#edffe6 0 20.45%,#eeffe5 0 22.34%,#efffe4 0 24.24%,#f0ffe3 0 26.13%,#f1ffe2 0 28.02%,#f2ffe0 0 29.92%,#f3ffe0 0 31.81%,#f3ffdf 0 33.7%,#f4ffdf 0 39.38%,#f4ffde 0 41.27%,#f5ffde 0 43.17%,#f5ffdd 0 45.06%,#f6ffdd 0 46.95%,#f7ffdc 0 48.84%,#f8ffdb 0 50.74%,#f9ffda 0 52.63%,#f9ffd9 0 54.52%,#faffd9 0 56.41%,#f9ffd9 0 60.2%,#f9ffda 0 65.88%,#f8ffda 0 67.77%,#f8ffdb 0 71.56%,#f7ffdb 0 73.45%,#f7ffdc 0 82.91%,#f7ffdb 0 84.81%,#f9ffda 0 86.7%,#fcffd7 0 88.59%,#ffffd4 0 90.48%,#fffdd4 0 92.38%,#fffbd4 0 94.27%,#fff9d4 0 96.16%,#fff8d4 0)"></i><i style="top:39.66px;height:8.54px;background:linear-gradient(90deg,#efffe4 0 3.42%,#efffe3 0 5.31%,#f1ffe2 0 7.2%,#f2ffe1 0 9.1%,#f3ffe0 0 10.99%,#f4ffde 0 12.88%,#f6ffdd 0 14.77%,#f7ffdc 0 16.67%,#f8ffda 0 18.56%,#f9ffda 0 26.13%,#f8ffda 0 28.02%,#f8ffdb 0 33.7%,#f7ffdb 0 35.59%,#f7ffdc 0 39.38%,#f6ffdc 0 41.27%,#f6ffdd 0 43.17%,#f5ffdd 0 45.06%,#f5ffde 0 46.95%,#f4ffde 0 48.84%,#f4ffdf 0 50.74%,#f3ffdf 0 52.63%,#f3ffe0 0 54.52%,#f2ffe1 0 56.41%,#f1ffe2 0 58.31%,#f0ffe2 0 60.2%,#f0ffe3 0 62.09%,#f0ffe2 0 63.99%,#f1ffe2 0 65.88%,#f2ffe1 0 67.77%,#f2ffe0 0 69.66%,#f3ffe0 0 71.56%,#f4ffdf 0 73.45%,#f4ffde 0 75.34%,#f5ffde 0 77.23%,#f6ffdd 0 81.02%,#f6ffdc 0 82.91%,#f7ffdc 0 86.7%,#f8ffdb 0 88.59%,#f8ffda 0 90.48%,#f9ffda 0 92.38%,#f9ffd9 0 94.27%,#faffd9 0)"></i><i style="top:47.8px;height:8.54px;background:linear-gradient(90deg,#f0ffe3 0 5.31%,#efffe3 0 7.2%,#efffe4 0 10.99%,#eeffe4 0 12.88%,#eeffe5 0 20.45%,#efffe4 0 22.34%,#f0ffe2 0 24.24%,#f2ffe1 0 26.13%,#f3ffdf 0 28.02%,#f5ffde 0 29.92%,#f6ffdc 0 31.81%,#f8ffdb 0 33.7%,#faffd9 0 35.59%,#fbffd8 0 39.38%,#faffd9 0 41.27%,#f8ffda 0 43.17%,#f7ffdc 0 45.06%,#f6ffdd 0 46.95%,#f4ffdf 0 48.84%,#f3ffe0 0 50.74%,#f1ffe1 0 52.63%,#f0ffe3 0 54.52%,#eeffe5 0 56.41%,#ebffe8 0 58.31%,#e7ffeb 0 60.2%,#e6ffed 0 62.09%,#e6ffec 0 63.99%,#e8ffeb 0 65.88%,#e9ffe9 0 67.77%,#ebffe8 0 69.66%,#ecffe7 0 71.56%,#edffe5 0 73.45%,#efffe4 0 75.34%,#f0ffe3 0 77.23%,#f1ffe2 0 79.13%,#f2ffe1 0 82.91%,#f2ffe0 0 84.81%,#f3ffe0 0 88.59%,#f3ffdf 0 90.48%,#f4ffdf 0 94.27%,#f4ffde 0 96.16%,#f5ffde 0)"></i><i style="top:55.94px;height:8.54px;background:linear-gradient(90deg,#edffe6 0 9.1%,#edffe5 0 12.88%,#eeffe5 0 20.45%,#eeffe4 0 22.34%,#efffe4 0 24.24%,#efffe3 0 26.13%,#f0ffe2 0 28.02%,#f1ffe1 0 29.92%,#f2ffe0 0 31.81%,#f4ffdf 0 33.7%,#f5ffde 0 35.59%,#f6ffdd 0 37.49%,#f7ffdc 0 39.38%,#f8ffdb 0 41.27%,#f8ffda 0 43.17%,#f8ffdb 0 45.06%,#f7ffdc 0 46.95%,#f6ffdd 0 48.84%,#f4ffde 0 50.74%,#f3ffdf 0 52.63%,#f2ffe1 0 54.52%,#f1ffe2 0 56.41%,#efffe4 0 58.31%,#eeffe5 0 60.2%,#edffe6 0 62.09%,#edffe5 0 63.99%,#eeffe5 0 65.88%,#efffe4 0 67.77%,#efffe3 0 69.66%,#f0ffe3 0 71.56%,#f1ffe2 0 75.34%,#f2ffe1 0 77.23%,#f2ffe0 0 82.91%,#f3ffe0 0)"></i><i style="top:64.08px;height:8.54px;background:linear-gradient(90deg,#dcfff7 0 5.31%,#ddfff6 0 7.2%,#ddfff5 0 9.1%,#defff5 0 10.99%,#dffff4 0 12.88%,#dffff3 0 14.77%,#e0fff3 0 16.67%,#e0fff2 0 18.56%,#e1fff2 0 20.45%,#e0fff2 0 22.34%,#e0fff3 0 24.24%,#dffff4 0 28.02%,#defff5 0 31.81%,#ddfff6 0 35.59%,#dcfff6 0 37.49%,#ddfff6 0 39.38%,#defff5 0 41.27%,#dffff3 0 43.17%,#e0fff2 0 45.06%,#e1fff2 0 46.95%,#e2fff1 0 48.84%,#e3fff0 0 50.74%,#e4ffef 0 52.63%,#e4ffee 0 54.52%,#e5ffee 0 56.41%,#e5ffed 0 58.31%,#e6ffed 0 60.2%,#e6ffec 0 62.09%,#e7ffec 0 63.99%,#e8ffeb 0 65.88%,#e8ffea 0 67.77%,#e9ffea 0 69.66%,#e9ffe9 0 71.56%,#eaffe9 0 90.48%,#eaffe8 0)"></i><i style="top:72.22px;height:8.54px;background:linear-gradient(90deg,#e3fff0 0 7.2%,#e2fff0 0 10.99%,#e2fff1 0 18.56%,#e1fff1 0 20.45%,#e1fff2 0 24.24%,#e0fff2 0 39.38%,#e1fff2 0 48.84%,#e1fff1 0 50.74%,#e2fff1 0 52.63%,#e3fff0 0 54.52%,#e3ffef 0 56.41%,#e4ffee 0 58.31%,#e5ffee 0 60.2%,#e6ffed 0 62.09%,#e7ffec 0 63.99%,#e8ffeb 0 65.88%,#e9ffea 0 75.34%,#e8ffeb 0 79.13%,#e7ffeb 0 81.02%,#e7ffec 0 90.48%,#e7ffeb 0 94.27%,#e8ffeb 0)"></i><i style="top:80.36px;height:8.54px;background:linear-gradient(90deg,#e9ffea 0 5.31%,#eaffe9 0 7.2%,#eaffe8 0 9.1%,#ebffe8 0 10.99%,#ecffe7 0 14.77%,#ecffe6 0 16.67%,#edffe6 0 20.45%,#edffe5 0 24.24%,#eeffe5 0 26.13%,#eeffe4 0 28.02%,#efffe4 0 29.92%,#f0ffe3 0 31.81%,#f0ffe2 0 33.7%,#f1ffe2 0 35.59%,#f2ffe1 0 37.49%,#f2ffe0 0 39.38%,#f3ffe0 0 41.27%,#f3ffdf 0 43.17%,#f3ffe0 0 45.06%,#f2ffe0 0 46.95%,#f2ffe1 0 48.84%,#f1ffe2 0 50.74%,#f0ffe2 0 52.63%,#f0ffe3 0 54.52%,#f0ffe2 0 56.41%,#f2ffe1 0 58.31%,#f4ffde 0 60.2%,#f6ffdc 0 62.09%,#f9ffda 0 63.99%,#faffd8 0 65.88%,#fcffd6 0 67.77%,#fdffd5 0 69.66%,#feffd5 0 71.56%,#feffd4 0 73.45%,#fdffd5 0 75.34%,#fcffd7 0 77.23%,#fbffd8 0 79.13%,#f9ffd9 0 81.02%,#f8ffdb 0 82.91%,#f7ffdc 0 84.81%,#f6ffdc 0 86.7%,#f6ffdd 0 88.59%,#f5ffde 0 90.48%,#f4ffdf 0 94.27%,#f3ffe0 0)"></i><i style="top:88.5px;height:8.54px;background:linear-gradient(90deg,#d8fffb 0 3.42%,#dafff8 0 5.31%,#defff5 0 7.2%,#e1fff2 0 9.1%,#e4ffef 0 10.99%,#e7ffec 0 12.88%,#e9ffea 0 14.77%,#eaffe9 0 16.67%,#ebffe8 0 18.56%,#ecffe7 0 20.45%,#edffe6 0 22.34%,#edffe5 0 24.24%,#eeffe4 0 26.13%,#efffe3 0 28.02%,#f0ffe2 0 29.92%,#f1ffe2 0 31.81%,#f2ffe1 0 33.7%,#f3ffe0 0 35.59%,#f3ffdf 0 37.49%,#f4ffdf 0 39.38%,#f4ffde 0 41.27%,#f5ffde 0 43.17%,#f6ffdd 0 45.06%,#f6ffdc 0 46.95%,#f7ffdc 0 48.84%,#f8ffdb 0 50.74%,#f8ffda 0 52.63%,#f9ffda 0 54.52%,#faffd9 0 56.41%,#fbffd8 0 58.31%,#fcffd7 0 60.2%,#fdffd6 0 62.09%,#feffd5 0 63.99%,#fffa00 0 65.88%,#fff000 0 67.77%,#ffe600 0 69.66%,#ffdd00 0 71.56%,#ffd600 0 73.45%,#ffd100 0 75.34%,#ffcf00 0 77.23%,#ffd100 0 79.13%,#ffd500 0 81.02%,#ffe000 0 82.91%,#fff200 0 84.81%,#fbffd7 0 86.7%,#f9ffda 0 88.59%,#f7ffdc 0 90.48%,#f5ffde 0 92.38%,#f4ffdf 0 94.27%,#f3ffdf 0 96.16%,#f3ffe0 0)"></i><i style="top:96.64px;height:8.54px;background:linear-gradient(90deg,#e0fff2 0 14.77%,#e0fff3 0 20.45%,#e0fff2 0 29.92%,#e1fff2 0 31.81%,#e2fff1 0 33.7%,#e3fff0 0 35.59%,#e4ffef 0 37.49%,#e5ffed 0 39.38%,#e6ffec 0 41.27%,#e8ffeb 0 43.17%,#eaffe9 0 45.06%,#edffe6 0 46.95%,#efffe4 0 48.84%,#f2ffe1 0 50.74%,#f4ffde 0 52.63%,#f7ffdc 0 54.52%,#f8ffda 0 56.41%,#f9ffda 0 58.31%,#f9ffd9 0 63.99%,#f9ffda 0 65.88%,#f8ffda 0 67.77%,#f7ffdc 0 69.66%,#f6ffdd 0 71.56%,#f5ffde 0 73.45%,#f3ffdf 0 75.34%,#f2ffe1 0 77.23%,#f0ffe2 0 79.13%,#eeffe4 0 81.02%,#ecffe7 0 82.91%,#e9ffe9 0 84.81%,#eaffe9 0 86.7%,#e7ffeb 0 88.59%,#e5ffee 0 90.48%,#e2fff0 0 92.38%,#e0fff3 0 94.27%,#defff4 0 96.16%,#ddfff6 0)"></i><i style="top:104.78px;height:8.54px;background:linear-gradient(90deg,#e0fff3 0 3.42%,#dffff4 0 5.31%,#ddfff6 0 7.2%,#dbfff7 0 9.1%,#d9fff9 0 10.99%,#d7fffb 0 12.88%,#d5fffd 0 14.77%,#d4ffff 0 18.56%,#d5fffe 0 20.45%,#d6fffc 0 22.34%,#d7fffb 0 24.24%,#d9fffa 0 26.13%,#dafff9 0 28.02%,#dcfff7 0 29.92%,#ddfff6 0 31.81%,#dffff3 0 33.7%,#e1fff1 0 35.59%,#e4ffef 0 37.49%,#e6ffed 0 39.38%,#e8ffea 0 41.27%,#ebffe8 0 43.17%,#eaffe9 0 45.06%,#ecffe7 0 46.95%,#efffe4 0 48.84%,#f1ffe2 0 50.74%,#f3ffe0 0 52.63%,#f5ffdd 0 54.52%,#f7ffdb 0 56.41%,#f9ffd9 0 58.31%,#fbffd8 0 60.2%,#fcffd7 0 62.09%,#fbffd7 0 63.99%,#fbffd8 0 65.88%,#faffd9 0 67.77%,#f9ffda 0 69.66%,#f8ffdb 0 71.56%,#f7ffdc 0 73.45%,#f6ffdd 0 75.34%,#f5ffde 0 77.23%,#f4ffdf 0 79.13%,#f2ffe0 0 81.02%,#f1ffe2 0 82.91%,#f1ffe1 0 84.81%,#efffe3 0 86.7%,#eeffe5 0 88.59%,#ecffe7 0 90.48%,#ebffe8 0 92.38%,#e9ffea 0 94.27%,#e8ffeb 0 96.16%,#e7ffec 0)"></i><i style="top:112.92px;height:8.54px;background:linear-gradient(90deg,#e9ffea 0 3.42%,#e8ffea 0 7.2%,#e8ffeb 0 10.99%,#e7ffeb 0 12.88%,#e7ffec 0 18.56%,#e7ffeb 0 20.45%,#e8ffeb 0 24.24%,#e9ffea 0 26.13%,#eaffe9 0 28.02%,#ecffe7 0 29.92%,#eeffe4 0 31.81%,#f0ffe2 0 33.7%,#f3ffe0 0 35.59%,#f5ffde 0 37.49%,#f7ffdc 0 39.38%,#f9ffd9 0 41.27%,#fcffd7 0 43.17%,#fffb00 0 45.06%,#ffea00 0 46.95%,#ffcd00 0 48.84%,#ffb100 0 50.74%,#ffa300 0 52.63%,#ff9e00 0 54.52%,#ff9a00 0 56.41%,#ff9900 0 60.2%,#ff9800 0 62.09%,#ff9500 0 63.99%,#ff9200 0 65.88%,#ff9400 0 67.77%,#ff9e00 0 69.66%,#ffab00 0 71.56%,#ffb800 0 73.45%,#ffc500 0 75.34%,#ffd200 0 77.23%,#ffdf00 0 79.13%,#ffeb00 0 81.02%,#fff800 0 82.91%,#fcffd7 0 84.81%,#f7ffdb 0 86.7%,#f4ffdf 0 88.59%,#f1ffe2 0 90.48%,#efffe4 0 92.38%,#edffe6 0 94.27%,#ebffe8 0 96.16%,#eaffe9 0)"></i><i style="top:121.06px;height:8.54px;background:linear-gradient(90deg,#efffe4 0 3.42%,#efffe3 0 5.31%,#f0ffe3 0 9.1%,#f0ffe2 0 10.99%,#f1ffe2 0 14.77%,#f1ffe1 0 16.67%,#f2ffe1 0 20.45%,#f2ffe0 0 22.34%,#f3ffe0 0 24.24%,#f3ffdf 0 26.13%,#f4ffde 0 28.02%,#f5ffdd 0 29.92%,#f7ffdc 0 31.81%,#f8ffdb 0 33.7%,#f9ffda 0 35.59%,#faffd9 0 37.49%,#fbffd7 0 39.38%,#fdffd6 0 41.27%,#feffd5 0 43.17%,#fffb00 0 45.06%,#fff000 0 46.95%,#ffe600 0 48.84%,#ffdd00 0 50.74%,#ffd600 0 52.63%,#ffd000 0 54.52%,#ffcb00 0 56.41%,#ffc700 0 58.31%,#ffc400 0 60.2%,#ffbf00 0 62.09%,#ffba00 0 63.99%,#ffb300 0 65.88%,#ffae00 0 67.77%,#ffaa00 0 69.66%,#ffa600 0 71.56%,#ffa400 0 73.45%,#ffa300 0 82.91%,#ffa400 0 84.81%,#ffa600 0 86.7%,#ffa900 0 88.59%,#ffac00 0 90.48%,#ffad00 0)"></i><i style="top:129.2px;height:8.54px;background:linear-gradient(90deg,#f0ffe3 0 3.42%,#f0ffe2 0 5.31%,#f1ffe2 0 9.1%,#f2ffe1 0 12.88%,#f2ffe0 0 14.77%,#f3ffe0 0 16.67%,#f3ffdf 0 18.56%,#f4ffdf 0 20.45%,#f4ffde 0 22.34%,#f5ffde 0 26.13%,#f6ffdd 0 29.92%,#f7ffdc 0 31.81%,#f7ffdb 0 33.7%,#f8ffdb 0 35.59%,#f8ffda 0 37.49%,#f9ffda 0 39.38%,#faffd9 0 46.95%,#faffd8 0 48.84%,#fbffd8 0 50.74%,#fbffd7 0 52.63%,#fcffd7 0 56.41%,#fcffd6 0 58.31%,#fdffd6 0 62.09%,#feffd5 0 63.99%,#ffffd4 0 65.88%,#fffa00 0 67.77%,#fff100 0 69.66%,#ffe900 0 71.56%,#ffe100 0 73.45%,#ffda00 0 75.34%,#ffd300 0 77.23%,#ffcc00 0 79.13%,#ffc300 0 81.02%,#ffba00 0 82.91%,#ffb100 0 84.81%,#ffa900 0 86.7%,#ffa200 0 88.59%,#ff9d00 0 90.48%,#ff9a00 0 92.38%,#ff9900 0)"></i><i style="top:137.34px;height:8.54px;background:linear-gradient(90deg,#efffe4 0 3.42%,#efffe3 0 5.31%,#f0ffe3 0 7.2%,#f0ffe2 0 9.1%,#f1ffe2 0 10.99%,#f1ffe1 0 12.88%,#f2ffe1 0 14.77%,#f2ffe0 0 16.67%,#f3ffe0 0 18.56%,#f3ffdf 0 20.45%,#f4ffdf 0 22.34%,#f4ffde 0 24.24%,#f5ffde 0 26.13%,#f5ffdd 0 28.02%,#f6ffdd 0 29.92%,#f7ffdc 0 31.81%,#f7ffdb 0 33.7%,#f8ffdb 0 35.59%,#f9ffda 0 37.49%,#faffd8 0 39.38%,#fcffd7 0 41.27%,#fff500 0 43.17%,#ffe500 0 45.06%,#ffd900 0 46.95%,#ffd400 0 48.84%,#ffd200 0 50.74%,#ffcf00 0 52.63%,#ffcd00 0 54.52%,#ffcb00 0 56.41%,#ffc700 0 58.31%,#ffc400 0 60.2%,#ffbf00 0 62.09%,#ffba00 0 63.99%,#ffb300 0 65.88%,#ffae00 0 67.77%,#ffab00 0 69.66%,#ffa900 0 71.56%,#ffa700 0 73.45%,#ffa500 0 75.34%,#ffa700 0 77.23%,#ffad00 0 79.13%,#ffb300 0 81.02%,#ffb900 0 82.91%,#ffbd00 0 84.81%,#ffc200 0 86.7%,#ffc600 0 88.59%,#ffc900 0 92.38%,#ffc700 0 94.27%,#ffc400 0 96.16%,#ffc200 0)"></i><i style="top:145.48px;height:8.54px;background:linear-gradient(90deg,#e5ffed 0 3.42%,#e6ffed 0 9.1%,#e6ffec 0 12.88%,#e7ffec 0 18.56%,#e7ffeb 0 22.34%,#e8ffeb 0 28.02%,#e8ffea 0 29.92%,#e9ffea 0 31.81%,#e9ffe9 0 33.7%,#eaffe9 0 35.59%,#ebffe8 0 37.49%,#ecffe7 0 39.38%,#edffe6 0 41.27%,#ebffe8 0 43.17%,#ecffe7 0 45.06%,#ecffe6 0 46.95%,#edffe6 0 48.84%,#eeffe5 0 52.63%,#efffe4 0 56.41%,#efffe3 0 58.31%,#f0ffe3 0 60.2%,#f0ffe2 0 62.09%,#f1ffe2 0 63.99%,#f2ffe1 0 65.88%,#f2ffe0 0 67.77%,#f3ffe0 0 69.66%,#f4ffdf 0 77.23%,#f3ffdf 0 79.13%,#f3ffe0 0 82.91%,#f2ffe0 0 84.81%,#f2ffe1 0 86.7%,#f1ffe1 0 88.59%,#f1ffe2 0 92.38%,#f0ffe2 0 94.27%,#f0ffe3 0)"></i><i style="top:153.62px;height:8.54px;background:linear-gradient(90deg,#d4f8ff 0 5.31%,#d4f9ff 0 7.2%,#d4faff 0 9.1%,#d4fbff 0 10.99%,#d4fcff 0 14.77%,#d4fdff 0 16.67%,#d4feff 0 18.56%,#d4ffff 0 20.45%,#d4fffe 0 22.34%,#d6fffd 0 24.24%,#d7fffc 0 26.13%,#d8fffb 0 28.02%,#d9fffa 0 29.92%,#dafff9 0 31.81%,#dbfff8 0 33.7%,#dcfff7 0 35.59%,#ddfff6 0 37.49%,#defff5 0 39.38%,#dffff4 0 41.27%,#e0fff3 0 43.17%,#e1fff2 0 45.06%,#e2fff1 0 46.95%,#e3fff0 0 50.74%,#e2fff0 0 52.63%,#e2fff1 0 54.52%,#e1fff1 0 56.41%,#e1fff2 0 58.31%,#e0fff2 0 62.09%,#e2fff1 0 63.99%,#e3ffef 0 65.88%,#e5ffee 0 67.77%,#e6ffec 0 69.66%,#e8ffeb 0 71.56%,#e9ffea 0 73.45%,#eaffe8 0 75.34%,#ecffe7 0 77.23%,#edffe6 0 79.13%,#edffe5 0 82.91%,#eeffe5 0 86.7%,#eeffe4 0 88.59%,#efffe4 0 92.38%,#efffe3 0 94.27%,#f0ffe3 0)"></i><i style="top:161.76px;height:18.14px;background:linear-gradient(90deg,#dffff3 0 3.42%,#e0fff3 0 5.31%,#e0fff2 0 7.2%,#e1fff2 0 9.1%,#e1fff1 0 10.99%,#e2fff1 0 12.88%,#e3fff0 0 16.67%,#e4ffef 0 18.56%,#e4ffee 0 20.45%,#e5ffee 0 22.34%,#e5ffed 0 24.24%,#e6ffed 0 26.13%,#e7ffeb 0 28.02%,#e8ffea 0 29.92%,#eaffe9 0 31.81%,#ebffe8 0 33.7%,#ecffe7 0 35.59%,#edffe5 0 37.49%,#eeffe4 0 39.38%,#f0ffe3 0 41.27%,#f1ffe2 0 43.17%,#f1ffe1 0 58.31%,#f1ffe2 0 60.2%,#f1ffe1 0 62.09%,#f2ffe1 0 65.88%,#f2ffe0 0 67.77%,#f3ffe0 0 69.66%,#f3ffdf 0 71.56%,#f4ffdf 0 75.34%,#f4ffde 0 77.23%,#f5ffde 0 79.13%,#f4ffde 0 81.02%,#f4ffdf 0 82.91%,#f3ffdf 0 84.81%,#f3ffe0 0 86.7%,#f2ffe0 0 88.59%,#f2ffe1 0 90.48%,#f1ffe2 0 94.27%,#f0ffe2 0 96.16%,#f0ffe3 0)"></i></div></div>
<div class="hm" style="left:1269.8px;top:561.3px;width:178.1px;height:163.7px"><div class="in"><i style="top:0px;height:15.64px;background:linear-gradient(90deg,#edffe5 0 3.42%,#efffe4 0 5.31%,#f0ffe2 0 7.21%,#f2ffe1 0 9.1%,#f4ffdf 0 10.99%,#f5ffde 0 12.89%,#f7ffdc 0 14.78%,#f8ffdb 0 16.68%,#f7ffdc 0 18.57%,#f5ffde 0 20.46%,#f3ffdf 0 22.36%,#f2ffe1 0 24.25%,#f0ffe2 0 26.14%,#efffe4 0 28.04%,#edffe5 0 29.93%,#edffe6 0 31.83%,#eeffe5 0 33.72%,#f0ffe3 0 35.61%,#f2ffe1 0 37.51%,#f4ffdf 0 39.4%,#f6ffdd 0 41.29%,#f7ffdc 0 45.08%,#f5ffdd 0 46.98%,#f4ffdf 0 48.87%,#f2ffe0 0 50.76%,#f1ffe2 0 52.66%,#efffe4 0 54.55%,#eeffe5 0 56.44%,#ecffe7 0 58.34%,#ebffe8 0 60.23%,#eaffe8 0 62.13%,#ebffe8 0 64.02%,#ecffe7 0 65.91%,#edffe6 0 67.81%,#eeffe5 0 69.7%,#efffe3 0 71.59%,#f0ffe2 0 73.49%,#f2ffe1 0 75.38%,#f3ffe0 0 77.28%,#f4ffdf 0 84.85%,#f3ffdf 0 88.64%,#f3ffe0 0)"></i><i style="top:15.24px;height:8.54px;background:linear-gradient(90deg,#ffffd4 0 3.42%,#fffed4 0 9.1%,#feffd4 0 10.99%,#fdffd6 0 12.89%,#fbffd8 0 14.78%,#f9ffd9 0 16.68%,#f8ffdb 0 18.57%,#f7ffdc 0 26.14%,#f7ffdb 0 29.93%,#f8ffdb 0 31.83%,#f8ffda 0 33.72%,#f9ffda 0 35.61%,#f9ffd9 0 37.51%,#f9ffda 0 39.4%,#f8ffdb 0 41.29%,#f7ffdc 0 43.19%,#f6ffdd 0 45.08%,#f4ffde 0 46.98%,#f3ffe0 0 48.87%,#f2ffe1 0 50.76%,#f0ffe2 0 52.66%,#efffe4 0 54.55%,#eeffe5 0 56.44%,#edffe6 0 58.34%,#ecffe7 0 60.23%,#ebffe7 0 62.13%,#ebffe8 0 64.02%,#eaffe8 0 65.91%,#ebffe8 0 67.81%,#ecffe7 0 69.7%,#edffe5 0 71.59%,#efffe4 0 73.49%,#f1ffe2 0 75.38%,#f2ffe0 0 77.28%,#f4ffdf 0 81.06%,#f4ffde 0 84.85%,#f5ffde 0 90.53%,#f5ffdd 0 96.21%,#f6ffdd 0)"></i><i style="top:23.38px;height:8.54px;background:linear-gradient(90deg,#fcffd6 0 3.42%,#fcffd7 0 5.31%,#fbffd7 0 7.21%,#fbffd8 0 9.1%,#faffd9 0 10.99%,#f9ffda 0 12.89%,#f8ffda 0 14.78%,#f7ffdb 0 16.68%,#f7ffdc 0 18.57%,#f6ffdc 0 20.46%,#f7ffdc 0 22.36%,#f7ffdb 0 24.25%,#f8ffdb 0 26.14%,#f8ffda 0 28.04%,#f9ffda 0 29.93%,#faffd9 0 31.83%,#faffd8 0 33.72%,#fbffd8 0 37.51%,#faffd8 0 39.4%,#f9ffda 0 41.29%,#f8ffdb 0 43.19%,#f6ffdc 0 45.08%,#f5ffde 0 46.98%,#f3ffe0 0 48.87%,#f1ffe1 0 50.76%,#f0ffe3 0 52.66%,#eeffe5 0 54.55%,#edffe6 0 56.44%,#ebffe7 0 58.34%,#eaffe8 0 60.23%,#e9ffe9 0 62.13%,#e9ffea 0 64.02%,#e8ffeb 0 65.91%,#e8ffea 0 67.81%,#e9ffe9 0 69.7%,#ebffe8 0 71.59%,#ecffe6 0 73.49%,#eeffe5 0 75.38%,#efffe4 0 77.28%,#f0ffe3 0 79.17%,#f0ffe2 0 84.85%,#f1ffe2 0 88.64%,#f1ffe1 0 90.53%,#f2ffe1 0 94.32%,#f2ffe0 0)"></i><i style="top:31.52px;height:8.54px;background:linear-gradient(90deg,#f3ffe0 0 5.31%,#f2ffe0 0 7.21%,#f2ffe1 0 9.1%,#f1ffe1 0 10.99%,#f1ffe2 0 12.89%,#f0ffe2 0 14.78%,#f0ffe3 0 22.36%,#efffe3 0 24.25%,#f0ffe3 0 29.93%,#f0ffe2 0 31.83%,#f1ffe2 0 33.72%,#f1ffe1 0 35.61%,#f2ffe1 0 41.29%,#f1ffe2 0 43.19%,#efffe3 0 45.08%,#edffe6 0 46.98%,#ebffe8 0 48.87%,#e8ffea 0 50.76%,#e6ffed 0 52.66%,#e3ffef 0 54.55%,#e1fff2 0 56.44%,#dffff4 0 58.34%,#ddfff5 0 60.23%,#ddfff6 0 62.13%,#defff5 0 64.02%,#dffff4 0 65.91%,#e0fff2 0 67.81%,#e2fff1 0 69.7%,#e3ffef 0 71.59%,#e4ffef 0 75.38%,#e3ffef 0 77.28%,#e3fff0 0 79.17%,#e2fff0 0 81.06%,#e2fff1 0 82.96%,#e1fff1 0 84.85%,#e2fff1 0 88.64%,#e3fff0 0 90.53%,#e3ffef 0 92.43%,#e4ffef 0 94.32%,#e4ffee 0 96.21%,#e5ffee 0)"></i><i style="top:39.66px;height:8.54px;background:linear-gradient(90deg,#e5ffee 0 3.42%,#e4ffef 0 5.31%,#e3fff0 0 7.21%,#e1fff2 0 9.1%,#e0fff3 0 10.99%,#defff5 0 12.89%,#ddfff6 0 14.78%,#dbfff7 0 16.68%,#dbfff8 0 18.57%,#dbfff7 0 20.46%,#dcfff7 0 24.25%,#dcfff6 0 26.14%,#ddfff6 0 28.04%,#defff4 0 29.93%,#e1fff2 0 31.83%,#e3fff0 0 33.72%,#e5ffee 0 35.61%,#e7ffec 0 37.51%,#e8ffeb 0 39.4%,#e8ffea 0 41.29%,#e9ffea 0 56.44%,#e8ffea 0 58.34%,#e8ffeb 0 62.13%,#e7ffeb 0 64.02%,#e7ffec 0 65.91%,#e6ffec 0 67.81%,#e6ffed 0 69.7%,#e5ffee 0 73.49%,#e4ffef 0 75.38%,#e3fff0 0 77.28%,#e2fff1 0 79.17%,#e1fff2 0 81.06%,#e0fff2 0 82.96%,#e0fff3 0 84.85%,#dffff3 0 86.74%,#e0fff3 0 90.53%,#e0fff2 0 92.43%,#e1fff2 0 96.21%,#e1fff1 0)"></i><i style="top:47.8px;height:8.54px;background:linear-gradient(90deg,#e2fff0 0 3.42%,#e3fff0 0 5.31%,#e4ffef 0 7.21%,#e4ffee 0 9.1%,#e5ffee 0 10.99%,#e6ffed 0 12.89%,#e6ffec 0 14.78%,#e7ffeb 0 16.68%,#e8ffea 0 18.57%,#e9ffea 0 22.36%,#e8ffeb 0 26.14%,#e7ffeb 0 28.04%,#e7ffec 0 39.4%,#e8ffeb 0 41.29%,#e9ffea 0 43.19%,#e9ffe9 0 45.08%,#eaffe9 0 46.98%,#ebffe8 0 48.87%,#ecffe7 0 50.76%,#ecffe6 0 52.66%,#edffe5 0 54.55%,#efffe4 0 56.44%,#f1ffe2 0 58.34%,#f3ffe0 0 62.13%,#f1ffe2 0 64.02%,#eeffe5 0 65.91%,#ebffe7 0 67.81%,#e9ffea 0 69.7%,#e6ffec 0 71.59%,#e5ffee 0 73.49%,#e4ffef 0 79.17%,#e3ffef 0 82.96%,#e3fff0 0)"></i><i style="top:55.94px;height:8.54px;background:linear-gradient(90deg,#e3fff0 0 3.42%,#e3ffef 0 5.31%,#e4ffef 0 7.21%,#e5ffee 0 9.1%,#e6ffed 0 10.99%,#e7ffec 0 12.89%,#e7ffeb 0 14.78%,#e8ffea 0 16.68%,#e9ffea 0 20.46%,#e8ffea 0 22.36%,#e7ffeb 0 24.25%,#e6ffec 0 26.14%,#e5ffed 0 28.04%,#e4ffee 0 29.93%,#e3ffef 0 31.83%,#e2fff0 0 33.72%,#e1fff1 0 35.61%,#e1fff2 0 37.51%,#e1fff1 0 39.4%,#e2fff1 0 41.29%,#e3fff0 0 43.19%,#e4ffef 0 45.08%,#e5ffee 0 46.98%,#e6ffed 0 48.87%,#e7ffec 0 50.76%,#e7ffeb 0 52.66%,#e8ffea 0 54.55%,#e9ffea 0 58.34%,#e8ffea 0 60.23%,#e8ffeb 0 62.13%,#e7ffec 0 64.02%,#e6ffec 0 65.91%,#e5ffed 0 67.81%,#e5ffee 0 69.7%,#e4ffef 0 71.59%,#e3ffef 0 73.49%,#e3fff0 0 77.28%,#e3ffef 0 88.64%,#e4ffef 0)"></i><i style="top:64.08px;height:8.54px;background:linear-gradient(90deg,#f8ffdb 0 3.42%,#f9ffda 0 7.21%,#faffd9 0 10.99%,#fbffd8 0 14.78%,#fcffd7 0 16.68%,#fcffd6 0 18.57%,#fdffd6 0 22.36%,#fdffd5 0 24.25%,#feffd5 0 28.04%,#feffd4 0 29.93%,#ffffd4 0 33.72%,#fffed4 0 37.51%,#ffffd4 0 39.4%,#fdffd6 0 41.29%,#fbffd7 0 43.19%,#faffd9 0 45.08%,#f8ffda 0 46.98%,#f7ffdc 0 48.87%,#f6ffdd 0 50.76%,#f5ffde 0 52.66%,#f4ffdf 0 54.55%,#f3ffdf 0 56.44%,#f2ffe0 0 58.34%,#f2ffe1 0 60.23%,#f1ffe2 0 62.13%,#f0ffe2 0 64.02%,#f0ffe3 0 67.81%,#efffe3 0 69.7%,#efffe4 0 71.59%,#eeffe4 0 73.49%,#eeffe5 0 77.28%,#edffe5 0 79.17%,#edffe6 0 82.96%,#ecffe6 0 84.85%,#ecffe7 0 88.64%,#ebffe7 0 90.53%,#ebffe8 0 94.32%,#eaffe8 0 96.21%,#eaffe9 0)"></i><i style="top:72.22px;height:8.54px;background:linear-gradient(90deg,#fbffd8 0 3.42%,#fbffd7 0 5.31%,#fcffd7 0 7.21%,#fdffd6 0 9.1%,#feffd5 0 10.99%,#feffd4 0 12.89%,#ffffd4 0 14.78%,#fffed4 0 18.57%,#fffdd4 0 22.36%,#fffcd4 0 28.04%,#fffbd4 0 31.83%,#fffcd4 0 33.72%,#fffdd4 0 35.61%,#fffed4 0 37.51%,#ffffd4 0 39.4%,#feffd5 0 41.29%,#fcffd6 0 43.19%,#fbffd7 0 45.08%,#faffd8 0 46.98%,#f9ffd9 0 48.87%,#f8ffda 0 50.76%,#f8ffdb 0 52.66%,#f7ffdc 0 54.55%,#f6ffdc 0 58.34%,#f6ffdd 0 65.91%,#f5ffdd 0 67.81%,#f5ffde 0 79.17%,#f4ffde 0 84.85%,#f4ffdf 0 86.74%,#f3ffe0 0 88.64%,#f2ffe0 0 90.53%,#f2ffe1 0 92.43%,#f1ffe1 0 94.32%,#f1ffe2 0 96.21%,#f0ffe2 0)"></i><i style="top:80.36px;height:8.54px;background:linear-gradient(90deg,#eeffe4 0 3.42%,#eeffe5 0 14.78%,#edffe5 0 22.36%,#eeffe5 0 24.25%,#edffe5 0 26.14%,#edffe6 0 28.04%,#ecffe6 0 29.93%,#ecffe7 0 31.83%,#ebffe8 0 33.72%,#eaffe8 0 35.61%,#e9ffe9 0 37.51%,#e8ffea 0 39.4%,#e7ffeb 0 41.29%,#e6ffec 0 45.08%,#e7ffec 0 48.87%,#e8ffeb 0 52.66%,#e8ffea 0 54.55%,#e9ffea 0 56.44%,#e9ffe9 0 58.34%,#eaffe9 0 60.23%,#e9ffe9 0 62.13%,#e8ffea 0 64.02%,#e7ffec 0 65.91%,#e5ffee 0 67.81%,#e3ffef 0 69.7%,#e3fff0 0 71.59%,#e2fff1 0 79.17%,#e1fff2 0 82.96%,#e1fff1 0 84.85%,#e2fff1 0 92.43%,#e2fff0 0)"></i><i style="top:88.5px;height:8.54px;background:linear-gradient(90deg,#f3ffe0 0 3.42%,#f2ffe1 0 5.31%,#f1ffe2 0 7.21%,#efffe3 0 9.1%,#eeffe4 0 10.99%,#edffe5 0 12.89%,#ecffe7 0 14.78%,#ebffe8 0 16.68%,#eaffe9 0 20.46%,#eaffe8 0 22.36%,#ebffe8 0 24.25%,#ebffe7 0 26.14%,#ecffe7 0 28.04%,#edffe6 0 31.83%,#eeffe5 0 33.72%,#eeffe4 0 37.51%,#edffe5 0 39.4%,#ecffe7 0 41.29%,#ebffe8 0 43.19%,#eaffe9 0 45.08%,#e8ffea 0 46.98%,#e7ffeb 0 48.87%,#e6ffed 0 50.76%,#e5ffee 0 52.66%,#e4ffef 0 54.55%,#e3fff0 0 56.44%,#e1fff1 0 58.34%,#e0fff2 0 60.23%,#e0fff3 0 62.13%,#dffff4 0 64.02%,#defff5 0 65.91%,#dcfff7 0 67.81%,#d9fff9 0 69.7%,#0dfff2 0 79.17%,#d9fff9 0 81.06%,#dcfff6 0 82.96%,#dffff4 0 84.85%,#e1fff2 0 86.74%,#e3fff0 0 88.64%,#e4ffef 0 90.53%,#e6ffed 0 92.43%,#e7ffec 0 94.32%,#e8ffea 0 96.21%,#e9ffea 0)"></i><i style="top:96.64px;height:8.54px;background:linear-gradient(90deg,#eaffe9 0 5.31%,#eaffe8 0 7.21%,#ebffe8 0 10.99%,#ebffe7 0 12.89%,#ecffe7 0 14.78%,#ecffe6 0 18.57%,#edffe6 0 22.36%,#eeffe5 0 24.25%,#eeffe4 0 26.14%,#efffe3 0 28.04%,#f0ffe3 0 29.93%,#f1ffe2 0 31.83%,#f1ffe1 0 33.72%,#f2ffe0 0 37.51%,#f2ffe1 0 39.4%,#f0ffe3 0 41.29%,#efffe4 0 43.19%,#edffe6 0 45.08%,#ebffe7 0 46.98%,#eaffe9 0 48.87%,#e8ffeb 0 50.76%,#e6ffed 0 52.66%,#e3ffef 0 54.55%,#e1fff2 0 56.44%,#defff4 0 58.34%,#dcfff6 0 60.23%,#dbfff7 0 62.13%,#dcfff6 0 64.02%,#ddfff5 0 65.91%,#defff4 0 67.81%,#dffff3 0 69.7%,#e2fff1 0 71.59%,#e3fff0 0 73.49%,#e4ffee 0 75.38%,#e5ffee 0 77.28%,#e6ffed 0 79.17%,#e5ffee 0 81.06%,#e6ffed 0 82.96%,#e7ffeb 0 84.85%,#e9ffea 0 86.74%,#eaffe9 0 88.64%,#ebffe7 0 90.53%,#edffe6 0 92.43%,#eeffe5 0 94.32%,#efffe4 0 96.21%,#f0ffe3 0)"></i><i style="top:104.78px;height:8.54px;background:linear-gradient(90deg,#f1ffe2 0 3.42%,#f2ffe1 0 5.31%,#f3ffe0 0 7.21%,#f4ffde 0 9.1%,#f6ffdd 0 10.99%,#f7ffdb 0 12.89%,#f9ffda 0 14.78%,#f9ffd9 0 16.68%,#f9ffda 0 18.57%,#f8ffdb 0 20.46%,#f7ffdc 0 22.36%,#f5ffdd 0 24.25%,#f4ffde 0 26.14%,#f3ffe0 0 28.04%,#f2ffe1 0 29.93%,#f1ffe2 0 31.83%,#f0ffe3 0 33.72%,#eeffe4 0 35.61%,#edffe6 0 37.51%,#f0ffe3 0 39.4%,#efffe4 0 41.29%,#eeffe5 0 43.19%,#edffe5 0 45.08%,#ecffe6 0 46.98%,#ebffe7 0 48.87%,#ebffe8 0 50.76%,#eaffe9 0 52.66%,#e9ffea 0 54.55%,#e8ffeb 0 56.44%,#e7ffec 0 58.34%,#e6ffed 0 62.13%,#e5ffed 0 65.91%,#e5ffee 0 73.49%,#e5ffed 0 75.38%,#e6ffed 0 79.17%,#e7ffec 0 82.96%,#e7ffeb 0 84.85%,#e8ffeb 0 86.74%,#e8ffea 0 88.64%,#e9ffea 0 90.53%,#e9ffe9 0 92.43%,#eaffe9 0 94.32%,#eaffe8 0 96.21%,#ebffe8 0)"></i><i style="top:112.92px;height:8.54px;background:linear-gradient(90deg,#e6ffed 0 7.21%,#e5ffed 0 9.1%,#e5ffee 0 12.89%,#e4ffef 0 16.68%,#e3fff0 0 18.57%,#e2fff0 0 20.46%,#e2fff1 0 22.36%,#e1fff2 0 24.25%,#e0fff2 0 26.14%,#e0fff3 0 28.04%,#dffff4 0 29.93%,#defff5 0 31.83%,#dcfff6 0 33.72%,#dafff9 0 35.61%,#d8fffb 0 37.51%,#00faff 0 39.4%,#00f2ff 0 41.29%,#00e9ff 0 43.19%,#00deff 0 45.08%,#00d3ff 0 46.98%,#00c8ff 0 48.87%,#00c0ff 0 50.76%,#00c2ff 0 52.66%,#00c9ff 0 54.55%,#00ccff 0 56.44%,#00caff 0 58.34%,#00c5ff 0 60.23%,#00bbff 0 62.13%,#00abff 0 64.02%,#0098ff 0 65.91%,#0083ff 0 67.81%,#006eff 0 69.7%,#0058ff 0 71.59%,#004dff 0 73.49%,#0054ff 0 75.38%,#0063ff 0 77.28%,#0075ff 0 79.17%,#008cff 0 81.06%,#00a6ff 0 82.96%,#00c1ff 0 84.85%,#00dcff 0 86.74%,#00efff 0 88.64%,#00f6ff 0 90.53%,#00f9ff 0 92.43%,#00fbff 0 94.32%,#00feff 0 96.21%,#00ffff 0)"></i><i style="top:121.06px;height:8.54px;background:linear-gradient(90deg,#e1fff2 0 3.42%,#e0fff2 0 5.31%,#e0fff3 0 7.21%,#dffff4 0 9.1%,#defff4 0 10.99%,#ddfff5 0 12.89%,#ddfff6 0 14.78%,#dcfff7 0 16.68%,#dbfff7 0 18.57%,#dbfff8 0 22.36%,#dafff8 0 26.14%,#dafff9 0 31.83%,#d9fff9 0 33.72%,#d9fffa 0 35.61%,#d8fffb 0 37.51%,#d6fffd 0 39.4%,#00fcff 0 41.29%,#00f7ff 0 43.19%,#00f3ff 0 45.08%,#00eeff 0 46.98%,#00e9ff 0 48.87%,#00e2ff 0 50.76%,#00dbff 0 52.66%,#00d3ff 0 54.55%,#00c8ff 0 56.44%,#00b9ff 0 58.34%,#00a9ff 0 60.23%,#0096ff 0 62.13%,#007dff 0 64.02%,#0063ff 0 65.91%,#004aff 0 67.81%,#0033ff 0 69.7%,#001dff 0 71.59%,#000bff 0 73.49%,#0000ff 0 75.38%,#0000f8 0 77.28%,#0000f6 0 79.17%,#0000fe 0 81.06%,#0010ff 0 82.96%,#0029ff 0 84.85%,#004aff 0 86.74%,#0063ff 0 88.64%,#0070ff 0 90.53%,#0078ff 0 92.43%,#007fff 0 94.32%,#0086ff 0 96.21%,#0089ff 0)"></i><i style="top:129.2px;height:8.54px;background:linear-gradient(90deg,#ecffe7 0 3.42%,#ebffe7 0 5.31%,#ebffe8 0 9.1%,#eaffe8 0 10.99%,#eaffe9 0 12.89%,#e9ffe9 0 14.78%,#e9ffea 0 18.57%,#e8ffea 0 20.46%,#e8ffeb 0 24.25%,#e7ffec 0 26.14%,#e6ffed 0 28.04%,#e5ffee 0 29.93%,#e3ffef 0 31.83%,#e2fff0 0 33.72%,#e1fff2 0 35.61%,#e0fff3 0 37.51%,#defff5 0 41.29%,#dcfff6 0 43.19%,#dbfff8 0 45.08%,#dafff9 0 46.98%,#d9fffa 0 48.87%,#d8fffb 0 50.76%,#d7fffc 0 52.66%,#d5fffd 0 54.55%,#d4fffe 0 56.44%,#00f9ff 0 58.34%,#00edff 0 60.23%,#00ddff 0 62.13%,#00c9ff 0 64.02%,#00b3ff 0 65.91%,#009fff 0 67.81%,#008eff 0 69.7%,#0080ff 0 71.59%,#0078ff 0 73.49%,#007bff 0 75.38%,#0082ff 0 77.28%,#008bff 0 79.17%,#0098ff 0 81.06%,#00a7ff 0 82.96%,#00b6ff 0 84.85%,#00c2ff 0 86.74%,#00cdff 0 88.64%,#00d7ff 0 90.53%,#00deff 0 92.43%,#00e2ff 0 94.32%,#00e5ff 0 96.21%,#00e7ff 0)"></i><i style="top:137.34px;height:8.54px;background:linear-gradient(90deg,#f1ffe2 0 5.31%,#f0ffe2 0 9.1%,#f0ffe3 0 14.78%,#efffe3 0 18.57%,#efffe4 0 24.25%,#eeffe5 0 26.14%,#ecffe6 0 28.04%,#ebffe8 0 29.93%,#e9ffea 0 31.83%,#e7ffec 0 33.72%,#e5ffee 0 35.61%,#e3fff0 0 37.51%,#e1fff1 0 39.4%,#dffff3 0 41.29%,#ddfff5 0 43.19%,#dbfff7 0 45.08%,#d9fff9 0 46.98%,#0bfff4 0 48.87%,#08fff7 0 50.76%,#05fffa 0 52.66%,#01fffe 0 54.55%,#00fdff 0 56.44%,#00f9ff 0 58.34%,#00f6ff 0 60.23%,#00f2ff 0 62.13%,#00eeff 0 64.02%,#00ebff 0 65.91%,#00e8ff 0 77.28%,#00e9ff 0 79.17%,#00edff 0 81.06%,#00f2ff 0 82.96%,#00f7ff 0 84.85%,#00fcff 0 86.74%,#d7fffc 0 88.64%,#dafff9 0 90.53%,#d9fff9 0 92.43%,#d7fffc 0 94.32%,#00ffff 0)"></i><i style="top:145.48px;height:8.54px;background:linear-gradient(90deg,#f9ffda 0 7.21%,#f9ffd9 0 16.68%,#f9ffda 0 20.46%,#f8ffda 0 24.25%,#f8ffdb 0 26.14%,#f7ffdc 0 28.04%,#f6ffdd 0 29.93%,#f5ffde 0 31.83%,#f4ffdf 0 33.72%,#f3ffe0 0 35.61%,#f2ffe1 0 37.51%,#f0ffe2 0 39.4%,#efffe3 0 41.29%,#eeffe4 0 43.19%,#edffe5 0 45.08%,#ecffe7 0 46.98%,#eeffe5 0 48.87%,#edffe6 0 50.76%,#ecffe7 0 52.66%,#ebffe8 0 54.55%,#eaffe9 0 56.44%,#e9ffea 0 58.34%,#e8ffeb 0 60.23%,#e7ffec 0 65.91%,#e6ffec 0 67.81%,#e6ffed 0 75.38%,#e6ffec 0 77.28%,#e7ffec 0 79.17%,#e7ffeb 0 81.06%,#e8ffeb 0 82.96%,#e8ffea 0 84.85%,#e9ffea 0 86.74%,#e7ffec 0 90.53%,#e7ffeb 0 92.43%,#e7ffec 0 94.32%,#eaffe8 0)"></i><i style="top:153.62px;height:8.54px;background:linear-gradient(90deg,#fffcd4 0 3.42%,#fffbd4 0 5.31%,#fffad4 0 7.21%,#fff8d4 0 9.1%,#fff7d4 0 10.99%,#fff6d4 0 14.78%,#fff8d4 0 16.68%,#fffad4 0 18.57%,#fffcd4 0 20.46%,#fffed4 0 22.36%,#ffffd4 0 24.25%,#fdffd5 0 26.14%,#fcffd6 0 28.04%,#fcffd7 0 29.93%,#fbffd8 0 31.83%,#faffd8 0 33.72%,#f9ffd9 0 35.61%,#f9ffda 0 37.51%,#f8ffdb 0 39.4%,#f7ffdb 0 41.29%,#f6ffdc 0 43.19%,#f6ffdd 0 45.08%,#f5ffde 0 46.98%,#f4ffde 0 48.87%,#f4ffdf 0 50.76%,#f3ffdf 0 52.66%,#f2ffe0 0 54.55%,#f2ffe1 0 56.44%,#f1ffe1 0 58.34%,#f0ffe2 0 60.23%,#efffe3 0 62.13%,#eeffe5 0 64.02%,#ecffe6 0 65.91%,#ebffe8 0 67.81%,#e9ffe9 0 69.7%,#e8ffeb 0 71.59%,#e7ffeb 0 73.49%,#e8ffea 0 75.38%,#eaffe9 0 77.28%,#ecffe7 0 79.17%,#eeffe5 0 81.06%,#f0ffe3 0 82.96%,#f1ffe2 0 88.64%,#f0ffe3 0 90.53%,#efffe3 0 92.43%,#efffe4 0 94.32%,#eeffe4 0)"></i><i style="top:161.76px;height:18.14px;background:linear-gradient(90deg,#f6ffdd 0 7.21%,#f5ffdd 0 9.1%,#f5ffde 0 12.89%,#f4ffde 0 14.78%,#f4ffdf 0 16.68%,#f3ffdf 0 18.57%,#f3ffe0 0 20.46%,#f2ffe0 0 22.36%,#f2ffe1 0 31.83%,#f1ffe1 0 35.61%,#f1ffe2 0 37.51%,#f0ffe2 0 39.4%,#efffe3 0 41.29%,#eeffe4 0 43.19%,#edffe5 0 45.08%,#ecffe6 0 46.98%,#ebffe8 0 48.87%,#eaffe9 0 50.76%,#e9ffea 0 52.66%,#e8ffeb 0 54.55%,#e7ffec 0 56.44%,#e6ffed 0 58.34%,#e4ffee 0 60.23%,#e3ffef 0 62.13%,#e2fff1 0 64.02%,#e1fff2 0 65.91%,#dffff3 0 67.81%,#defff4 0 69.7%,#ddfff6 0 71.59%,#dcfff6 0 73.49%,#ddfff6 0 75.38%,#defff5 0 77.28%,#dffff4 0 79.17%,#dffff3 0 81.06%,#e0fff2 0 82.96%,#e1fff1 0 84.85%,#e3fff0 0 86.74%,#e4ffef 0 88.64%,#e6ffed 0 90.53%,#e7ffec 0 92.43%,#e8ffea 0 94.32%,#eaffe9 0 96.21%,#eaffe8 0)"></i></div></div>
<svg width="1650" height="778" viewBox="0 0 1650 778"><defs><linearGradient id="cb" x1="0" y1="0" x2="0" y2="1"><stop offset="0" stop-color="#800000"/><stop offset="0.12" stop-color="#ff0000"/><stop offset="0.38" stop-color="#ffff00"/><stop offset="0.62" stop-color="#00ffff"/><stop offset="0.88" stop-color="#0000ff"/><stop offset="1" stop-color="#000080"/></linearGradient></defs><rect x="266.95" y="65.65" width="176.7" height="163" fill="none" stroke="#262626" stroke-width="2.7"/>
<path d="M312.6 65.65v2.6M400.9 65.65v2.6M266.95 70.1h2.8M266.95 151.3h2.8" stroke="#262626" stroke-width="1.8" fill="none"/>
<rect x="383.7" y="176.4" width="34.9" height="16.3" fill="none" stroke="#000" stroke-width="1.9"/>
<rect x="485.45" y="64.8" width="26.15" height="163.5" fill="url(#cb)" stroke="#262626" stroke-width="2.4"/>
<path d="M510.4 146.55h-2.6" stroke="#262626" stroke-width="1.6"/>
<g transform="translate(248.60 84.60) scale(1.149 1)"><text font-size="37.5" fill="#262626" text-anchor="end">40</text></g>
<g transform="translate(248.60 166.20) scale(1.149 1)"><text font-size="37.5" fill="#262626" text-anchor="end">20</text></g>
<g transform="translate(312.10 281.50) scale(1.149 1)"><text font-size="37.5" fill="#262626" text-anchor="middle">0</text></g>
<g transform="translate(400.40 281.50) scale(1.149 1)"><text font-size="37.5" fill="#262626" text-anchor="middle">0.5</text></g>
<g transform="translate(526.90 78.10) scale(1.116 1)"><text font-size="35.0" fill="#262626" text-anchor="start">0.2</text></g>
<g transform="translate(526.90 160.75) scale(1.116 1)"><text font-size="35.0" fill="#262626" text-anchor="start">0</text></g>
<g transform="translate(526.90 242.40) scale(1.116 1)"><text font-size="35.0" fill="#262626" text-anchor="start">-0.2</text></g>
<rect x="768.75" y="65.65" width="177.5" height="163" fill="none" stroke="#262626" stroke-width="2.7"/>
<path d="M814.4 65.65v2.6M902.7 65.65v2.6M768.75 70.1h2.8M768.75 151.3h2.8" stroke="#262626" stroke-width="1.8" fill="none"/>
<rect x="885.5" y="176.4" width="34.9" height="16.3" fill="none" stroke="#000" stroke-width="1.9"/>
<rect x="989.3" y="64.8" width="27.8" height="163.5" fill="url(#cb)" stroke="#262626" stroke-width="2.4"/>
<path d="M1015.9 146.55h-2.6" stroke="#262626" stroke-width="1.6"/>
<g transform="translate(750.40 84.60) scale(1.149 1)"><text font-size="37.5" fill="#262626" text-anchor="end">40</text></g>
<g transform="translate(750.40 166.20) scale(1.149 1)"><text font-size="37.5" fill="#262626" text-anchor="end">20</text></g>
<g transform="translate(813.90 281.50) scale(1.149 1)"><text font-size="37.5" fill="#262626" text-anchor="middle">0</text></g>
<g transform="translate(902.20 281.50) scale(1.149 1)"><text font-size="37.5" fill="#262626" text-anchor="middle">0.5</text></g>
<g transform="translate(1032.70 78.10) scale(1.116 1)"><text font-size="35.0" fill="#262626" text-anchor="start">0.2</text></g>
<g transform="translate(1032.70 160.75) scale(1.116 1)"><text font-size="35.0" fill="#262626" text-anchor="start">0</text></g>
<g transform="translate(1032.70 242.40) scale(1.116 1)"><text font-size="35.0" fill="#262626" text-anchor="start">-0.2</text></g>
<rect x="1270.15" y="65.65" width="177.4" height="163" fill="none" stroke="#262626" stroke-width="2.7"/>
<path d="M1317 65.65v2.6M1407.3 65.65v2.6M1270.15 70.1h2.8M1270.15 151.3h2.8" stroke="#262626" stroke-width="1.8" fill="none"/>
<rect x="1388.7" y="176.4" width="37" height="16.3" fill="none" stroke="#000" stroke-width="1.9"/>
<rect x="1490.45" y="64.8" width="26.9" height="163.5" fill="url(#cb)" stroke="#262626" stroke-width="2.4"/>
<path d="M1516.15 146.55h-2.6" stroke="#262626" stroke-width="1.6"/>
<g transform="translate(1251.80 84.60) scale(1.149 1)"><text font-size="37.5" fill="#262626" text-anchor="end">40</text></g>
<g transform="translate(1251.80 166.20) scale(1.149 1)"><text font-size="37.5" fill="#262626" text-anchor="end">20</text></g>
<g transform="translate(1316.50 281.50) scale(1.149 1)"><text font-size="37.5" fill="#262626" text-anchor="middle">0</text></g>
<g transform="translate(1406.80 281.50) scale(1.149 1)"><text font-size="37.5" fill="#262626" text-anchor="middle">0.5</text></g>
<g transform="translate(1532.30 78.10) scale(1.116 1)"><text font-size="35.0" fill="#262626" text-anchor="start">10</text><path fill="#fff" d="M2.05 -4.02h6.72v5.47h-6.72zM11.92 -4.02h6.43v5.47h-6.43z"/></g>
<g transform="translate(1532.30 160.75) scale(1.116 1)"><text font-size="35.0" fill="#262626" text-anchor="start">0</text></g>
<g transform="translate(1532.30 242.40) scale(1.116 1)"><text font-size="35.0" fill="#262626" text-anchor="start">-10</text><path fill="#fff" d="M13.71 -4.02h6.72v5.47h-6.72zM23.58 -4.02h6.43v5.47h-6.43z"/></g>
<rect x="266.95" y="313.65" width="176.7" height="163" fill="none" stroke="#262626" stroke-width="2.7"/>
<path d="M266.95 318.1h2.8M266.95 399.3h2.8" stroke="#262626" stroke-width="1.8" fill="none"/>
<rect x="383.7" y="424.4" width="34.9" height="16.3" fill="none" stroke="#000" stroke-width="1.9"/>
<rect x="485.45" y="315.4" width="26.15" height="160.4" fill="url(#cb)" stroke="#262626" stroke-width="2.4"/>
<path d="M510.4 395.6h-2.6" stroke="#262626" stroke-width="1.6"/>
<g transform="translate(248.60 332.60) scale(1.149 1)"><text font-size="37.5" fill="#262626" text-anchor="end">40</text></g>
<g transform="translate(248.60 414.20) scale(1.149 1)"><text font-size="37.5" fill="#262626" text-anchor="end">20</text></g>
<g transform="translate(312.10 529.50) scale(1.149 1)"><text font-size="37.5" fill="#262626" text-anchor="middle">0</text></g>
<g transform="translate(400.40 529.50) scale(1.149 1)"><text font-size="37.5" fill="#262626" text-anchor="middle">0.5</text></g>
<g transform="translate(526.90 328.70) scale(1.116 1)"><text font-size="35.0" fill="#262626" text-anchor="start">0.2</text></g>
<g transform="translate(526.90 409.80) scale(1.116 1)"><text font-size="35.0" fill="#262626" text-anchor="start">0</text></g>
<g transform="translate(526.90 489.90) scale(1.116 1)"><text font-size="35.0" fill="#262626" text-anchor="start">-0.2</text></g>
<rect x="768.75" y="313.65" width="177.5" height="163" fill="none" stroke="#262626" stroke-width="2.7"/>
<path d="M768.75 318.1h2.8M768.75 399.3h2.8" stroke="#262626" stroke-width="1.8" fill="none"/>
<rect x="885.5" y="424.4" width="34.9" height="16.3" fill="none" stroke="#000" stroke-width="1.9"/>
<rect x="989.3" y="315.4" width="27.8" height="160.4" fill="url(#cb)" stroke="#262626" stroke-width="2.4"/>
<path d="M1015.9 395.6h-2.6" stroke="#262626" stroke-width="1.6"/>
<g transform="translate(750.40 332.60) scale(1.149 1)"><text font-size="37.5" fill="#262626" text-anchor="end">40</text></g>
<g transform="translate(750.40 414.20) scale(1.149 1)"><text font-size="37.5" fill="#262626" text-anchor="end">20</text></g>
<g transform="translate(813.90 529.50) scale(1.149 1)"><text font-size="37.5" fill="#262626" text-anchor="middle">0</text></g>
<g transform="translate(902.20 529.50) scale(1.149 1)"><text font-size="37.5" fill="#262626" text-anchor="middle">0.5</text></g>
<g transform="translate(1032.70 328.70) scale(1.116 1)"><text font-size="35.0" fill="#262626" text-anchor="start">0.2</text></g>
<g transform="translate(1032.70 409.80) scale(1.116 1)"><text font-size="35.0" fill="#262626" text-anchor="start">0</text></g>
<g transform="translate(1032.70 489.90) scale(1.116 1)"><text font-size="35.0" fill="#262626" text-anchor="start">-0.2</text></g>
<rect x="1270.15" y="313.65" width="177.4" height="163" fill="none" stroke="#262626" stroke-width="2.7"/>
<path d="M1270.15 318.1h2.8M1270.15 399.3h2.8" stroke="#262626" stroke-width="1.8" fill="none"/>
<rect x="1388.7" y="424.4" width="37" height="16.3" fill="none" stroke="#000" stroke-width="1.9"/>
<rect x="1490.45" y="315.4" width="26.9" height="160.4" fill="url(#cb)" stroke="#262626" stroke-width="2.4"/>
<path d="M1516.15 395.6h-2.6" stroke="#262626" stroke-width="1.6"/>
<g transform="translate(1251.80 332.60) scale(1.149 1)"><text font-size="37.5" fill="#262626" text-anchor="end">40</text></g>
<g transform="translate(1251.80 414.20) scale(1.149 1)"><text font-size="37.5" fill="#262626" text-anchor="end">20</text></g>
<g transform="translate(1316.50 529.50) scale(1.149 1)"><text font-size="37.5" fill="#262626" text-anchor="middle">0</text></g>
<g transform="translate(1406.80 529.50) scale(1.149 1)"><text font-size="37.5" fill="#262626" text-anchor="middle">0.5</text></g>
<g transform="translate(1532.30 328.70) scale(1.116 1)"><text font-size="35.0" fill="#262626" text-anchor="start">10</text><path fill="#fff" d="M2.05 -4.02h6.72v5.47h-6.72zM11.92 -4.02h6.43v5.47h-6.43z"/></g>
<g transform="translate(1532.30 409.80) scale(1.116 1)"><text font-size="35.0" fill="#262626" text-anchor="start">0</text></g>
<g transform="translate(1532.30 489.90) scale(1.116 1)"><text font-size="35.0" fill="#262626" text-anchor="start">-10</text><path fill="#fff" d="M13.71 -4.02h6.72v5.47h-6.72zM23.58 -4.02h6.43v5.47h-6.43z"/></g>
<rect x="266.95" y="561.65" width="176.7" height="163" fill="none" stroke="#262626" stroke-width="2.7"/>
<path d="M313.8 561.65v2.6M313.8 724.65v-2.4M404.1 561.65v2.6M404.1 724.65v-2.4M266.95 566.1h2.8M266.95 647.3h2.8" stroke="#262626" stroke-width="1.8" fill="none"/>
<rect x="385.5" y="672.4" width="37" height="16.3" fill="none" stroke="#000" stroke-width="1.9"/>
<rect x="485.45" y="562.4" width="26.15" height="161.8" fill="url(#cb)" stroke="#262626" stroke-width="2.4"/>
<path d="M510.4 643.3h-2.6" stroke="#262626" stroke-width="1.6"/>
<g transform="translate(248.60 580.60) scale(1.149 1)"><text font-size="37.5" fill="#262626" text-anchor="end">40</text></g>
<g transform="translate(248.60 662.20) scale(1.149 1)"><text font-size="37.5" fill="#262626" text-anchor="end">20</text></g>
<g transform="translate(313.30 777.50) scale(1.149 1)"><text font-size="37.5" fill="#262626" text-anchor="middle">0</text></g>
<g transform="translate(403.60 777.50) scale(1.149 1)"><text font-size="37.5" fill="#262626" text-anchor="middle">0.5</text></g>
<g transform="translate(526.90 575.70) scale(1.116 1)"><text font-size="35.0" fill="#262626" text-anchor="start">10</text><path fill="#fff" d="M2.05 -4.02h6.72v5.47h-6.72zM11.92 -4.02h6.43v5.47h-6.43z"/></g>
<g transform="translate(526.90 657.50) scale(1.116 1)"><text font-size="35.0" fill="#262626" text-anchor="start">0</text></g>
<g transform="translate(526.90 738.30) scale(1.116 1)"><text font-size="35.0" fill="#262626" text-anchor="start">-10</text><path fill="#fff" d="M13.71 -4.02h6.72v5.47h-6.72zM23.58 -4.02h6.43v5.47h-6.43z"/></g>
<rect x="768.75" y="561.65" width="177.5" height="163" fill="none" stroke="#262626" stroke-width="2.7"/>
<path d="M815.6 561.65v2.6M815.6 724.65v-2.4M905.9 561.65v2.6M905.9 724.65v-2.4M768.75 566.1h2.8M768.75 647.3h2.8" stroke="#262626" stroke-width="1.8" fill="none"/>
<rect x="887.3" y="672.4" width="37" height="16.3" fill="none" stroke="#000" stroke-width="1.9"/>
<rect x="989.3" y="562.4" width="27.8" height="161.8" fill="url(#cb)" stroke="#262626" stroke-width="2.4"/>
<path d="M1015.9 643.3h-2.6" stroke="#262626" stroke-width="1.6"/>
<g transform="translate(750.40 580.60) scale(1.149 1)"><text font-size="37.5" fill="#262626" text-anchor="end">40</text></g>
<g transform="translate(750.40 662.20) scale(1.149 1)"><text font-size="37.5" fill="#262626" text-anchor="end">20</text></g>
<g transform="translate(815.10 777.50) scale(1.149 1)"><text font-size="37.5" fill="#262626" text-anchor="middle">0</text></g>
<g transform="translate(905.40 777.50) scale(1.149 1)"><text font-size="37.5" fill="#262626" text-anchor="middle">0.5</text></g>
<g transform="translate(1032.70 575.70) scale(1.116 1)"><text font-size="35.0" fill="#262626" text-anchor="start">10</text><path fill="#fff" d="M2.05 -4.02h6.72v5.47h-6.72zM11.92 -4.02h6.43v5.47h-6.43z"/></g>
<g transform="translate(1032.70 657.50) scale(1.116 1)"><text font-size="35.0" fill="#262626" text-anchor="start">0</text></g>
<g transform="translate(1032.70 738.30) scale(1.116 1)"><text font-size="35.0" fill="#262626" text-anchor="start">-10</text><path fill="#fff" d="M13.71 -4.02h6.72v5.47h-6.72zM23.58 -4.02h6.43v5.47h-6.43z"/></g>
<rect x="1270.15" y="561.65" width="177.4" height="163" fill="none" stroke="#262626" stroke-width="2.7"/>
<path d="M1317 561.65v2.6M1317 724.65v-2.4M1407.3 561.65v2.6M1407.3 724.65v-2.4M1270.15 566.1h2.8M1270.15 647.3h2.8" stroke="#262626" stroke-width="1.8" fill="none"/>
<rect x="1388.7" y="672.4" width="37" height="16.3" fill="none" stroke="#000" stroke-width="1.9"/>
<rect x="1490.45" y="562.4" width="26.9" height="161.8" fill="url(#cb)" stroke="#262626" stroke-width="2.4"/>
<path d="M1516.15 643.3h-2.6" stroke="#262626" stroke-width="1.6"/>
<g transform="translate(1251.80 580.60) scale(1.149 1)"><text font-size="37.5" fill="#262626" text-anchor="end">40</text></g>
<g transform="translate(1251.80 662.20) scale(1.149 1)"><text font-size="37.5" fill="#262626" text-anchor="end">20</text></g>
<g transform="translate(1316.50 777.50) scale(1.149 1)"><text font-size="37.5" fill="#262626" text-anchor="middle">0</text></g>
<g transform="translate(1406.80 777.50) scale(1.149 1)"><text font-size="37.5" fill="#262626" text-anchor="middle">0.5</text></g>
<g transform="translate(1532.30 575.70) scale(1.116 1)"><text font-size="35.0" fill="#262626" text-anchor="start">10</text><path fill="#fff" d="M2.05 -4.02h6.72v5.47h-6.72zM11.92 -4.02h6.43v5.47h-6.43z"/></g>
<g transform="translate(1532.30 657.50) scale(1.116 1)"><text font-size="35.0" fill="#262626" text-anchor="start">0</text></g>
<g transform="translate(1532.30 738.30) scale(1.116 1)"><text font-size="35.0" fill="#262626" text-anchor="start">-10</text><path fill="#fff" d="M13.71 -4.02h6.72v5.47h-6.72zM23.58 -4.02h6.43v5.47h-6.43z"/></g>
<text transform="translate(273.20 33.90) scale(1.060 1)" font-size="43" font-weight="normal" fill="#000" text-anchor="start">attended</text>
<text transform="translate(750.00 33.90) scale(1.069 1)" font-size="43" font-weight="normal" fill="#000" text-anchor="start">unattended</text>
<text transform="translate(1263.50 33.90) scale(1.054 1)" font-size="43" font-weight="normal" fill="#000" text-anchor="start">difference</text>
<text transform="translate(180.60 37.00) scale(1.040 1)" font-size="41" font-weight="bold" fill="#000" text-anchor="start">a</text>
<text transform="translate(659.30 36.30) scale(1.100 1)" font-size="41" font-weight="bold" fill="#000" text-anchor="start">b</text>
<text transform="translate(1143.50 36.80) scale(0.930 1)" font-size="41" font-weight="bold" fill="#000" text-anchor="start">c</text>
<text transform="translate(179.30 283.80) scale(1.100 1)" font-size="41" font-weight="bold" fill="#000" text-anchor="start">d</text>
<text transform="translate(659.80 284.00) scale(1.170 1)" font-size="41" font-weight="bold" fill="#000" text-anchor="start">e</text>
<text transform="translate(1147.20 283.50) scale(1.250 1)" font-size="41" font-weight="bold" fill="#000" text-anchor="start">f</text>
<text transform="translate(179.30 532.10) scale(1.150 1)" font-size="41" font-weight="bold" fill="#000" text-anchor="start">g</text>
<text transform="translate(660.00 532.00) scale(1.100 1)" font-size="41" font-weight="bold" fill="#000" text-anchor="start">h</text>
<text transform="translate(1154.80 532.10) scale(1.330 1)" font-size="41" font-weight="bold" fill="#000" text-anchor="start">i</text>
<text transform="translate(-2.00 629.00) scale(1.054 1)" font-size="43" font-weight="normal" fill="#000" text-anchor="start">difference</text>
<text transform="translate(665.00 471.50) rotate(-90) scale(1.057 1)" font-size="43" font-weight="normal" fill="#000" text-anchor="start">log-power</text>
<text transform="translate(1649.00 711.50) rotate(-90) scale(1.040 1)" font-size="43" font-weight="normal" fill="#000" text-anchor="start">t-value</text>
<g transform="translate(77.70 149.60) scale(0.15432 0.15432) translate(-179.5 -678)" fill="none" stroke="#161616" stroke-width="9.07" stroke-linejoin="round" stroke-linecap="butt"><path d="M117 678L128 365Q128 352 118 345Q110 338 110 322L110 162Q110 146 124.5 146Q139 146 139 160L139 120Q139 105 155 105Q171 105 171 120L171 104Q171 89 187 89Q203 89 203 104L203 122Q203 106 218 106Q233 106 233 122L233 300Q250 285 262 240Q268 226 282 228Q294 230 290 246Q284 285 268 318Q255 338 236 352Q230 358 232 372L242 678"/><path d="M139 160L139 240M171 120L171 240M203 122L203 240"/></g>
<g transform="translate(124.60 149.60) scale(-0.15432 0.15432) translate(-179.5 -678)" fill="none" stroke="#161616" stroke-width="9.07" stroke-linejoin="round" stroke-linecap="butt"><path d="M117 678L128 365Q128 352 118 345Q110 338 110 322L110 162Q110 146 124.5 146Q139 146 139 160L139 120Q139 105 155 105Q171 105 171 120L171 104Q171 89 187 89Q203 89 203 104L203 122Q203 106 218 106Q233 106 233 122L233 300Q250 285 262 240Q268 226 282 228Q294 230 290 246Q284 285 268 318Q255 338 236 352Q230 358 232 372L242 678"/><path d="M139 160L139 240M171 120L171 240M203 122L203 240"/></g>
<g transform="translate(80.10 382.70) rotate(45) scale(0.15432 0.15201) translate(-179.5 -678)" fill="none" stroke="#161616" stroke-width="9.07" stroke-linejoin="round" stroke-linecap="butt"><path d="M117 678L128 365Q128 352 118 345Q110 338 110 322L110 162Q110 146 124.5 146Q139 146 139 160L139 120Q139 105 155 105Q171 105 171 120L171 104Q171 89 187 89Q203 89 203 104L203 122Q203 106 218 106Q233 106 233 122L233 300Q250 285 262 240Q268 226 282 228Q294 230 290 246Q284 285 268 318Q255 338 236 352Q230 358 232 372L242 678"/><path d="M139 160L139 240M171 120L171 240M203 122L203 240"/></g>
<g transform="translate(122.50 382.70) rotate(-45) scale(-0.15432 0.15201) translate(-179.5 -678)" fill="none" stroke="#161616" stroke-width="9.07" stroke-linejoin="round" stroke-linecap="butt"><path d="M117 678L128 365Q128 352 118 345Q110 338 110 322L110 162Q110 146 124.5 146Q139 146 139 160L139 120Q139 105 155 105Q171 105 171 120L171 104Q171 89 187 89Q203 89 203 104L203 122Q203 106 218 106Q233 106 233 122L233 300Q250 285 262 240Q268 226 282 228Q294 230 290 246Q284 285 268 318Q255 338 236 352Q230 358 232 372L242 678Z" fill="#fff" stroke="none"/><path d="M117 678L128 365Q128 352 118 345Q110 338 110 322L110 162Q110 146 124.5 146Q139 146 139 160L139 120Q139 105 155 105Q171 105 171 120L171 104Q171 89 187 89Q203 89 203 104L203 122Q203 106 218 106Q233 106 233 122L233 300Q250 285 262 240Q268 226 282 228Q294 230 290 246Q284 285 268 318Q255 338 236 352Q230 358 232 372L242 678"/><path d="M139 160L139 240M171 120L171 240M203 122L203 240"/></g></svg>
</div>
</body></html>
